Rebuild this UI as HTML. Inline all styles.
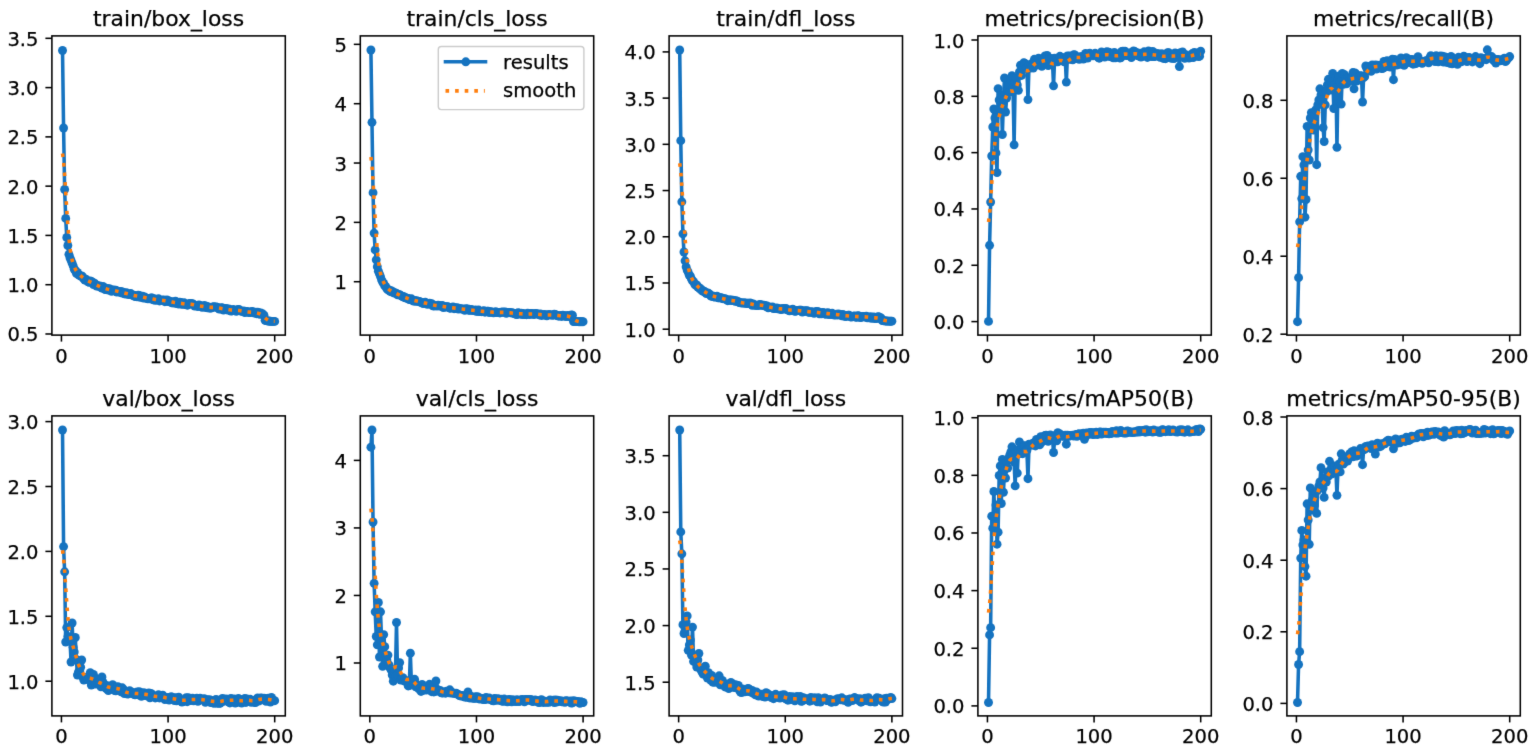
<!DOCTYPE html>
<html><head><meta charset="utf-8"><title>results</title>
<style>
html,body{margin:0;padding:0;background:#fff;}
body{width:1535px;height:751px;overflow:hidden;}
#w{width:1535px;height:751px;}
svg{display:block;font-family:"DejaVu Sans","Liberation Sans",sans-serif;font-size:19.56px;fill:#000;}
text{stroke:#000;stroke-width:0.25px;}
</style></head><body><div id="w">
<svg width="1535" height="751" viewBox="0 0 1535 751">
<defs><filter id="bl" x="0" y="0" width="1" height="1" filterUnits="objectBoundingBox" color-interpolation-filters="sRGB"><feConvolveMatrix order="3" kernelMatrix="0.00810 0.07380 0.00810 0.07380 0.67240 0.07380 0.00810 0.07380 0.00810" edgeMode="duplicate" preserveAlpha="true"/></filter></defs>
<rect width="1535" height="751" fill="#ffffff"/>
<g filter="url(#bl)">
<rect width="1535" height="751" fill="#ffffff"/>
<g><clipPath id="c0"><rect x="51.90" y="35.90" width="233.40" height="299.20"/></clipPath>
<g clip-path="url(#c0)">
<polyline points="62.51,50.50 63.58,128.00 64.64,189.50 65.71,218.40 66.77,237.50 67.84,245.50 68.91,254.30 69.97,257.68 71.04,260.32 72.11,263.09 73.17,265.79 74.24,269.33 75.30,270.29 76.37,273.26 77.44,272.35 78.50,274.85 79.57,275.08 80.64,276.18 81.70,275.90 82.77,276.78 83.83,278.96 84.90,280.07 85.97,279.17 87.03,280.72 88.10,281.77 89.17,282.39 90.23,281.00 91.30,281.43 92.36,282.26 93.43,284.48 94.50,283.11 95.56,284.37 96.63,286.13 97.70,285.58 98.76,286.41 99.83,285.94 100.89,287.26 101.96,288.02 103.03,286.45 104.09,288.59 105.16,289.53 106.22,289.30 107.29,288.51 108.36,290.05 109.42,288.71 110.49,289.84 111.56,291.23 112.62,290.04 113.69,290.29 114.75,290.18 115.82,290.18 116.89,292.01 117.95,291.14 119.02,291.51 120.09,292.30 121.15,291.49 122.22,292.98 123.28,292.19 124.35,293.49 125.42,293.98 126.48,292.78 127.55,293.76 128.62,294.65 129.68,294.20 130.75,293.55 131.81,294.93 132.88,295.45 133.95,295.31 135.01,296.55 136.08,295.90 137.15,296.87 138.21,295.24 139.28,295.44 140.34,297.25 141.41,296.46 142.48,296.10 143.54,298.13 144.61,296.93 145.68,298.09 146.74,298.22 147.81,298.79 148.87,298.36 149.94,298.85 151.01,298.07 152.07,298.06 153.14,299.75 154.21,298.81 155.27,300.28 156.34,299.74 157.40,299.82 158.47,298.78 159.54,300.96 160.60,299.93 161.67,300.42 162.74,300.18 163.80,299.94 164.87,301.72 165.93,301.10 167.00,299.90 168.07,301.54 169.13,301.01 170.20,301.66 171.27,302.69 172.33,301.58 173.40,303.07 174.46,302.55 175.53,301.26 176.60,303.61 177.66,303.20 178.73,304.10 179.80,302.28 180.86,302.35 181.93,304.42 182.99,304.01 184.06,302.66 185.13,304.47 186.19,304.62 187.26,305.18 188.33,304.83 189.39,303.57 190.46,303.47 191.52,303.64 192.59,303.80 193.66,304.47 194.72,306.10 195.79,305.48 196.86,305.66 197.92,306.50 198.99,304.93 200.05,305.45 201.12,306.34 202.19,307.40 203.25,306.57 204.32,305.42 205.39,307.44 206.45,306.22 207.52,307.75 208.58,306.89 209.65,308.17 210.72,308.04 211.78,307.72 212.85,306.85 213.92,306.80 214.98,307.09 216.05,307.03 217.11,307.32 218.18,307.73 219.25,309.02 220.31,308.78 221.38,307.59 222.45,307.86 223.51,310.13 224.58,309.30 225.64,308.54 226.71,308.78 227.78,310.08 228.84,308.88 229.91,309.93 230.98,310.98 232.04,310.81 233.11,309.47 234.17,310.20 235.24,310.62 236.31,311.25 237.37,309.75 238.44,309.55 239.50,309.79 240.57,310.92 241.64,311.33 242.70,311.37 243.77,310.90 244.84,312.64 245.90,311.79 246.97,311.45 248.03,312.00 249.10,312.60 250.17,312.56 251.23,311.74 252.30,311.41 253.37,312.29 254.43,313.06 255.50,312.21 256.56,313.68 257.63,312.19 258.70,312.82 259.76,314.27 260.83,312.90 261.90,314.11 262.96,314.07 264.03,315.42 265.09,320.30 266.16,320.59 267.23,320.83 268.29,321.01 269.36,321.16 270.43,321.26 271.49,321.33 272.56,321.37 273.62,321.39 274.69,321.40" fill="none" stroke="#1573c0" stroke-width="3.56" stroke-linejoin="round" stroke-linecap="square"/>
<circle cx="62.51" cy="50.50" r="4.45" fill="#1573c0"/>
<circle cx="63.58" cy="128.00" r="4.45" fill="#1573c0"/>
<circle cx="64.64" cy="189.50" r="4.45" fill="#1573c0"/>
<circle cx="65.71" cy="218.40" r="4.45" fill="#1573c0"/>
<circle cx="66.77" cy="237.50" r="4.45" fill="#1573c0"/>
<circle cx="67.84" cy="245.50" r="4.45" fill="#1573c0"/>
<circle cx="68.91" cy="254.30" r="4.45" fill="#1573c0"/>
<circle cx="69.97" cy="257.68" r="4.45" fill="#1573c0"/>
<circle cx="71.04" cy="260.32" r="4.45" fill="#1573c0"/>
<circle cx="72.11" cy="263.09" r="4.45" fill="#1573c0"/>
<circle cx="73.17" cy="265.79" r="4.45" fill="#1573c0"/>
<circle cx="74.24" cy="269.33" r="4.45" fill="#1573c0"/>
<circle cx="75.30" cy="270.29" r="4.45" fill="#1573c0"/>
<circle cx="76.37" cy="273.26" r="4.45" fill="#1573c0"/>
<circle cx="77.44" cy="272.35" r="4.45" fill="#1573c0"/>
<circle cx="78.50" cy="274.85" r="4.45" fill="#1573c0"/>
<circle cx="79.57" cy="275.08" r="4.45" fill="#1573c0"/>
<circle cx="80.64" cy="276.18" r="4.45" fill="#1573c0"/>
<circle cx="81.70" cy="275.90" r="4.45" fill="#1573c0"/>
<circle cx="82.77" cy="276.78" r="4.45" fill="#1573c0"/>
<circle cx="83.83" cy="278.96" r="4.45" fill="#1573c0"/>
<circle cx="84.90" cy="280.07" r="4.45" fill="#1573c0"/>
<circle cx="85.97" cy="279.17" r="4.45" fill="#1573c0"/>
<circle cx="87.03" cy="280.72" r="4.45" fill="#1573c0"/>
<circle cx="88.10" cy="281.77" r="4.45" fill="#1573c0"/>
<circle cx="89.17" cy="282.39" r="4.45" fill="#1573c0"/>
<circle cx="90.23" cy="281.00" r="4.45" fill="#1573c0"/>
<circle cx="91.30" cy="281.43" r="4.45" fill="#1573c0"/>
<circle cx="92.36" cy="282.26" r="4.45" fill="#1573c0"/>
<circle cx="93.43" cy="284.48" r="4.45" fill="#1573c0"/>
<circle cx="94.50" cy="283.11" r="4.45" fill="#1573c0"/>
<circle cx="95.56" cy="284.37" r="4.45" fill="#1573c0"/>
<circle cx="96.63" cy="286.13" r="4.45" fill="#1573c0"/>
<circle cx="97.70" cy="285.58" r="4.45" fill="#1573c0"/>
<circle cx="98.76" cy="286.41" r="4.45" fill="#1573c0"/>
<circle cx="99.83" cy="285.94" r="4.45" fill="#1573c0"/>
<circle cx="100.89" cy="287.26" r="4.45" fill="#1573c0"/>
<circle cx="101.96" cy="288.02" r="4.45" fill="#1573c0"/>
<circle cx="103.03" cy="286.45" r="4.45" fill="#1573c0"/>
<circle cx="104.09" cy="288.59" r="4.45" fill="#1573c0"/>
<circle cx="105.16" cy="289.53" r="4.45" fill="#1573c0"/>
<circle cx="106.22" cy="289.30" r="4.45" fill="#1573c0"/>
<circle cx="107.29" cy="288.51" r="4.45" fill="#1573c0"/>
<circle cx="108.36" cy="290.05" r="4.45" fill="#1573c0"/>
<circle cx="109.42" cy="288.71" r="4.45" fill="#1573c0"/>
<circle cx="110.49" cy="289.84" r="4.45" fill="#1573c0"/>
<circle cx="111.56" cy="291.23" r="4.45" fill="#1573c0"/>
<circle cx="112.62" cy="290.04" r="4.45" fill="#1573c0"/>
<circle cx="113.69" cy="290.29" r="4.45" fill="#1573c0"/>
<circle cx="114.75" cy="290.18" r="4.45" fill="#1573c0"/>
<circle cx="115.82" cy="290.18" r="4.45" fill="#1573c0"/>
<circle cx="116.89" cy="292.01" r="4.45" fill="#1573c0"/>
<circle cx="117.95" cy="291.14" r="4.45" fill="#1573c0"/>
<circle cx="119.02" cy="291.51" r="4.45" fill="#1573c0"/>
<circle cx="120.09" cy="292.30" r="4.45" fill="#1573c0"/>
<circle cx="121.15" cy="291.49" r="4.45" fill="#1573c0"/>
<circle cx="122.22" cy="292.98" r="4.45" fill="#1573c0"/>
<circle cx="123.28" cy="292.19" r="4.45" fill="#1573c0"/>
<circle cx="124.35" cy="293.49" r="4.45" fill="#1573c0"/>
<circle cx="125.42" cy="293.98" r="4.45" fill="#1573c0"/>
<circle cx="126.48" cy="292.78" r="4.45" fill="#1573c0"/>
<circle cx="127.55" cy="293.76" r="4.45" fill="#1573c0"/>
<circle cx="128.62" cy="294.65" r="4.45" fill="#1573c0"/>
<circle cx="129.68" cy="294.20" r="4.45" fill="#1573c0"/>
<circle cx="130.75" cy="293.55" r="4.45" fill="#1573c0"/>
<circle cx="131.81" cy="294.93" r="4.45" fill="#1573c0"/>
<circle cx="132.88" cy="295.45" r="4.45" fill="#1573c0"/>
<circle cx="133.95" cy="295.31" r="4.45" fill="#1573c0"/>
<circle cx="135.01" cy="296.55" r="4.45" fill="#1573c0"/>
<circle cx="136.08" cy="295.90" r="4.45" fill="#1573c0"/>
<circle cx="137.15" cy="296.87" r="4.45" fill="#1573c0"/>
<circle cx="138.21" cy="295.24" r="4.45" fill="#1573c0"/>
<circle cx="139.28" cy="295.44" r="4.45" fill="#1573c0"/>
<circle cx="140.34" cy="297.25" r="4.45" fill="#1573c0"/>
<circle cx="141.41" cy="296.46" r="4.45" fill="#1573c0"/>
<circle cx="142.48" cy="296.10" r="4.45" fill="#1573c0"/>
<circle cx="143.54" cy="298.13" r="4.45" fill="#1573c0"/>
<circle cx="144.61" cy="296.93" r="4.45" fill="#1573c0"/>
<circle cx="145.68" cy="298.09" r="4.45" fill="#1573c0"/>
<circle cx="146.74" cy="298.22" r="4.45" fill="#1573c0"/>
<circle cx="147.81" cy="298.79" r="4.45" fill="#1573c0"/>
<circle cx="148.87" cy="298.36" r="4.45" fill="#1573c0"/>
<circle cx="149.94" cy="298.85" r="4.45" fill="#1573c0"/>
<circle cx="151.01" cy="298.07" r="4.45" fill="#1573c0"/>
<circle cx="152.07" cy="298.06" r="4.45" fill="#1573c0"/>
<circle cx="153.14" cy="299.75" r="4.45" fill="#1573c0"/>
<circle cx="154.21" cy="298.81" r="4.45" fill="#1573c0"/>
<circle cx="155.27" cy="300.28" r="4.45" fill="#1573c0"/>
<circle cx="156.34" cy="299.74" r="4.45" fill="#1573c0"/>
<circle cx="157.40" cy="299.82" r="4.45" fill="#1573c0"/>
<circle cx="158.47" cy="298.78" r="4.45" fill="#1573c0"/>
<circle cx="159.54" cy="300.96" r="4.45" fill="#1573c0"/>
<circle cx="160.60" cy="299.93" r="4.45" fill="#1573c0"/>
<circle cx="161.67" cy="300.42" r="4.45" fill="#1573c0"/>
<circle cx="162.74" cy="300.18" r="4.45" fill="#1573c0"/>
<circle cx="163.80" cy="299.94" r="4.45" fill="#1573c0"/>
<circle cx="164.87" cy="301.72" r="4.45" fill="#1573c0"/>
<circle cx="165.93" cy="301.10" r="4.45" fill="#1573c0"/>
<circle cx="167.00" cy="299.90" r="4.45" fill="#1573c0"/>
<circle cx="168.07" cy="301.54" r="4.45" fill="#1573c0"/>
<circle cx="169.13" cy="301.01" r="4.45" fill="#1573c0"/>
<circle cx="170.20" cy="301.66" r="4.45" fill="#1573c0"/>
<circle cx="171.27" cy="302.69" r="4.45" fill="#1573c0"/>
<circle cx="172.33" cy="301.58" r="4.45" fill="#1573c0"/>
<circle cx="173.40" cy="303.07" r="4.45" fill="#1573c0"/>
<circle cx="174.46" cy="302.55" r="4.45" fill="#1573c0"/>
<circle cx="175.53" cy="301.26" r="4.45" fill="#1573c0"/>
<circle cx="176.60" cy="303.61" r="4.45" fill="#1573c0"/>
<circle cx="177.66" cy="303.20" r="4.45" fill="#1573c0"/>
<circle cx="178.73" cy="304.10" r="4.45" fill="#1573c0"/>
<circle cx="179.80" cy="302.28" r="4.45" fill="#1573c0"/>
<circle cx="180.86" cy="302.35" r="4.45" fill="#1573c0"/>
<circle cx="181.93" cy="304.42" r="4.45" fill="#1573c0"/>
<circle cx="182.99" cy="304.01" r="4.45" fill="#1573c0"/>
<circle cx="184.06" cy="302.66" r="4.45" fill="#1573c0"/>
<circle cx="185.13" cy="304.47" r="4.45" fill="#1573c0"/>
<circle cx="186.19" cy="304.62" r="4.45" fill="#1573c0"/>
<circle cx="187.26" cy="305.18" r="4.45" fill="#1573c0"/>
<circle cx="188.33" cy="304.83" r="4.45" fill="#1573c0"/>
<circle cx="189.39" cy="303.57" r="4.45" fill="#1573c0"/>
<circle cx="190.46" cy="303.47" r="4.45" fill="#1573c0"/>
<circle cx="191.52" cy="303.64" r="4.45" fill="#1573c0"/>
<circle cx="192.59" cy="303.80" r="4.45" fill="#1573c0"/>
<circle cx="193.66" cy="304.47" r="4.45" fill="#1573c0"/>
<circle cx="194.72" cy="306.10" r="4.45" fill="#1573c0"/>
<circle cx="195.79" cy="305.48" r="4.45" fill="#1573c0"/>
<circle cx="196.86" cy="305.66" r="4.45" fill="#1573c0"/>
<circle cx="197.92" cy="306.50" r="4.45" fill="#1573c0"/>
<circle cx="198.99" cy="304.93" r="4.45" fill="#1573c0"/>
<circle cx="200.05" cy="305.45" r="4.45" fill="#1573c0"/>
<circle cx="201.12" cy="306.34" r="4.45" fill="#1573c0"/>
<circle cx="202.19" cy="307.40" r="4.45" fill="#1573c0"/>
<circle cx="203.25" cy="306.57" r="4.45" fill="#1573c0"/>
<circle cx="204.32" cy="305.42" r="4.45" fill="#1573c0"/>
<circle cx="205.39" cy="307.44" r="4.45" fill="#1573c0"/>
<circle cx="206.45" cy="306.22" r="4.45" fill="#1573c0"/>
<circle cx="207.52" cy="307.75" r="4.45" fill="#1573c0"/>
<circle cx="208.58" cy="306.89" r="4.45" fill="#1573c0"/>
<circle cx="209.65" cy="308.17" r="4.45" fill="#1573c0"/>
<circle cx="210.72" cy="308.04" r="4.45" fill="#1573c0"/>
<circle cx="211.78" cy="307.72" r="4.45" fill="#1573c0"/>
<circle cx="212.85" cy="306.85" r="4.45" fill="#1573c0"/>
<circle cx="213.92" cy="306.80" r="4.45" fill="#1573c0"/>
<circle cx="214.98" cy="307.09" r="4.45" fill="#1573c0"/>
<circle cx="216.05" cy="307.03" r="4.45" fill="#1573c0"/>
<circle cx="217.11" cy="307.32" r="4.45" fill="#1573c0"/>
<circle cx="218.18" cy="307.73" r="4.45" fill="#1573c0"/>
<circle cx="219.25" cy="309.02" r="4.45" fill="#1573c0"/>
<circle cx="220.31" cy="308.78" r="4.45" fill="#1573c0"/>
<circle cx="221.38" cy="307.59" r="4.45" fill="#1573c0"/>
<circle cx="222.45" cy="307.86" r="4.45" fill="#1573c0"/>
<circle cx="223.51" cy="310.13" r="4.45" fill="#1573c0"/>
<circle cx="224.58" cy="309.30" r="4.45" fill="#1573c0"/>
<circle cx="225.64" cy="308.54" r="4.45" fill="#1573c0"/>
<circle cx="226.71" cy="308.78" r="4.45" fill="#1573c0"/>
<circle cx="227.78" cy="310.08" r="4.45" fill="#1573c0"/>
<circle cx="228.84" cy="308.88" r="4.45" fill="#1573c0"/>
<circle cx="229.91" cy="309.93" r="4.45" fill="#1573c0"/>
<circle cx="230.98" cy="310.98" r="4.45" fill="#1573c0"/>
<circle cx="232.04" cy="310.81" r="4.45" fill="#1573c0"/>
<circle cx="233.11" cy="309.47" r="4.45" fill="#1573c0"/>
<circle cx="234.17" cy="310.20" r="4.45" fill="#1573c0"/>
<circle cx="235.24" cy="310.62" r="4.45" fill="#1573c0"/>
<circle cx="236.31" cy="311.25" r="4.45" fill="#1573c0"/>
<circle cx="237.37" cy="309.75" r="4.45" fill="#1573c0"/>
<circle cx="238.44" cy="309.55" r="4.45" fill="#1573c0"/>
<circle cx="239.50" cy="309.79" r="4.45" fill="#1573c0"/>
<circle cx="240.57" cy="310.92" r="4.45" fill="#1573c0"/>
<circle cx="241.64" cy="311.33" r="4.45" fill="#1573c0"/>
<circle cx="242.70" cy="311.37" r="4.45" fill="#1573c0"/>
<circle cx="243.77" cy="310.90" r="4.45" fill="#1573c0"/>
<circle cx="244.84" cy="312.64" r="4.45" fill="#1573c0"/>
<circle cx="245.90" cy="311.79" r="4.45" fill="#1573c0"/>
<circle cx="246.97" cy="311.45" r="4.45" fill="#1573c0"/>
<circle cx="248.03" cy="312.00" r="4.45" fill="#1573c0"/>
<circle cx="249.10" cy="312.60" r="4.45" fill="#1573c0"/>
<circle cx="250.17" cy="312.56" r="4.45" fill="#1573c0"/>
<circle cx="251.23" cy="311.74" r="4.45" fill="#1573c0"/>
<circle cx="252.30" cy="311.41" r="4.45" fill="#1573c0"/>
<circle cx="253.37" cy="312.29" r="4.45" fill="#1573c0"/>
<circle cx="254.43" cy="313.06" r="4.45" fill="#1573c0"/>
<circle cx="255.50" cy="312.21" r="4.45" fill="#1573c0"/>
<circle cx="256.56" cy="313.68" r="4.45" fill="#1573c0"/>
<circle cx="257.63" cy="312.19" r="4.45" fill="#1573c0"/>
<circle cx="258.70" cy="312.82" r="4.45" fill="#1573c0"/>
<circle cx="259.76" cy="314.27" r="4.45" fill="#1573c0"/>
<circle cx="260.83" cy="312.90" r="4.45" fill="#1573c0"/>
<circle cx="261.90" cy="314.11" r="4.45" fill="#1573c0"/>
<circle cx="262.96" cy="314.07" r="4.45" fill="#1573c0"/>
<circle cx="264.03" cy="315.42" r="4.45" fill="#1573c0"/>
<circle cx="265.09" cy="320.30" r="4.45" fill="#1573c0"/>
<circle cx="266.16" cy="320.59" r="4.45" fill="#1573c0"/>
<circle cx="267.23" cy="320.83" r="4.45" fill="#1573c0"/>
<circle cx="268.29" cy="321.01" r="4.45" fill="#1573c0"/>
<circle cx="269.36" cy="321.16" r="4.45" fill="#1573c0"/>
<circle cx="270.43" cy="321.26" r="4.45" fill="#1573c0"/>
<circle cx="271.49" cy="321.33" r="4.45" fill="#1573c0"/>
<circle cx="272.56" cy="321.37" r="4.45" fill="#1573c0"/>
<circle cx="273.62" cy="321.39" r="4.45" fill="#1573c0"/>
<circle cx="274.69" cy="321.40" r="4.45" fill="#1573c0"/>
<polyline points="62.51,153.41 63.58,161.24 64.64,175.14 65.71,192.29 66.77,209.78 67.84,225.45 68.91,238.20 69.97,247.89 71.04,254.96 72.11,260.08 73.17,263.85 74.24,266.73 75.30,269.00 76.37,270.83 77.44,272.34 78.50,273.60 79.57,274.69 80.64,275.66 81.70,276.56 82.77,277.41 83.83,278.22 84.90,278.98 85.97,279.67 87.03,280.30 88.10,280.87 89.17,281.38 90.23,281.86 91.30,282.35 92.36,282.85 93.43,283.39 94.50,283.95 95.56,284.50 96.63,285.05 97.70,285.56 98.76,286.05 99.83,286.51 100.89,286.95 101.96,287.37 103.03,287.77 104.09,288.16 105.16,288.51 106.22,288.83 107.29,289.12 108.36,289.37 109.42,289.61 110.49,289.83 111.56,290.04 112.62,290.24 113.69,290.44 114.75,290.65 115.82,290.88 116.89,291.12 117.95,291.38 119.02,291.65 120.09,291.92 121.15,292.20 122.22,292.48 123.28,292.75 124.35,293.03 125.42,293.29 126.48,293.54 127.55,293.79 128.62,294.04 129.68,294.30 130.75,294.57 131.81,294.85 132.88,295.14 133.95,295.40 135.01,295.64 136.08,295.84 137.15,296.00 138.21,296.16 139.28,296.32 140.34,296.51 141.41,296.73 142.48,296.98 143.54,297.24 144.61,297.51 145.68,297.76 146.74,298.00 147.81,298.20 148.87,298.38 149.94,298.54 151.01,298.70 152.07,298.87 153.14,299.06 154.21,299.24 155.27,299.42 156.34,299.58 157.40,299.73 158.47,299.87 159.54,300.01 160.60,300.14 161.67,300.28 162.74,300.42 163.80,300.57 164.87,300.72 165.93,300.88 167.00,301.05 168.07,301.25 169.13,301.45 170.20,301.67 171.27,301.89 172.33,302.10 173.40,302.29 174.46,302.47 175.53,302.64 176.60,302.80 177.66,302.95 178.73,303.09 179.80,303.22 180.86,303.37 181.93,303.52 182.99,303.69 184.06,303.85 185.13,304.00 186.19,304.10 187.26,304.17 188.33,304.20 189.39,304.23 190.46,304.28 191.52,304.38 192.59,304.55 193.66,304.78 194.72,305.02 195.79,305.27 196.86,305.49 197.92,305.68 198.99,305.85 200.05,306.01 201.12,306.17 202.19,306.32 203.25,306.48 204.32,306.63 205.39,306.79 206.45,306.95 207.52,307.10 208.58,307.23 209.65,307.32 210.72,307.36 211.78,307.37 212.85,307.36 213.92,307.37 214.98,307.43 216.05,307.53 217.11,307.68 218.18,307.87 219.25,308.07 220.31,308.27 221.38,308.46 222.45,308.64 223.51,308.81 224.58,308.97 225.64,309.14 226.71,309.31 227.78,309.49 228.84,309.67 229.91,309.85 230.98,310.00 232.04,310.12 233.11,310.21 234.17,310.26 235.24,310.30 236.31,310.33 237.37,310.38 238.44,310.46 239.50,310.59 240.57,310.77 241.64,310.97 242.70,311.19 243.77,311.40 244.84,311.58 245.90,311.74 246.97,311.86 248.03,311.96 249.10,312.04 250.17,312.12 251.23,312.19 252.30,312.28 253.37,312.40 254.43,312.53 255.50,312.70 256.56,312.89 257.63,313.13 258.70,313.44 259.76,313.86 260.83,314.42 261.90,315.14 262.96,316.00 264.03,316.96 265.09,317.93 266.16,318.85 267.23,319.62 268.29,320.23 269.36,320.66 270.43,320.95 271.49,321.13 272.56,321.24 273.62,321.30 274.69,321.33" fill="none" stroke="#ff7f0e" stroke-width="3.56" stroke-dasharray="3.62 5.98" stroke-linejoin="round"/>
</g>
<rect x="51.90" y="35.90" width="233.40" height="299.20" fill="none" stroke="#000" stroke-width="1.55" stroke-linejoin="miter"/>
<line x1="51.90" y1="333.98" x2="45.40" y2="333.98" stroke="#000" stroke-width="1.55"/>
<text x="38.50" y="341.48" text-anchor="end">0.5</text>
<line x1="51.90" y1="284.70" x2="45.40" y2="284.70" stroke="#000" stroke-width="1.55"/>
<text x="38.50" y="292.20" text-anchor="end">1.0</text>
<line x1="51.90" y1="235.42" x2="45.40" y2="235.42" stroke="#000" stroke-width="1.55"/>
<text x="38.50" y="242.92" text-anchor="end">1.5</text>
<line x1="51.90" y1="186.15" x2="45.40" y2="186.15" stroke="#000" stroke-width="1.55"/>
<text x="38.50" y="193.65" text-anchor="end">2.0</text>
<line x1="51.90" y1="136.88" x2="45.40" y2="136.88" stroke="#000" stroke-width="1.55"/>
<text x="38.50" y="144.38" text-anchor="end">2.5</text>
<line x1="51.90" y1="87.60" x2="45.40" y2="87.60" stroke="#000" stroke-width="1.55"/>
<text x="38.50" y="95.10" text-anchor="end">3.0</text>
<line x1="51.90" y1="38.32" x2="45.40" y2="38.32" stroke="#000" stroke-width="1.55"/>
<text x="38.50" y="45.82" text-anchor="end">3.5</text>
<line x1="61.44" y1="335.10" x2="61.44" y2="341.60" stroke="#000" stroke-width="1.55"/>
<text x="61.44" y="362.60" text-anchor="middle">0</text>
<line x1="168.07" y1="335.10" x2="168.07" y2="341.60" stroke="#000" stroke-width="1.55"/>
<text x="168.07" y="362.60" text-anchor="middle">100</text>
<line x1="274.69" y1="335.10" x2="274.69" y2="341.60" stroke="#000" stroke-width="1.55"/>
<text x="274.69" y="362.60" text-anchor="middle">200</text>
<text x="168.60" y="25.63" text-anchor="middle" font-size="21.9">train/box_loss</text></g>
<g><clipPath id="c1"><rect x="360.30" y="35.90" width="233.40" height="299.20"/></clipPath>
<g clip-path="url(#c1)">
<polyline points="370.91,50.00 371.98,122.30 373.04,192.70 374.11,233.10 375.17,249.90 376.24,259.80 377.31,266.70 378.37,271.19 379.44,273.85 380.51,276.53 381.57,279.81 382.64,282.02 383.70,283.37 384.77,285.90 385.84,286.57 386.90,288.79 387.97,289.85 389.04,289.98 390.10,291.45 391.17,290.62 392.23,292.12 393.30,291.83 394.37,293.10 395.43,292.95 396.50,293.50 397.57,294.90 398.63,294.61 399.70,294.81 400.76,295.47 401.83,296.14 402.90,296.77 403.96,296.62 405.03,297.86 406.10,297.89 407.16,298.27 408.23,298.35 409.29,299.48 410.36,299.36 411.43,298.82 412.49,300.19 413.56,301.00 414.62,300.35 415.69,301.41 416.76,300.60 417.82,301.33 418.89,301.34 419.96,301.64 421.02,302.60 422.09,302.39 423.15,303.51 424.22,302.96 425.29,302.30 426.35,303.13 427.42,304.35 428.49,303.71 429.55,303.19 430.62,303.86 431.68,303.72 432.75,305.79 433.82,305.95 434.88,305.80 435.95,305.59 437.02,306.10 438.08,305.09 439.15,305.51 440.21,306.15 441.28,305.98 442.35,305.53 443.41,307.57 444.48,306.65 445.55,306.93 446.61,306.73 447.68,306.76 448.74,307.17 449.81,308.21 450.88,308.16 451.94,307.59 453.01,307.00 454.08,308.71 455.14,307.80 456.21,308.56 457.27,307.58 458.34,308.98 459.41,308.56 460.47,308.91 461.54,308.87 462.61,308.87 463.67,309.39 464.74,310.35 465.80,308.75 466.87,309.27 467.94,308.84 469.00,310.34 470.07,310.29 471.14,309.51 472.20,310.02 473.27,310.58 474.33,310.72 475.40,309.84 476.47,311.37 477.53,311.26 478.60,310.07 479.67,311.64 480.73,311.50 481.80,311.69 482.86,311.27 483.93,310.72 485.00,312.21 486.06,311.65 487.13,311.25 488.20,311.17 489.26,312.56 490.33,311.66 491.39,311.99 492.46,312.21 493.53,312.73 494.59,312.40 495.66,311.59 496.73,312.50 497.79,312.38 498.86,312.57 499.92,312.95 500.99,312.12 502.06,312.08 503.12,312.00 504.19,312.40 505.26,311.95 506.32,313.25 507.39,312.66 508.45,312.51 509.52,312.39 510.59,312.83 511.65,312.76 512.72,312.97 513.79,313.40 514.85,313.62 515.92,314.27 516.98,314.62 518.05,312.80 519.12,313.22 520.18,314.10 521.25,313.19 522.32,314.66 523.38,313.40 524.45,314.50 525.51,314.37 526.58,314.71 527.65,313.22 528.71,313.67 529.78,314.66 530.85,313.47 531.91,313.40 532.98,314.09 534.04,314.60 535.11,313.56 536.18,313.63 537.24,313.63 538.31,314.37 539.38,314.96 540.44,314.06 541.51,315.45 542.57,314.60 543.64,315.02 544.71,314.40 545.77,315.09 546.84,315.80 547.90,314.83 548.97,314.39 550.04,314.87 551.10,314.95 552.17,315.12 553.24,315.20 554.30,314.28 555.37,314.57 556.43,315.19 557.50,315.75 558.57,315.94 559.63,315.99 560.70,315.50 561.77,316.46 562.83,315.26 563.90,315.61 564.96,316.18 566.03,316.43 567.10,315.57 568.16,316.48 569.23,315.73 570.30,316.36 571.36,315.06 572.43,315.25 573.49,321.50 574.56,321.55 575.63,321.60 576.69,321.63 577.76,321.66 578.83,321.68 579.89,321.69 580.96,321.70 582.02,321.70 583.09,321.70" fill="none" stroke="#1573c0" stroke-width="3.56" stroke-linejoin="round" stroke-linecap="square"/>
<circle cx="370.91" cy="50.00" r="4.45" fill="#1573c0"/>
<circle cx="371.98" cy="122.30" r="4.45" fill="#1573c0"/>
<circle cx="373.04" cy="192.70" r="4.45" fill="#1573c0"/>
<circle cx="374.11" cy="233.10" r="4.45" fill="#1573c0"/>
<circle cx="375.17" cy="249.90" r="4.45" fill="#1573c0"/>
<circle cx="376.24" cy="259.80" r="4.45" fill="#1573c0"/>
<circle cx="377.31" cy="266.70" r="4.45" fill="#1573c0"/>
<circle cx="378.37" cy="271.19" r="4.45" fill="#1573c0"/>
<circle cx="379.44" cy="273.85" r="4.45" fill="#1573c0"/>
<circle cx="380.51" cy="276.53" r="4.45" fill="#1573c0"/>
<circle cx="381.57" cy="279.81" r="4.45" fill="#1573c0"/>
<circle cx="382.64" cy="282.02" r="4.45" fill="#1573c0"/>
<circle cx="383.70" cy="283.37" r="4.45" fill="#1573c0"/>
<circle cx="384.77" cy="285.90" r="4.45" fill="#1573c0"/>
<circle cx="385.84" cy="286.57" r="4.45" fill="#1573c0"/>
<circle cx="386.90" cy="288.79" r="4.45" fill="#1573c0"/>
<circle cx="387.97" cy="289.85" r="4.45" fill="#1573c0"/>
<circle cx="389.04" cy="289.98" r="4.45" fill="#1573c0"/>
<circle cx="390.10" cy="291.45" r="4.45" fill="#1573c0"/>
<circle cx="391.17" cy="290.62" r="4.45" fill="#1573c0"/>
<circle cx="392.23" cy="292.12" r="4.45" fill="#1573c0"/>
<circle cx="393.30" cy="291.83" r="4.45" fill="#1573c0"/>
<circle cx="394.37" cy="293.10" r="4.45" fill="#1573c0"/>
<circle cx="395.43" cy="292.95" r="4.45" fill="#1573c0"/>
<circle cx="396.50" cy="293.50" r="4.45" fill="#1573c0"/>
<circle cx="397.57" cy="294.90" r="4.45" fill="#1573c0"/>
<circle cx="398.63" cy="294.61" r="4.45" fill="#1573c0"/>
<circle cx="399.70" cy="294.81" r="4.45" fill="#1573c0"/>
<circle cx="400.76" cy="295.47" r="4.45" fill="#1573c0"/>
<circle cx="401.83" cy="296.14" r="4.45" fill="#1573c0"/>
<circle cx="402.90" cy="296.77" r="4.45" fill="#1573c0"/>
<circle cx="403.96" cy="296.62" r="4.45" fill="#1573c0"/>
<circle cx="405.03" cy="297.86" r="4.45" fill="#1573c0"/>
<circle cx="406.10" cy="297.89" r="4.45" fill="#1573c0"/>
<circle cx="407.16" cy="298.27" r="4.45" fill="#1573c0"/>
<circle cx="408.23" cy="298.35" r="4.45" fill="#1573c0"/>
<circle cx="409.29" cy="299.48" r="4.45" fill="#1573c0"/>
<circle cx="410.36" cy="299.36" r="4.45" fill="#1573c0"/>
<circle cx="411.43" cy="298.82" r="4.45" fill="#1573c0"/>
<circle cx="412.49" cy="300.19" r="4.45" fill="#1573c0"/>
<circle cx="413.56" cy="301.00" r="4.45" fill="#1573c0"/>
<circle cx="414.62" cy="300.35" r="4.45" fill="#1573c0"/>
<circle cx="415.69" cy="301.41" r="4.45" fill="#1573c0"/>
<circle cx="416.76" cy="300.60" r="4.45" fill="#1573c0"/>
<circle cx="417.82" cy="301.33" r="4.45" fill="#1573c0"/>
<circle cx="418.89" cy="301.34" r="4.45" fill="#1573c0"/>
<circle cx="419.96" cy="301.64" r="4.45" fill="#1573c0"/>
<circle cx="421.02" cy="302.60" r="4.45" fill="#1573c0"/>
<circle cx="422.09" cy="302.39" r="4.45" fill="#1573c0"/>
<circle cx="423.15" cy="303.51" r="4.45" fill="#1573c0"/>
<circle cx="424.22" cy="302.96" r="4.45" fill="#1573c0"/>
<circle cx="425.29" cy="302.30" r="4.45" fill="#1573c0"/>
<circle cx="426.35" cy="303.13" r="4.45" fill="#1573c0"/>
<circle cx="427.42" cy="304.35" r="4.45" fill="#1573c0"/>
<circle cx="428.49" cy="303.71" r="4.45" fill="#1573c0"/>
<circle cx="429.55" cy="303.19" r="4.45" fill="#1573c0"/>
<circle cx="430.62" cy="303.86" r="4.45" fill="#1573c0"/>
<circle cx="431.68" cy="303.72" r="4.45" fill="#1573c0"/>
<circle cx="432.75" cy="305.79" r="4.45" fill="#1573c0"/>
<circle cx="433.82" cy="305.95" r="4.45" fill="#1573c0"/>
<circle cx="434.88" cy="305.80" r="4.45" fill="#1573c0"/>
<circle cx="435.95" cy="305.59" r="4.45" fill="#1573c0"/>
<circle cx="437.02" cy="306.10" r="4.45" fill="#1573c0"/>
<circle cx="438.08" cy="305.09" r="4.45" fill="#1573c0"/>
<circle cx="439.15" cy="305.51" r="4.45" fill="#1573c0"/>
<circle cx="440.21" cy="306.15" r="4.45" fill="#1573c0"/>
<circle cx="441.28" cy="305.98" r="4.45" fill="#1573c0"/>
<circle cx="442.35" cy="305.53" r="4.45" fill="#1573c0"/>
<circle cx="443.41" cy="307.57" r="4.45" fill="#1573c0"/>
<circle cx="444.48" cy="306.65" r="4.45" fill="#1573c0"/>
<circle cx="445.55" cy="306.93" r="4.45" fill="#1573c0"/>
<circle cx="446.61" cy="306.73" r="4.45" fill="#1573c0"/>
<circle cx="447.68" cy="306.76" r="4.45" fill="#1573c0"/>
<circle cx="448.74" cy="307.17" r="4.45" fill="#1573c0"/>
<circle cx="449.81" cy="308.21" r="4.45" fill="#1573c0"/>
<circle cx="450.88" cy="308.16" r="4.45" fill="#1573c0"/>
<circle cx="451.94" cy="307.59" r="4.45" fill="#1573c0"/>
<circle cx="453.01" cy="307.00" r="4.45" fill="#1573c0"/>
<circle cx="454.08" cy="308.71" r="4.45" fill="#1573c0"/>
<circle cx="455.14" cy="307.80" r="4.45" fill="#1573c0"/>
<circle cx="456.21" cy="308.56" r="4.45" fill="#1573c0"/>
<circle cx="457.27" cy="307.58" r="4.45" fill="#1573c0"/>
<circle cx="458.34" cy="308.98" r="4.45" fill="#1573c0"/>
<circle cx="459.41" cy="308.56" r="4.45" fill="#1573c0"/>
<circle cx="460.47" cy="308.91" r="4.45" fill="#1573c0"/>
<circle cx="461.54" cy="308.87" r="4.45" fill="#1573c0"/>
<circle cx="462.61" cy="308.87" r="4.45" fill="#1573c0"/>
<circle cx="463.67" cy="309.39" r="4.45" fill="#1573c0"/>
<circle cx="464.74" cy="310.35" r="4.45" fill="#1573c0"/>
<circle cx="465.80" cy="308.75" r="4.45" fill="#1573c0"/>
<circle cx="466.87" cy="309.27" r="4.45" fill="#1573c0"/>
<circle cx="467.94" cy="308.84" r="4.45" fill="#1573c0"/>
<circle cx="469.00" cy="310.34" r="4.45" fill="#1573c0"/>
<circle cx="470.07" cy="310.29" r="4.45" fill="#1573c0"/>
<circle cx="471.14" cy="309.51" r="4.45" fill="#1573c0"/>
<circle cx="472.20" cy="310.02" r="4.45" fill="#1573c0"/>
<circle cx="473.27" cy="310.58" r="4.45" fill="#1573c0"/>
<circle cx="474.33" cy="310.72" r="4.45" fill="#1573c0"/>
<circle cx="475.40" cy="309.84" r="4.45" fill="#1573c0"/>
<circle cx="476.47" cy="311.37" r="4.45" fill="#1573c0"/>
<circle cx="477.53" cy="311.26" r="4.45" fill="#1573c0"/>
<circle cx="478.60" cy="310.07" r="4.45" fill="#1573c0"/>
<circle cx="479.67" cy="311.64" r="4.45" fill="#1573c0"/>
<circle cx="480.73" cy="311.50" r="4.45" fill="#1573c0"/>
<circle cx="481.80" cy="311.69" r="4.45" fill="#1573c0"/>
<circle cx="482.86" cy="311.27" r="4.45" fill="#1573c0"/>
<circle cx="483.93" cy="310.72" r="4.45" fill="#1573c0"/>
<circle cx="485.00" cy="312.21" r="4.45" fill="#1573c0"/>
<circle cx="486.06" cy="311.65" r="4.45" fill="#1573c0"/>
<circle cx="487.13" cy="311.25" r="4.45" fill="#1573c0"/>
<circle cx="488.20" cy="311.17" r="4.45" fill="#1573c0"/>
<circle cx="489.26" cy="312.56" r="4.45" fill="#1573c0"/>
<circle cx="490.33" cy="311.66" r="4.45" fill="#1573c0"/>
<circle cx="491.39" cy="311.99" r="4.45" fill="#1573c0"/>
<circle cx="492.46" cy="312.21" r="4.45" fill="#1573c0"/>
<circle cx="493.53" cy="312.73" r="4.45" fill="#1573c0"/>
<circle cx="494.59" cy="312.40" r="4.45" fill="#1573c0"/>
<circle cx="495.66" cy="311.59" r="4.45" fill="#1573c0"/>
<circle cx="496.73" cy="312.50" r="4.45" fill="#1573c0"/>
<circle cx="497.79" cy="312.38" r="4.45" fill="#1573c0"/>
<circle cx="498.86" cy="312.57" r="4.45" fill="#1573c0"/>
<circle cx="499.92" cy="312.95" r="4.45" fill="#1573c0"/>
<circle cx="500.99" cy="312.12" r="4.45" fill="#1573c0"/>
<circle cx="502.06" cy="312.08" r="4.45" fill="#1573c0"/>
<circle cx="503.12" cy="312.00" r="4.45" fill="#1573c0"/>
<circle cx="504.19" cy="312.40" r="4.45" fill="#1573c0"/>
<circle cx="505.26" cy="311.95" r="4.45" fill="#1573c0"/>
<circle cx="506.32" cy="313.25" r="4.45" fill="#1573c0"/>
<circle cx="507.39" cy="312.66" r="4.45" fill="#1573c0"/>
<circle cx="508.45" cy="312.51" r="4.45" fill="#1573c0"/>
<circle cx="509.52" cy="312.39" r="4.45" fill="#1573c0"/>
<circle cx="510.59" cy="312.83" r="4.45" fill="#1573c0"/>
<circle cx="511.65" cy="312.76" r="4.45" fill="#1573c0"/>
<circle cx="512.72" cy="312.97" r="4.45" fill="#1573c0"/>
<circle cx="513.79" cy="313.40" r="4.45" fill="#1573c0"/>
<circle cx="514.85" cy="313.62" r="4.45" fill="#1573c0"/>
<circle cx="515.92" cy="314.27" r="4.45" fill="#1573c0"/>
<circle cx="516.98" cy="314.62" r="4.45" fill="#1573c0"/>
<circle cx="518.05" cy="312.80" r="4.45" fill="#1573c0"/>
<circle cx="519.12" cy="313.22" r="4.45" fill="#1573c0"/>
<circle cx="520.18" cy="314.10" r="4.45" fill="#1573c0"/>
<circle cx="521.25" cy="313.19" r="4.45" fill="#1573c0"/>
<circle cx="522.32" cy="314.66" r="4.45" fill="#1573c0"/>
<circle cx="523.38" cy="313.40" r="4.45" fill="#1573c0"/>
<circle cx="524.45" cy="314.50" r="4.45" fill="#1573c0"/>
<circle cx="525.51" cy="314.37" r="4.45" fill="#1573c0"/>
<circle cx="526.58" cy="314.71" r="4.45" fill="#1573c0"/>
<circle cx="527.65" cy="313.22" r="4.45" fill="#1573c0"/>
<circle cx="528.71" cy="313.67" r="4.45" fill="#1573c0"/>
<circle cx="529.78" cy="314.66" r="4.45" fill="#1573c0"/>
<circle cx="530.85" cy="313.47" r="4.45" fill="#1573c0"/>
<circle cx="531.91" cy="313.40" r="4.45" fill="#1573c0"/>
<circle cx="532.98" cy="314.09" r="4.45" fill="#1573c0"/>
<circle cx="534.04" cy="314.60" r="4.45" fill="#1573c0"/>
<circle cx="535.11" cy="313.56" r="4.45" fill="#1573c0"/>
<circle cx="536.18" cy="313.63" r="4.45" fill="#1573c0"/>
<circle cx="537.24" cy="313.63" r="4.45" fill="#1573c0"/>
<circle cx="538.31" cy="314.37" r="4.45" fill="#1573c0"/>
<circle cx="539.38" cy="314.96" r="4.45" fill="#1573c0"/>
<circle cx="540.44" cy="314.06" r="4.45" fill="#1573c0"/>
<circle cx="541.51" cy="315.45" r="4.45" fill="#1573c0"/>
<circle cx="542.57" cy="314.60" r="4.45" fill="#1573c0"/>
<circle cx="543.64" cy="315.02" r="4.45" fill="#1573c0"/>
<circle cx="544.71" cy="314.40" r="4.45" fill="#1573c0"/>
<circle cx="545.77" cy="315.09" r="4.45" fill="#1573c0"/>
<circle cx="546.84" cy="315.80" r="4.45" fill="#1573c0"/>
<circle cx="547.90" cy="314.83" r="4.45" fill="#1573c0"/>
<circle cx="548.97" cy="314.39" r="4.45" fill="#1573c0"/>
<circle cx="550.04" cy="314.87" r="4.45" fill="#1573c0"/>
<circle cx="551.10" cy="314.95" r="4.45" fill="#1573c0"/>
<circle cx="552.17" cy="315.12" r="4.45" fill="#1573c0"/>
<circle cx="553.24" cy="315.20" r="4.45" fill="#1573c0"/>
<circle cx="554.30" cy="314.28" r="4.45" fill="#1573c0"/>
<circle cx="555.37" cy="314.57" r="4.45" fill="#1573c0"/>
<circle cx="556.43" cy="315.19" r="4.45" fill="#1573c0"/>
<circle cx="557.50" cy="315.75" r="4.45" fill="#1573c0"/>
<circle cx="558.57" cy="315.94" r="4.45" fill="#1573c0"/>
<circle cx="559.63" cy="315.99" r="4.45" fill="#1573c0"/>
<circle cx="560.70" cy="315.50" r="4.45" fill="#1573c0"/>
<circle cx="561.77" cy="316.46" r="4.45" fill="#1573c0"/>
<circle cx="562.83" cy="315.26" r="4.45" fill="#1573c0"/>
<circle cx="563.90" cy="315.61" r="4.45" fill="#1573c0"/>
<circle cx="564.96" cy="316.18" r="4.45" fill="#1573c0"/>
<circle cx="566.03" cy="316.43" r="4.45" fill="#1573c0"/>
<circle cx="567.10" cy="315.57" r="4.45" fill="#1573c0"/>
<circle cx="568.16" cy="316.48" r="4.45" fill="#1573c0"/>
<circle cx="569.23" cy="315.73" r="4.45" fill="#1573c0"/>
<circle cx="570.30" cy="316.36" r="4.45" fill="#1573c0"/>
<circle cx="571.36" cy="315.06" r="4.45" fill="#1573c0"/>
<circle cx="572.43" cy="315.25" r="4.45" fill="#1573c0"/>
<circle cx="573.49" cy="321.50" r="4.45" fill="#1573c0"/>
<circle cx="574.56" cy="321.55" r="4.45" fill="#1573c0"/>
<circle cx="575.63" cy="321.60" r="4.45" fill="#1573c0"/>
<circle cx="576.69" cy="321.63" r="4.45" fill="#1573c0"/>
<circle cx="577.76" cy="321.66" r="4.45" fill="#1573c0"/>
<circle cx="578.83" cy="321.68" r="4.45" fill="#1573c0"/>
<circle cx="579.89" cy="321.69" r="4.45" fill="#1573c0"/>
<circle cx="580.96" cy="321.70" r="4.45" fill="#1573c0"/>
<circle cx="582.02" cy="321.70" r="4.45" fill="#1573c0"/>
<circle cx="583.09" cy="321.70" r="4.45" fill="#1573c0"/>
<polyline points="370.91,156.98 371.98,165.60 373.04,180.89 374.11,199.76 375.17,218.96 376.24,236.11 377.31,249.96 378.37,260.39 379.44,267.91 380.51,273.27 381.57,277.17 382.64,280.13 383.70,282.49 384.77,284.43 385.84,286.05 386.90,287.43 387.97,288.58 389.04,289.54 390.10,290.35 391.17,291.03 392.23,291.63 393.30,292.18 394.37,292.70 395.43,293.21 396.50,293.70 397.57,294.18 398.63,294.65 399.70,295.12 400.76,295.59 401.83,296.05 402.90,296.51 403.96,296.95 405.03,297.39 406.10,297.80 407.16,298.20 408.23,298.57 409.29,298.93 410.36,299.28 411.43,299.62 412.49,299.95 413.56,300.26 414.62,300.55 415.69,300.83 416.76,301.09 417.82,301.35 418.89,301.62 419.96,301.90 421.02,302.17 422.09,302.43 423.15,302.67 424.22,302.89 425.29,303.09 426.35,303.29 427.42,303.50 428.49,303.73 429.55,303.98 430.62,304.26 431.68,304.56 432.75,304.86 433.82,305.12 434.88,305.34 435.95,305.51 437.02,305.64 438.08,305.75 439.15,305.86 440.21,305.99 441.28,306.14 442.35,306.31 443.41,306.49 444.48,306.66 445.55,306.83 446.61,307.00 447.68,307.17 448.74,307.33 449.81,307.48 450.88,307.63 451.94,307.75 453.01,307.87 454.08,307.99 455.14,308.11 456.21,308.23 457.27,308.37 458.34,308.51 459.41,308.65 460.47,308.80 461.54,308.94 462.61,309.07 463.67,309.19 464.74,309.30 465.80,309.40 466.87,309.50 467.94,309.61 469.00,309.74 470.07,309.88 471.14,310.02 472.20,310.17 473.27,310.32 474.33,310.46 475.40,310.61 476.47,310.75 477.53,310.89 478.60,311.01 479.67,311.13 480.73,311.23 481.80,311.31 482.86,311.39 483.93,311.45 485.00,311.51 486.06,311.58 487.13,311.65 488.20,311.74 489.26,311.84 490.33,311.94 491.39,312.03 492.46,312.12 493.53,312.19 494.59,312.24 495.66,312.29 496.73,312.32 497.79,312.35 498.86,312.36 499.92,312.36 500.99,312.36 502.06,312.36 503.12,312.37 504.19,312.40 505.26,312.45 506.32,312.52 507.39,312.59 508.45,312.67 509.52,312.76 510.59,312.88 511.65,313.02 512.72,313.17 513.79,313.32 514.85,313.46 515.92,313.56 516.98,313.63 518.05,313.68 519.12,313.73 520.18,313.78 521.25,313.84 522.32,313.90 523.38,313.97 524.45,314.01 525.51,314.03 526.58,314.02 527.65,314.00 528.71,313.97 529.78,313.94 530.85,313.92 531.91,313.91 532.98,313.92 534.04,313.95 535.11,314.00 536.18,314.07 537.24,314.17 538.31,314.29 539.38,314.41 540.44,314.54 541.51,314.66 542.57,314.75 543.64,314.82 544.71,314.88 545.77,314.91 546.84,314.93 547.90,314.93 548.97,314.93 550.04,314.92 551.10,314.92 552.17,314.94 553.24,314.98 554.30,315.05 555.37,315.15 556.43,315.28 557.50,315.41 558.57,315.54 559.63,315.65 560.70,315.74 561.77,315.80 562.83,315.85 563.90,315.90 564.96,315.95 566.03,316.02 567.10,316.12 568.16,316.28 569.23,316.55 570.30,316.97 571.36,317.54 572.43,318.23 573.49,319.00 574.56,319.74 575.63,320.38 576.69,320.88 577.76,321.23 578.83,321.45 579.89,321.58 580.96,321.64 582.02,321.67 583.09,321.68" fill="none" stroke="#ff7f0e" stroke-width="3.56" stroke-dasharray="3.62 5.98" stroke-linejoin="round"/>
</g>
<rect x="360.30" y="35.90" width="233.40" height="299.20" fill="none" stroke="#000" stroke-width="1.55" stroke-linejoin="miter"/>
<line x1="360.30" y1="281.71" x2="353.80" y2="281.71" stroke="#000" stroke-width="1.55"/>
<text x="346.90" y="289.21" text-anchor="end">1</text>
<line x1="360.30" y1="222.37" x2="353.80" y2="222.37" stroke="#000" stroke-width="1.55"/>
<text x="346.90" y="229.87" text-anchor="end">2</text>
<line x1="360.30" y1="163.03" x2="353.80" y2="163.03" stroke="#000" stroke-width="1.55"/>
<text x="346.90" y="170.53" text-anchor="end">3</text>
<line x1="360.30" y1="103.69" x2="353.80" y2="103.69" stroke="#000" stroke-width="1.55"/>
<text x="346.90" y="111.19" text-anchor="end">4</text>
<line x1="360.30" y1="44.35" x2="353.80" y2="44.35" stroke="#000" stroke-width="1.55"/>
<text x="346.90" y="51.85" text-anchor="end">5</text>
<line x1="369.84" y1="335.10" x2="369.84" y2="341.60" stroke="#000" stroke-width="1.55"/>
<text x="369.84" y="362.60" text-anchor="middle">0</text>
<line x1="476.47" y1="335.10" x2="476.47" y2="341.60" stroke="#000" stroke-width="1.55"/>
<text x="476.47" y="362.60" text-anchor="middle">100</text>
<line x1="583.09" y1="335.10" x2="583.09" y2="341.60" stroke="#000" stroke-width="1.55"/>
<text x="583.09" y="362.60" text-anchor="middle">200</text>
<text x="477.00" y="25.63" text-anchor="middle" font-size="21.9">train/cls_loss</text></g>
<g><clipPath id="c2"><rect x="669.10" y="35.90" width="233.40" height="299.20"/></clipPath>
<g clip-path="url(#c2)">
<polyline points="679.71,50.00 680.78,140.70 681.84,201.80 682.91,233.80 683.97,252.00 685.04,260.80 686.11,266.80 687.17,270.06 688.24,272.32 689.31,275.33 690.37,276.27 691.44,278.91 692.50,280.96 693.57,281.68 694.64,283.98 695.70,285.10 696.77,285.02 697.84,287.22 698.90,287.51 699.97,288.74 701.03,289.27 702.10,290.93 703.17,291.07 704.23,291.08 705.30,292.50 706.37,293.54 707.43,293.00 708.50,293.30 709.56,294.13 710.63,295.77 711.70,296.28 712.76,296.02 713.83,296.92 714.90,297.17 715.96,296.49 717.03,296.21 718.09,297.77 719.16,297.88 720.23,297.75 721.29,297.75 722.36,298.43 723.42,298.84 724.49,298.66 725.56,298.97 726.62,299.58 727.69,300.70 728.76,300.32 729.82,299.87 730.89,300.07 731.95,300.67 733.02,300.32 734.09,300.51 735.15,301.39 736.22,300.64 737.29,301.70 738.35,301.62 739.42,302.57 740.48,302.84 741.55,302.91 742.62,303.09 743.68,302.59 744.75,303.42 745.82,302.88 746.88,303.58 747.95,303.22 749.01,303.66 750.08,303.00 751.15,303.57 752.21,305.35 753.28,303.90 754.35,305.09 755.41,305.17 756.48,305.50 757.54,305.12 758.61,305.56 759.68,304.56 760.74,304.74 761.81,305.18 762.88,305.24 763.94,305.28 765.01,305.51 766.07,306.60 767.14,305.95 768.21,307.79 769.27,307.35 770.34,307.19 771.41,307.71 772.47,306.88 773.54,308.49 774.60,308.45 775.67,308.35 776.74,307.96 777.80,308.90 778.87,308.83 779.94,308.79 781.00,309.49 782.07,309.02 783.13,308.57 784.20,309.13 785.27,308.48 786.33,308.61 787.40,309.92 788.47,310.19 789.53,310.73 790.60,310.60 791.66,310.05 792.73,309.18 793.80,310.19 794.86,311.28 795.93,311.10 797.00,310.56 798.06,310.61 799.13,310.21 800.19,310.24 801.26,310.12 802.33,312.04 803.39,311.59 804.46,310.61 805.53,311.31 806.59,310.61 807.66,311.07 808.72,312.32 809.79,312.25 810.86,311.97 811.92,311.62 812.99,312.55 814.06,313.31 815.12,312.27 816.19,311.56 817.25,311.63 818.32,311.78 819.39,313.81 820.45,312.98 821.52,313.74 822.59,312.37 823.65,312.66 824.72,313.71 825.78,314.26 826.85,313.15 827.92,312.64 828.98,314.51 830.05,313.35 831.12,314.46 832.18,313.29 833.25,314.58 834.31,315.02 835.38,314.88 836.45,314.19 837.51,315.12 838.58,313.94 839.65,314.44 840.71,314.79 841.78,315.92 842.84,314.44 843.91,316.15 844.98,316.08 846.04,316.57 847.11,315.35 848.18,315.10 849.24,315.28 850.31,316.68 851.37,317.07 852.44,316.58 853.51,316.20 854.57,315.85 855.64,317.13 856.70,317.29 857.77,315.65 858.84,315.98 859.90,317.39 860.97,317.49 862.04,316.36 863.10,316.33 864.17,316.72 865.23,317.00 866.30,316.08 867.37,317.76 868.43,317.15 869.50,317.73 870.57,316.60 871.63,318.28 872.70,317.88 873.76,317.07 874.83,318.49 875.90,318.04 876.96,318.44 878.03,316.80 879.10,316.96 880.16,318.70 881.23,318.07 882.29,320.50 883.36,320.68 884.43,320.83 885.49,320.95 886.56,321.04 887.63,321.10 888.69,321.15 889.76,321.18 890.82,321.20 891.89,321.20" fill="none" stroke="#1573c0" stroke-width="3.56" stroke-linejoin="round" stroke-linecap="square"/>
<circle cx="679.71" cy="50.00" r="4.45" fill="#1573c0"/>
<circle cx="680.78" cy="140.70" r="4.45" fill="#1573c0"/>
<circle cx="681.84" cy="201.80" r="4.45" fill="#1573c0"/>
<circle cx="682.91" cy="233.80" r="4.45" fill="#1573c0"/>
<circle cx="683.97" cy="252.00" r="4.45" fill="#1573c0"/>
<circle cx="685.04" cy="260.80" r="4.45" fill="#1573c0"/>
<circle cx="686.11" cy="266.80" r="4.45" fill="#1573c0"/>
<circle cx="687.17" cy="270.06" r="4.45" fill="#1573c0"/>
<circle cx="688.24" cy="272.32" r="4.45" fill="#1573c0"/>
<circle cx="689.31" cy="275.33" r="4.45" fill="#1573c0"/>
<circle cx="690.37" cy="276.27" r="4.45" fill="#1573c0"/>
<circle cx="691.44" cy="278.91" r="4.45" fill="#1573c0"/>
<circle cx="692.50" cy="280.96" r="4.45" fill="#1573c0"/>
<circle cx="693.57" cy="281.68" r="4.45" fill="#1573c0"/>
<circle cx="694.64" cy="283.98" r="4.45" fill="#1573c0"/>
<circle cx="695.70" cy="285.10" r="4.45" fill="#1573c0"/>
<circle cx="696.77" cy="285.02" r="4.45" fill="#1573c0"/>
<circle cx="697.84" cy="287.22" r="4.45" fill="#1573c0"/>
<circle cx="698.90" cy="287.51" r="4.45" fill="#1573c0"/>
<circle cx="699.97" cy="288.74" r="4.45" fill="#1573c0"/>
<circle cx="701.03" cy="289.27" r="4.45" fill="#1573c0"/>
<circle cx="702.10" cy="290.93" r="4.45" fill="#1573c0"/>
<circle cx="703.17" cy="291.07" r="4.45" fill="#1573c0"/>
<circle cx="704.23" cy="291.08" r="4.45" fill="#1573c0"/>
<circle cx="705.30" cy="292.50" r="4.45" fill="#1573c0"/>
<circle cx="706.37" cy="293.54" r="4.45" fill="#1573c0"/>
<circle cx="707.43" cy="293.00" r="4.45" fill="#1573c0"/>
<circle cx="708.50" cy="293.30" r="4.45" fill="#1573c0"/>
<circle cx="709.56" cy="294.13" r="4.45" fill="#1573c0"/>
<circle cx="710.63" cy="295.77" r="4.45" fill="#1573c0"/>
<circle cx="711.70" cy="296.28" r="4.45" fill="#1573c0"/>
<circle cx="712.76" cy="296.02" r="4.45" fill="#1573c0"/>
<circle cx="713.83" cy="296.92" r="4.45" fill="#1573c0"/>
<circle cx="714.90" cy="297.17" r="4.45" fill="#1573c0"/>
<circle cx="715.96" cy="296.49" r="4.45" fill="#1573c0"/>
<circle cx="717.03" cy="296.21" r="4.45" fill="#1573c0"/>
<circle cx="718.09" cy="297.77" r="4.45" fill="#1573c0"/>
<circle cx="719.16" cy="297.88" r="4.45" fill="#1573c0"/>
<circle cx="720.23" cy="297.75" r="4.45" fill="#1573c0"/>
<circle cx="721.29" cy="297.75" r="4.45" fill="#1573c0"/>
<circle cx="722.36" cy="298.43" r="4.45" fill="#1573c0"/>
<circle cx="723.42" cy="298.84" r="4.45" fill="#1573c0"/>
<circle cx="724.49" cy="298.66" r="4.45" fill="#1573c0"/>
<circle cx="725.56" cy="298.97" r="4.45" fill="#1573c0"/>
<circle cx="726.62" cy="299.58" r="4.45" fill="#1573c0"/>
<circle cx="727.69" cy="300.70" r="4.45" fill="#1573c0"/>
<circle cx="728.76" cy="300.32" r="4.45" fill="#1573c0"/>
<circle cx="729.82" cy="299.87" r="4.45" fill="#1573c0"/>
<circle cx="730.89" cy="300.07" r="4.45" fill="#1573c0"/>
<circle cx="731.95" cy="300.67" r="4.45" fill="#1573c0"/>
<circle cx="733.02" cy="300.32" r="4.45" fill="#1573c0"/>
<circle cx="734.09" cy="300.51" r="4.45" fill="#1573c0"/>
<circle cx="735.15" cy="301.39" r="4.45" fill="#1573c0"/>
<circle cx="736.22" cy="300.64" r="4.45" fill="#1573c0"/>
<circle cx="737.29" cy="301.70" r="4.45" fill="#1573c0"/>
<circle cx="738.35" cy="301.62" r="4.45" fill="#1573c0"/>
<circle cx="739.42" cy="302.57" r="4.45" fill="#1573c0"/>
<circle cx="740.48" cy="302.84" r="4.45" fill="#1573c0"/>
<circle cx="741.55" cy="302.91" r="4.45" fill="#1573c0"/>
<circle cx="742.62" cy="303.09" r="4.45" fill="#1573c0"/>
<circle cx="743.68" cy="302.59" r="4.45" fill="#1573c0"/>
<circle cx="744.75" cy="303.42" r="4.45" fill="#1573c0"/>
<circle cx="745.82" cy="302.88" r="4.45" fill="#1573c0"/>
<circle cx="746.88" cy="303.58" r="4.45" fill="#1573c0"/>
<circle cx="747.95" cy="303.22" r="4.45" fill="#1573c0"/>
<circle cx="749.01" cy="303.66" r="4.45" fill="#1573c0"/>
<circle cx="750.08" cy="303.00" r="4.45" fill="#1573c0"/>
<circle cx="751.15" cy="303.57" r="4.45" fill="#1573c0"/>
<circle cx="752.21" cy="305.35" r="4.45" fill="#1573c0"/>
<circle cx="753.28" cy="303.90" r="4.45" fill="#1573c0"/>
<circle cx="754.35" cy="305.09" r="4.45" fill="#1573c0"/>
<circle cx="755.41" cy="305.17" r="4.45" fill="#1573c0"/>
<circle cx="756.48" cy="305.50" r="4.45" fill="#1573c0"/>
<circle cx="757.54" cy="305.12" r="4.45" fill="#1573c0"/>
<circle cx="758.61" cy="305.56" r="4.45" fill="#1573c0"/>
<circle cx="759.68" cy="304.56" r="4.45" fill="#1573c0"/>
<circle cx="760.74" cy="304.74" r="4.45" fill="#1573c0"/>
<circle cx="761.81" cy="305.18" r="4.45" fill="#1573c0"/>
<circle cx="762.88" cy="305.24" r="4.45" fill="#1573c0"/>
<circle cx="763.94" cy="305.28" r="4.45" fill="#1573c0"/>
<circle cx="765.01" cy="305.51" r="4.45" fill="#1573c0"/>
<circle cx="766.07" cy="306.60" r="4.45" fill="#1573c0"/>
<circle cx="767.14" cy="305.95" r="4.45" fill="#1573c0"/>
<circle cx="768.21" cy="307.79" r="4.45" fill="#1573c0"/>
<circle cx="769.27" cy="307.35" r="4.45" fill="#1573c0"/>
<circle cx="770.34" cy="307.19" r="4.45" fill="#1573c0"/>
<circle cx="771.41" cy="307.71" r="4.45" fill="#1573c0"/>
<circle cx="772.47" cy="306.88" r="4.45" fill="#1573c0"/>
<circle cx="773.54" cy="308.49" r="4.45" fill="#1573c0"/>
<circle cx="774.60" cy="308.45" r="4.45" fill="#1573c0"/>
<circle cx="775.67" cy="308.35" r="4.45" fill="#1573c0"/>
<circle cx="776.74" cy="307.96" r="4.45" fill="#1573c0"/>
<circle cx="777.80" cy="308.90" r="4.45" fill="#1573c0"/>
<circle cx="778.87" cy="308.83" r="4.45" fill="#1573c0"/>
<circle cx="779.94" cy="308.79" r="4.45" fill="#1573c0"/>
<circle cx="781.00" cy="309.49" r="4.45" fill="#1573c0"/>
<circle cx="782.07" cy="309.02" r="4.45" fill="#1573c0"/>
<circle cx="783.13" cy="308.57" r="4.45" fill="#1573c0"/>
<circle cx="784.20" cy="309.13" r="4.45" fill="#1573c0"/>
<circle cx="785.27" cy="308.48" r="4.45" fill="#1573c0"/>
<circle cx="786.33" cy="308.61" r="4.45" fill="#1573c0"/>
<circle cx="787.40" cy="309.92" r="4.45" fill="#1573c0"/>
<circle cx="788.47" cy="310.19" r="4.45" fill="#1573c0"/>
<circle cx="789.53" cy="310.73" r="4.45" fill="#1573c0"/>
<circle cx="790.60" cy="310.60" r="4.45" fill="#1573c0"/>
<circle cx="791.66" cy="310.05" r="4.45" fill="#1573c0"/>
<circle cx="792.73" cy="309.18" r="4.45" fill="#1573c0"/>
<circle cx="793.80" cy="310.19" r="4.45" fill="#1573c0"/>
<circle cx="794.86" cy="311.28" r="4.45" fill="#1573c0"/>
<circle cx="795.93" cy="311.10" r="4.45" fill="#1573c0"/>
<circle cx="797.00" cy="310.56" r="4.45" fill="#1573c0"/>
<circle cx="798.06" cy="310.61" r="4.45" fill="#1573c0"/>
<circle cx="799.13" cy="310.21" r="4.45" fill="#1573c0"/>
<circle cx="800.19" cy="310.24" r="4.45" fill="#1573c0"/>
<circle cx="801.26" cy="310.12" r="4.45" fill="#1573c0"/>
<circle cx="802.33" cy="312.04" r="4.45" fill="#1573c0"/>
<circle cx="803.39" cy="311.59" r="4.45" fill="#1573c0"/>
<circle cx="804.46" cy="310.61" r="4.45" fill="#1573c0"/>
<circle cx="805.53" cy="311.31" r="4.45" fill="#1573c0"/>
<circle cx="806.59" cy="310.61" r="4.45" fill="#1573c0"/>
<circle cx="807.66" cy="311.07" r="4.45" fill="#1573c0"/>
<circle cx="808.72" cy="312.32" r="4.45" fill="#1573c0"/>
<circle cx="809.79" cy="312.25" r="4.45" fill="#1573c0"/>
<circle cx="810.86" cy="311.97" r="4.45" fill="#1573c0"/>
<circle cx="811.92" cy="311.62" r="4.45" fill="#1573c0"/>
<circle cx="812.99" cy="312.55" r="4.45" fill="#1573c0"/>
<circle cx="814.06" cy="313.31" r="4.45" fill="#1573c0"/>
<circle cx="815.12" cy="312.27" r="4.45" fill="#1573c0"/>
<circle cx="816.19" cy="311.56" r="4.45" fill="#1573c0"/>
<circle cx="817.25" cy="311.63" r="4.45" fill="#1573c0"/>
<circle cx="818.32" cy="311.78" r="4.45" fill="#1573c0"/>
<circle cx="819.39" cy="313.81" r="4.45" fill="#1573c0"/>
<circle cx="820.45" cy="312.98" r="4.45" fill="#1573c0"/>
<circle cx="821.52" cy="313.74" r="4.45" fill="#1573c0"/>
<circle cx="822.59" cy="312.37" r="4.45" fill="#1573c0"/>
<circle cx="823.65" cy="312.66" r="4.45" fill="#1573c0"/>
<circle cx="824.72" cy="313.71" r="4.45" fill="#1573c0"/>
<circle cx="825.78" cy="314.26" r="4.45" fill="#1573c0"/>
<circle cx="826.85" cy="313.15" r="4.45" fill="#1573c0"/>
<circle cx="827.92" cy="312.64" r="4.45" fill="#1573c0"/>
<circle cx="828.98" cy="314.51" r="4.45" fill="#1573c0"/>
<circle cx="830.05" cy="313.35" r="4.45" fill="#1573c0"/>
<circle cx="831.12" cy="314.46" r="4.45" fill="#1573c0"/>
<circle cx="832.18" cy="313.29" r="4.45" fill="#1573c0"/>
<circle cx="833.25" cy="314.58" r="4.45" fill="#1573c0"/>
<circle cx="834.31" cy="315.02" r="4.45" fill="#1573c0"/>
<circle cx="835.38" cy="314.88" r="4.45" fill="#1573c0"/>
<circle cx="836.45" cy="314.19" r="4.45" fill="#1573c0"/>
<circle cx="837.51" cy="315.12" r="4.45" fill="#1573c0"/>
<circle cx="838.58" cy="313.94" r="4.45" fill="#1573c0"/>
<circle cx="839.65" cy="314.44" r="4.45" fill="#1573c0"/>
<circle cx="840.71" cy="314.79" r="4.45" fill="#1573c0"/>
<circle cx="841.78" cy="315.92" r="4.45" fill="#1573c0"/>
<circle cx="842.84" cy="314.44" r="4.45" fill="#1573c0"/>
<circle cx="843.91" cy="316.15" r="4.45" fill="#1573c0"/>
<circle cx="844.98" cy="316.08" r="4.45" fill="#1573c0"/>
<circle cx="846.04" cy="316.57" r="4.45" fill="#1573c0"/>
<circle cx="847.11" cy="315.35" r="4.45" fill="#1573c0"/>
<circle cx="848.18" cy="315.10" r="4.45" fill="#1573c0"/>
<circle cx="849.24" cy="315.28" r="4.45" fill="#1573c0"/>
<circle cx="850.31" cy="316.68" r="4.45" fill="#1573c0"/>
<circle cx="851.37" cy="317.07" r="4.45" fill="#1573c0"/>
<circle cx="852.44" cy="316.58" r="4.45" fill="#1573c0"/>
<circle cx="853.51" cy="316.20" r="4.45" fill="#1573c0"/>
<circle cx="854.57" cy="315.85" r="4.45" fill="#1573c0"/>
<circle cx="855.64" cy="317.13" r="4.45" fill="#1573c0"/>
<circle cx="856.70" cy="317.29" r="4.45" fill="#1573c0"/>
<circle cx="857.77" cy="315.65" r="4.45" fill="#1573c0"/>
<circle cx="858.84" cy="315.98" r="4.45" fill="#1573c0"/>
<circle cx="859.90" cy="317.39" r="4.45" fill="#1573c0"/>
<circle cx="860.97" cy="317.49" r="4.45" fill="#1573c0"/>
<circle cx="862.04" cy="316.36" r="4.45" fill="#1573c0"/>
<circle cx="863.10" cy="316.33" r="4.45" fill="#1573c0"/>
<circle cx="864.17" cy="316.72" r="4.45" fill="#1573c0"/>
<circle cx="865.23" cy="317.00" r="4.45" fill="#1573c0"/>
<circle cx="866.30" cy="316.08" r="4.45" fill="#1573c0"/>
<circle cx="867.37" cy="317.76" r="4.45" fill="#1573c0"/>
<circle cx="868.43" cy="317.15" r="4.45" fill="#1573c0"/>
<circle cx="869.50" cy="317.73" r="4.45" fill="#1573c0"/>
<circle cx="870.57" cy="316.60" r="4.45" fill="#1573c0"/>
<circle cx="871.63" cy="318.28" r="4.45" fill="#1573c0"/>
<circle cx="872.70" cy="317.88" r="4.45" fill="#1573c0"/>
<circle cx="873.76" cy="317.07" r="4.45" fill="#1573c0"/>
<circle cx="874.83" cy="318.49" r="4.45" fill="#1573c0"/>
<circle cx="875.90" cy="318.04" r="4.45" fill="#1573c0"/>
<circle cx="876.96" cy="318.44" r="4.45" fill="#1573c0"/>
<circle cx="878.03" cy="316.80" r="4.45" fill="#1573c0"/>
<circle cx="879.10" cy="316.96" r="4.45" fill="#1573c0"/>
<circle cx="880.16" cy="318.70" r="4.45" fill="#1573c0"/>
<circle cx="881.23" cy="318.07" r="4.45" fill="#1573c0"/>
<circle cx="882.29" cy="320.50" r="4.45" fill="#1573c0"/>
<circle cx="883.36" cy="320.68" r="4.45" fill="#1573c0"/>
<circle cx="884.43" cy="320.83" r="4.45" fill="#1573c0"/>
<circle cx="885.49" cy="320.95" r="4.45" fill="#1573c0"/>
<circle cx="886.56" cy="321.04" r="4.45" fill="#1573c0"/>
<circle cx="887.63" cy="321.10" r="4.45" fill="#1573c0"/>
<circle cx="888.69" cy="321.15" r="4.45" fill="#1573c0"/>
<circle cx="889.76" cy="321.18" r="4.45" fill="#1573c0"/>
<circle cx="890.82" cy="321.20" r="4.45" fill="#1573c0"/>
<circle cx="891.89" cy="321.20" r="4.45" fill="#1573c0"/>
<polyline points="679.71,163.26 680.78,171.49 681.84,186.06 682.91,203.94 683.97,222.01 685.04,238.00 686.11,250.78 687.17,260.25 688.24,266.97 689.31,271.68 690.37,275.05 691.44,277.60 692.50,279.65 693.57,281.36 694.64,282.86 695.70,284.18 696.77,285.38 697.84,286.47 698.90,287.47 699.97,288.40 701.03,289.26 702.10,290.06 703.17,290.80 704.23,291.49 705.30,292.13 706.37,292.74 707.43,293.34 708.50,293.91 709.56,294.48 710.63,295.01 711.70,295.50 712.76,295.92 713.83,296.28 714.90,296.59 715.96,296.85 717.03,297.10 718.09,297.34 719.16,297.58 720.23,297.84 721.29,298.10 722.36,298.38 723.42,298.66 724.49,298.95 725.56,299.23 726.62,299.50 727.69,299.74 728.76,299.95 729.82,300.13 730.89,300.30 731.95,300.46 733.02,300.64 734.09,300.84 735.15,301.07 736.22,301.32 737.29,301.60 738.35,301.88 739.42,302.16 740.48,302.41 741.55,302.62 742.62,302.80 743.68,302.95 744.75,303.07 745.82,303.19 746.88,303.32 747.95,303.46 749.01,303.62 750.08,303.81 751.15,304.03 752.21,304.26 753.28,304.48 754.35,304.68 755.41,304.85 756.48,304.96 757.54,305.04 758.61,305.09 759.68,305.14 760.74,305.21 761.81,305.31 762.88,305.47 763.94,305.68 765.01,305.94 766.07,306.22 767.14,306.52 768.21,306.80 769.27,307.06 770.34,307.30 771.41,307.52 772.47,307.73 773.54,307.92 774.60,308.11 775.67,308.28 776.74,308.44 777.80,308.58 778.87,308.70 779.94,308.80 781.00,308.87 782.07,308.94 783.13,309.01 784.20,309.11 785.27,309.24 786.33,309.40 787.40,309.59 788.47,309.78 789.53,309.95 790.60,310.08 791.66,310.20 792.73,310.29 793.80,310.38 794.86,310.46 795.93,310.52 797.00,310.57 798.06,310.62 799.13,310.67 800.19,310.74 801.26,310.83 802.33,310.92 803.39,311.03 804.46,311.13 805.53,311.25 806.59,311.38 807.66,311.52 808.72,311.68 809.79,311.83 810.86,311.97 811.92,312.09 812.99,312.17 814.06,312.23 815.12,312.29 816.19,312.35 817.25,312.44 818.32,312.55 819.39,312.69 820.45,312.84 821.52,312.97 822.59,313.10 823.65,313.21 824.72,313.31 825.78,313.41 826.85,313.51 827.92,313.61 828.98,313.73 830.05,313.86 831.12,313.99 832.18,314.14 833.25,314.27 834.31,314.39 835.38,314.49 836.45,314.57 837.51,314.65 838.58,314.75 839.65,314.87 840.71,315.01 841.78,315.18 842.84,315.34 843.91,315.50 844.98,315.63 846.04,315.73 847.11,315.83 848.18,315.92 849.24,316.03 850.31,316.14 851.37,316.25 852.44,316.34 853.51,316.42 854.57,316.48 855.64,316.52 856.70,316.56 857.77,316.60 858.84,316.63 859.90,316.67 860.97,316.70 862.04,316.73 863.10,316.77 864.17,316.82 865.23,316.89 866.30,316.98 867.37,317.10 868.43,317.22 869.50,317.34 870.57,317.46 871.63,317.57 872.70,317.66 873.76,317.74 874.83,317.81 875.90,317.88 876.96,317.98 878.03,318.14 879.10,318.39 880.16,318.71 881.23,319.11 882.29,319.53 883.36,319.94 884.43,320.30 885.49,320.59 886.56,320.80 887.63,320.95 888.69,321.04 889.76,321.10 890.82,321.14 891.89,321.15" fill="none" stroke="#ff7f0e" stroke-width="3.56" stroke-dasharray="3.62 5.98" stroke-linejoin="round"/>
</g>
<rect x="669.10" y="35.90" width="233.40" height="299.20" fill="none" stroke="#000" stroke-width="1.55" stroke-linejoin="miter"/>
<line x1="669.10" y1="329.19" x2="662.60" y2="329.19" stroke="#000" stroke-width="1.55"/>
<text x="655.70" y="336.69" text-anchor="end">1.0</text>
<line x1="669.10" y1="282.98" x2="662.60" y2="282.98" stroke="#000" stroke-width="1.55"/>
<text x="655.70" y="290.48" text-anchor="end">1.5</text>
<line x1="669.10" y1="236.76" x2="662.60" y2="236.76" stroke="#000" stroke-width="1.55"/>
<text x="655.70" y="244.26" text-anchor="end">2.0</text>
<line x1="669.10" y1="190.55" x2="662.60" y2="190.55" stroke="#000" stroke-width="1.55"/>
<text x="655.70" y="198.05" text-anchor="end">2.5</text>
<line x1="669.10" y1="144.33" x2="662.60" y2="144.33" stroke="#000" stroke-width="1.55"/>
<text x="655.70" y="151.83" text-anchor="end">3.0</text>
<line x1="669.10" y1="98.12" x2="662.60" y2="98.12" stroke="#000" stroke-width="1.55"/>
<text x="655.70" y="105.62" text-anchor="end">3.5</text>
<line x1="669.10" y1="51.90" x2="662.60" y2="51.90" stroke="#000" stroke-width="1.55"/>
<text x="655.70" y="59.40" text-anchor="end">4.0</text>
<line x1="678.64" y1="335.10" x2="678.64" y2="341.60" stroke="#000" stroke-width="1.55"/>
<text x="678.64" y="362.60" text-anchor="middle">0</text>
<line x1="785.27" y1="335.10" x2="785.27" y2="341.60" stroke="#000" stroke-width="1.55"/>
<text x="785.27" y="362.60" text-anchor="middle">100</text>
<line x1="891.89" y1="335.10" x2="891.89" y2="341.60" stroke="#000" stroke-width="1.55"/>
<text x="891.89" y="362.60" text-anchor="middle">200</text>
<text x="785.80" y="25.63" text-anchor="middle" font-size="21.9">train/dfl_loss</text></g>
<g><clipPath id="c3"><rect x="977.90" y="35.90" width="233.40" height="299.20"/></clipPath>
<g clip-path="url(#c3)">
<polyline points="988.51,321.40 989.58,245.30 990.64,202.00 991.71,156.00 992.77,127.00 993.84,109.00 994.91,118.00 995.97,153.00 997.04,172.60 998.11,88.60 999.17,100.00 1000.24,110.00 1001.30,95.00 1002.37,134.50 1003.44,100.00 1004.50,78.00 1005.57,112.00 1006.64,98.00 1007.70,90.00 1008.77,85.00 1009.83,92.00 1010.90,80.00 1011.97,75.60 1013.03,88.00 1014.10,144.80 1015.17,82.00 1016.23,78.00 1017.30,85.00 1018.36,90.30 1019.43,72.00 1020.50,65.20 1021.56,75.46 1022.63,69.08 1023.70,62.82 1024.76,63.11 1025.83,68.16 1026.89,67.52 1027.96,99.60 1029.03,65.06 1030.09,68.10 1031.16,64.06 1032.22,66.69 1033.29,68.12 1034.36,59.29 1035.42,61.46 1036.49,62.68 1037.56,64.74 1038.62,58.22 1039.69,62.05 1040.75,62.75 1041.82,66.31 1042.89,58.65 1043.95,62.30 1045.02,55.88 1046.09,60.01 1047.15,55.45 1048.22,65.62 1049.28,58.70 1050.35,64.19 1051.42,58.33 1052.48,62.28 1053.55,85.80 1054.62,58.18 1055.68,59.83 1056.75,61.72 1057.81,61.80 1058.88,59.92 1059.95,56.32 1061.01,59.88 1062.08,57.39 1063.15,60.77 1064.21,61.87 1065.28,59.16 1066.34,82.10 1067.41,55.87 1068.48,59.07 1069.54,56.03 1070.61,59.25 1071.68,57.28 1072.74,59.89 1073.81,54.64 1074.87,54.84 1075.94,58.65 1077.01,57.27 1078.07,57.50 1079.14,59.25 1080.21,56.59 1081.27,58.68 1082.34,56.41 1083.40,59.16 1084.47,57.18 1085.54,53.39 1086.60,54.75 1087.67,58.11 1088.74,54.37 1089.80,53.12 1090.87,55.00 1091.93,54.36 1093.00,55.88 1094.07,54.56 1095.13,53.30 1096.20,54.33 1097.27,54.35 1098.33,57.70 1099.40,58.22 1100.46,55.71 1101.53,51.91 1102.60,56.44 1103.66,56.04 1104.73,57.05 1105.80,53.69 1106.86,51.65 1107.93,55.51 1108.99,52.08 1110.06,56.52 1111.13,56.75 1112.19,54.04 1113.26,57.78 1114.33,52.38 1115.39,57.75 1116.46,54.39 1117.52,56.47 1118.59,56.38 1119.66,57.97 1120.72,57.90 1121.79,51.35 1122.86,51.17 1123.92,54.84 1124.99,51.26 1126.05,55.60 1127.12,54.72 1128.19,55.62 1129.25,54.02 1130.32,52.80 1131.39,57.51 1132.45,55.93 1133.52,50.84 1134.58,51.46 1135.65,55.15 1136.72,52.72 1137.78,53.52 1138.85,56.11 1139.92,53.09 1140.98,57.06 1142.05,55.60 1143.11,54.40 1144.18,51.79 1145.25,53.38 1146.31,55.84 1147.38,57.44 1148.45,51.03 1149.51,51.49 1150.58,55.77 1151.64,56.49 1152.71,51.36 1153.78,56.63 1154.84,56.43 1155.91,55.85 1156.98,53.52 1158.04,54.36 1159.11,53.93 1160.17,57.36 1161.24,53.88 1162.31,53.93 1163.37,58.31 1164.44,58.28 1165.50,58.69 1166.57,57.61 1167.64,52.60 1168.70,52.64 1169.77,55.90 1170.84,57.99 1171.90,58.18 1172.97,56.44 1174.03,58.66 1175.10,53.01 1176.17,53.48 1177.23,54.24 1178.30,53.69 1179.37,66.60 1180.43,52.67 1181.50,54.44 1182.56,51.99 1183.63,55.51 1184.70,58.33 1185.76,54.79 1186.83,56.00 1187.90,55.87 1188.96,58.08 1190.03,56.64 1191.09,57.21 1192.16,53.70 1193.23,57.58 1194.29,52.39 1195.36,53.79 1196.43,55.92 1197.49,52.91 1198.56,56.59 1199.62,56.22 1200.69,51.16" fill="none" stroke="#1573c0" stroke-width="3.56" stroke-linejoin="round" stroke-linecap="square"/>
<circle cx="988.51" cy="321.40" r="4.45" fill="#1573c0"/>
<circle cx="989.58" cy="245.30" r="4.45" fill="#1573c0"/>
<circle cx="990.64" cy="202.00" r="4.45" fill="#1573c0"/>
<circle cx="991.71" cy="156.00" r="4.45" fill="#1573c0"/>
<circle cx="992.77" cy="127.00" r="4.45" fill="#1573c0"/>
<circle cx="993.84" cy="109.00" r="4.45" fill="#1573c0"/>
<circle cx="994.91" cy="118.00" r="4.45" fill="#1573c0"/>
<circle cx="995.97" cy="153.00" r="4.45" fill="#1573c0"/>
<circle cx="997.04" cy="172.60" r="4.45" fill="#1573c0"/>
<circle cx="998.11" cy="88.60" r="4.45" fill="#1573c0"/>
<circle cx="999.17" cy="100.00" r="4.45" fill="#1573c0"/>
<circle cx="1000.24" cy="110.00" r="4.45" fill="#1573c0"/>
<circle cx="1001.30" cy="95.00" r="4.45" fill="#1573c0"/>
<circle cx="1002.37" cy="134.50" r="4.45" fill="#1573c0"/>
<circle cx="1003.44" cy="100.00" r="4.45" fill="#1573c0"/>
<circle cx="1004.50" cy="78.00" r="4.45" fill="#1573c0"/>
<circle cx="1005.57" cy="112.00" r="4.45" fill="#1573c0"/>
<circle cx="1006.64" cy="98.00" r="4.45" fill="#1573c0"/>
<circle cx="1007.70" cy="90.00" r="4.45" fill="#1573c0"/>
<circle cx="1008.77" cy="85.00" r="4.45" fill="#1573c0"/>
<circle cx="1009.83" cy="92.00" r="4.45" fill="#1573c0"/>
<circle cx="1010.90" cy="80.00" r="4.45" fill="#1573c0"/>
<circle cx="1011.97" cy="75.60" r="4.45" fill="#1573c0"/>
<circle cx="1013.03" cy="88.00" r="4.45" fill="#1573c0"/>
<circle cx="1014.10" cy="144.80" r="4.45" fill="#1573c0"/>
<circle cx="1015.17" cy="82.00" r="4.45" fill="#1573c0"/>
<circle cx="1016.23" cy="78.00" r="4.45" fill="#1573c0"/>
<circle cx="1017.30" cy="85.00" r="4.45" fill="#1573c0"/>
<circle cx="1018.36" cy="90.30" r="4.45" fill="#1573c0"/>
<circle cx="1019.43" cy="72.00" r="4.45" fill="#1573c0"/>
<circle cx="1020.50" cy="65.20" r="4.45" fill="#1573c0"/>
<circle cx="1021.56" cy="75.46" r="4.45" fill="#1573c0"/>
<circle cx="1022.63" cy="69.08" r="4.45" fill="#1573c0"/>
<circle cx="1023.70" cy="62.82" r="4.45" fill="#1573c0"/>
<circle cx="1024.76" cy="63.11" r="4.45" fill="#1573c0"/>
<circle cx="1025.83" cy="68.16" r="4.45" fill="#1573c0"/>
<circle cx="1026.89" cy="67.52" r="4.45" fill="#1573c0"/>
<circle cx="1027.96" cy="99.60" r="4.45" fill="#1573c0"/>
<circle cx="1029.03" cy="65.06" r="4.45" fill="#1573c0"/>
<circle cx="1030.09" cy="68.10" r="4.45" fill="#1573c0"/>
<circle cx="1031.16" cy="64.06" r="4.45" fill="#1573c0"/>
<circle cx="1032.22" cy="66.69" r="4.45" fill="#1573c0"/>
<circle cx="1033.29" cy="68.12" r="4.45" fill="#1573c0"/>
<circle cx="1034.36" cy="59.29" r="4.45" fill="#1573c0"/>
<circle cx="1035.42" cy="61.46" r="4.45" fill="#1573c0"/>
<circle cx="1036.49" cy="62.68" r="4.45" fill="#1573c0"/>
<circle cx="1037.56" cy="64.74" r="4.45" fill="#1573c0"/>
<circle cx="1038.62" cy="58.22" r="4.45" fill="#1573c0"/>
<circle cx="1039.69" cy="62.05" r="4.45" fill="#1573c0"/>
<circle cx="1040.75" cy="62.75" r="4.45" fill="#1573c0"/>
<circle cx="1041.82" cy="66.31" r="4.45" fill="#1573c0"/>
<circle cx="1042.89" cy="58.65" r="4.45" fill="#1573c0"/>
<circle cx="1043.95" cy="62.30" r="4.45" fill="#1573c0"/>
<circle cx="1045.02" cy="55.88" r="4.45" fill="#1573c0"/>
<circle cx="1046.09" cy="60.01" r="4.45" fill="#1573c0"/>
<circle cx="1047.15" cy="55.45" r="4.45" fill="#1573c0"/>
<circle cx="1048.22" cy="65.62" r="4.45" fill="#1573c0"/>
<circle cx="1049.28" cy="58.70" r="4.45" fill="#1573c0"/>
<circle cx="1050.35" cy="64.19" r="4.45" fill="#1573c0"/>
<circle cx="1051.42" cy="58.33" r="4.45" fill="#1573c0"/>
<circle cx="1052.48" cy="62.28" r="4.45" fill="#1573c0"/>
<circle cx="1053.55" cy="85.80" r="4.45" fill="#1573c0"/>
<circle cx="1054.62" cy="58.18" r="4.45" fill="#1573c0"/>
<circle cx="1055.68" cy="59.83" r="4.45" fill="#1573c0"/>
<circle cx="1056.75" cy="61.72" r="4.45" fill="#1573c0"/>
<circle cx="1057.81" cy="61.80" r="4.45" fill="#1573c0"/>
<circle cx="1058.88" cy="59.92" r="4.45" fill="#1573c0"/>
<circle cx="1059.95" cy="56.32" r="4.45" fill="#1573c0"/>
<circle cx="1061.01" cy="59.88" r="4.45" fill="#1573c0"/>
<circle cx="1062.08" cy="57.39" r="4.45" fill="#1573c0"/>
<circle cx="1063.15" cy="60.77" r="4.45" fill="#1573c0"/>
<circle cx="1064.21" cy="61.87" r="4.45" fill="#1573c0"/>
<circle cx="1065.28" cy="59.16" r="4.45" fill="#1573c0"/>
<circle cx="1066.34" cy="82.10" r="4.45" fill="#1573c0"/>
<circle cx="1067.41" cy="55.87" r="4.45" fill="#1573c0"/>
<circle cx="1068.48" cy="59.07" r="4.45" fill="#1573c0"/>
<circle cx="1069.54" cy="56.03" r="4.45" fill="#1573c0"/>
<circle cx="1070.61" cy="59.25" r="4.45" fill="#1573c0"/>
<circle cx="1071.68" cy="57.28" r="4.45" fill="#1573c0"/>
<circle cx="1072.74" cy="59.89" r="4.45" fill="#1573c0"/>
<circle cx="1073.81" cy="54.64" r="4.45" fill="#1573c0"/>
<circle cx="1074.87" cy="54.84" r="4.45" fill="#1573c0"/>
<circle cx="1075.94" cy="58.65" r="4.45" fill="#1573c0"/>
<circle cx="1077.01" cy="57.27" r="4.45" fill="#1573c0"/>
<circle cx="1078.07" cy="57.50" r="4.45" fill="#1573c0"/>
<circle cx="1079.14" cy="59.25" r="4.45" fill="#1573c0"/>
<circle cx="1080.21" cy="56.59" r="4.45" fill="#1573c0"/>
<circle cx="1081.27" cy="58.68" r="4.45" fill="#1573c0"/>
<circle cx="1082.34" cy="56.41" r="4.45" fill="#1573c0"/>
<circle cx="1083.40" cy="59.16" r="4.45" fill="#1573c0"/>
<circle cx="1084.47" cy="57.18" r="4.45" fill="#1573c0"/>
<circle cx="1085.54" cy="53.39" r="4.45" fill="#1573c0"/>
<circle cx="1086.60" cy="54.75" r="4.45" fill="#1573c0"/>
<circle cx="1087.67" cy="58.11" r="4.45" fill="#1573c0"/>
<circle cx="1088.74" cy="54.37" r="4.45" fill="#1573c0"/>
<circle cx="1089.80" cy="53.12" r="4.45" fill="#1573c0"/>
<circle cx="1090.87" cy="55.00" r="4.45" fill="#1573c0"/>
<circle cx="1091.93" cy="54.36" r="4.45" fill="#1573c0"/>
<circle cx="1093.00" cy="55.88" r="4.45" fill="#1573c0"/>
<circle cx="1094.07" cy="54.56" r="4.45" fill="#1573c0"/>
<circle cx="1095.13" cy="53.30" r="4.45" fill="#1573c0"/>
<circle cx="1096.20" cy="54.33" r="4.45" fill="#1573c0"/>
<circle cx="1097.27" cy="54.35" r="4.45" fill="#1573c0"/>
<circle cx="1098.33" cy="57.70" r="4.45" fill="#1573c0"/>
<circle cx="1099.40" cy="58.22" r="4.45" fill="#1573c0"/>
<circle cx="1100.46" cy="55.71" r="4.45" fill="#1573c0"/>
<circle cx="1101.53" cy="51.91" r="4.45" fill="#1573c0"/>
<circle cx="1102.60" cy="56.44" r="4.45" fill="#1573c0"/>
<circle cx="1103.66" cy="56.04" r="4.45" fill="#1573c0"/>
<circle cx="1104.73" cy="57.05" r="4.45" fill="#1573c0"/>
<circle cx="1105.80" cy="53.69" r="4.45" fill="#1573c0"/>
<circle cx="1106.86" cy="51.65" r="4.45" fill="#1573c0"/>
<circle cx="1107.93" cy="55.51" r="4.45" fill="#1573c0"/>
<circle cx="1108.99" cy="52.08" r="4.45" fill="#1573c0"/>
<circle cx="1110.06" cy="56.52" r="4.45" fill="#1573c0"/>
<circle cx="1111.13" cy="56.75" r="4.45" fill="#1573c0"/>
<circle cx="1112.19" cy="54.04" r="4.45" fill="#1573c0"/>
<circle cx="1113.26" cy="57.78" r="4.45" fill="#1573c0"/>
<circle cx="1114.33" cy="52.38" r="4.45" fill="#1573c0"/>
<circle cx="1115.39" cy="57.75" r="4.45" fill="#1573c0"/>
<circle cx="1116.46" cy="54.39" r="4.45" fill="#1573c0"/>
<circle cx="1117.52" cy="56.47" r="4.45" fill="#1573c0"/>
<circle cx="1118.59" cy="56.38" r="4.45" fill="#1573c0"/>
<circle cx="1119.66" cy="57.97" r="4.45" fill="#1573c0"/>
<circle cx="1120.72" cy="57.90" r="4.45" fill="#1573c0"/>
<circle cx="1121.79" cy="51.35" r="4.45" fill="#1573c0"/>
<circle cx="1122.86" cy="51.17" r="4.45" fill="#1573c0"/>
<circle cx="1123.92" cy="54.84" r="4.45" fill="#1573c0"/>
<circle cx="1124.99" cy="51.26" r="4.45" fill="#1573c0"/>
<circle cx="1126.05" cy="55.60" r="4.45" fill="#1573c0"/>
<circle cx="1127.12" cy="54.72" r="4.45" fill="#1573c0"/>
<circle cx="1128.19" cy="55.62" r="4.45" fill="#1573c0"/>
<circle cx="1129.25" cy="54.02" r="4.45" fill="#1573c0"/>
<circle cx="1130.32" cy="52.80" r="4.45" fill="#1573c0"/>
<circle cx="1131.39" cy="57.51" r="4.45" fill="#1573c0"/>
<circle cx="1132.45" cy="55.93" r="4.45" fill="#1573c0"/>
<circle cx="1133.52" cy="50.84" r="4.45" fill="#1573c0"/>
<circle cx="1134.58" cy="51.46" r="4.45" fill="#1573c0"/>
<circle cx="1135.65" cy="55.15" r="4.45" fill="#1573c0"/>
<circle cx="1136.72" cy="52.72" r="4.45" fill="#1573c0"/>
<circle cx="1137.78" cy="53.52" r="4.45" fill="#1573c0"/>
<circle cx="1138.85" cy="56.11" r="4.45" fill="#1573c0"/>
<circle cx="1139.92" cy="53.09" r="4.45" fill="#1573c0"/>
<circle cx="1140.98" cy="57.06" r="4.45" fill="#1573c0"/>
<circle cx="1142.05" cy="55.60" r="4.45" fill="#1573c0"/>
<circle cx="1143.11" cy="54.40" r="4.45" fill="#1573c0"/>
<circle cx="1144.18" cy="51.79" r="4.45" fill="#1573c0"/>
<circle cx="1145.25" cy="53.38" r="4.45" fill="#1573c0"/>
<circle cx="1146.31" cy="55.84" r="4.45" fill="#1573c0"/>
<circle cx="1147.38" cy="57.44" r="4.45" fill="#1573c0"/>
<circle cx="1148.45" cy="51.03" r="4.45" fill="#1573c0"/>
<circle cx="1149.51" cy="51.49" r="4.45" fill="#1573c0"/>
<circle cx="1150.58" cy="55.77" r="4.45" fill="#1573c0"/>
<circle cx="1151.64" cy="56.49" r="4.45" fill="#1573c0"/>
<circle cx="1152.71" cy="51.36" r="4.45" fill="#1573c0"/>
<circle cx="1153.78" cy="56.63" r="4.45" fill="#1573c0"/>
<circle cx="1154.84" cy="56.43" r="4.45" fill="#1573c0"/>
<circle cx="1155.91" cy="55.85" r="4.45" fill="#1573c0"/>
<circle cx="1156.98" cy="53.52" r="4.45" fill="#1573c0"/>
<circle cx="1158.04" cy="54.36" r="4.45" fill="#1573c0"/>
<circle cx="1159.11" cy="53.93" r="4.45" fill="#1573c0"/>
<circle cx="1160.17" cy="57.36" r="4.45" fill="#1573c0"/>
<circle cx="1161.24" cy="53.88" r="4.45" fill="#1573c0"/>
<circle cx="1162.31" cy="53.93" r="4.45" fill="#1573c0"/>
<circle cx="1163.37" cy="58.31" r="4.45" fill="#1573c0"/>
<circle cx="1164.44" cy="58.28" r="4.45" fill="#1573c0"/>
<circle cx="1165.50" cy="58.69" r="4.45" fill="#1573c0"/>
<circle cx="1166.57" cy="57.61" r="4.45" fill="#1573c0"/>
<circle cx="1167.64" cy="52.60" r="4.45" fill="#1573c0"/>
<circle cx="1168.70" cy="52.64" r="4.45" fill="#1573c0"/>
<circle cx="1169.77" cy="55.90" r="4.45" fill="#1573c0"/>
<circle cx="1170.84" cy="57.99" r="4.45" fill="#1573c0"/>
<circle cx="1171.90" cy="58.18" r="4.45" fill="#1573c0"/>
<circle cx="1172.97" cy="56.44" r="4.45" fill="#1573c0"/>
<circle cx="1174.03" cy="58.66" r="4.45" fill="#1573c0"/>
<circle cx="1175.10" cy="53.01" r="4.45" fill="#1573c0"/>
<circle cx="1176.17" cy="53.48" r="4.45" fill="#1573c0"/>
<circle cx="1177.23" cy="54.24" r="4.45" fill="#1573c0"/>
<circle cx="1178.30" cy="53.69" r="4.45" fill="#1573c0"/>
<circle cx="1179.37" cy="66.60" r="4.45" fill="#1573c0"/>
<circle cx="1180.43" cy="52.67" r="4.45" fill="#1573c0"/>
<circle cx="1181.50" cy="54.44" r="4.45" fill="#1573c0"/>
<circle cx="1182.56" cy="51.99" r="4.45" fill="#1573c0"/>
<circle cx="1183.63" cy="55.51" r="4.45" fill="#1573c0"/>
<circle cx="1184.70" cy="58.33" r="4.45" fill="#1573c0"/>
<circle cx="1185.76" cy="54.79" r="4.45" fill="#1573c0"/>
<circle cx="1186.83" cy="56.00" r="4.45" fill="#1573c0"/>
<circle cx="1187.90" cy="55.87" r="4.45" fill="#1573c0"/>
<circle cx="1188.96" cy="58.08" r="4.45" fill="#1573c0"/>
<circle cx="1190.03" cy="56.64" r="4.45" fill="#1573c0"/>
<circle cx="1191.09" cy="57.21" r="4.45" fill="#1573c0"/>
<circle cx="1192.16" cy="53.70" r="4.45" fill="#1573c0"/>
<circle cx="1193.23" cy="57.58" r="4.45" fill="#1573c0"/>
<circle cx="1194.29" cy="52.39" r="4.45" fill="#1573c0"/>
<circle cx="1195.36" cy="53.79" r="4.45" fill="#1573c0"/>
<circle cx="1196.43" cy="55.92" r="4.45" fill="#1573c0"/>
<circle cx="1197.49" cy="52.91" r="4.45" fill="#1573c0"/>
<circle cx="1198.56" cy="56.59" r="4.45" fill="#1573c0"/>
<circle cx="1199.62" cy="56.22" r="4.45" fill="#1573c0"/>
<circle cx="1200.69" cy="51.16" r="4.45" fill="#1573c0"/>
<polyline points="988.51,222.05 989.58,214.26 990.64,200.56 991.71,183.95 992.77,167.46 993.84,153.21 994.91,141.96 995.97,133.41 997.04,126.75 998.11,121.24 999.17,116.50 1000.24,112.38 1001.30,108.85 1002.37,105.78 1003.44,103.01 1004.50,100.40 1005.57,97.89 1006.64,95.56 1007.70,93.54 1008.77,92.04 1009.83,91.19 1010.90,90.97 1011.97,91.14 1013.03,91.24 1014.10,90.81 1015.17,89.52 1016.23,87.32 1017.30,84.42 1018.36,81.19 1019.43,77.98 1020.50,75.13 1021.56,72.87 1022.63,71.31 1023.70,70.49 1024.76,70.31 1025.83,70.50 1026.89,70.73 1027.96,70.69 1029.03,70.21 1030.09,69.27 1031.16,68.02 1032.22,66.66 1033.29,65.39 1034.36,64.32 1035.42,63.48 1036.49,62.88 1037.56,62.47 1038.62,62.19 1039.69,61.95 1040.75,61.69 1041.82,61.37 1042.89,61.02 1043.95,60.69 1045.02,60.47 1046.09,60.45 1047.15,60.69 1048.22,61.17 1049.28,61.85 1050.35,62.60 1051.42,63.28 1052.48,63.72 1053.55,63.81 1054.62,63.52 1055.68,62.91 1056.75,62.13 1057.81,61.36 1058.88,60.76 1059.95,60.44 1061.01,60.44 1062.08,60.72 1063.15,61.16 1064.21,61.60 1065.28,61.83 1066.34,61.75 1067.41,61.31 1068.48,60.61 1069.54,59.78 1070.61,58.98 1071.68,58.32 1072.74,57.83 1073.81,57.53 1074.87,57.38 1075.94,57.36 1077.01,57.41 1078.07,57.47 1079.14,57.51 1080.21,57.47 1081.27,57.35 1082.34,57.13 1083.40,56.84 1084.47,56.49 1085.54,56.12 1086.60,55.77 1087.67,55.45 1088.74,55.19 1089.80,54.99 1090.87,54.85 1091.93,54.78 1093.00,54.77 1094.07,54.82 1095.13,54.94 1096.20,55.10 1097.27,55.27 1098.33,55.41 1099.40,55.49 1100.46,55.49 1101.53,55.41 1102.60,55.28 1103.66,55.11 1104.73,54.93 1105.80,54.78 1106.86,54.70 1107.93,54.70 1108.99,54.79 1110.06,54.94 1111.13,55.12 1112.19,55.30 1113.26,55.45 1114.33,55.58 1115.39,55.68 1116.46,55.74 1117.52,55.72 1118.59,55.58 1119.66,55.33 1120.72,54.99 1121.79,54.62 1122.86,54.32 1123.92,54.13 1124.99,54.08 1126.05,54.13 1127.12,54.24 1128.19,54.33 1129.25,54.37 1130.32,54.33 1131.39,54.22 1132.45,54.07 1133.52,53.93 1134.58,53.85 1135.65,53.86 1136.72,53.96 1137.78,54.12 1138.85,54.30 1139.92,54.44 1140.98,54.51 1142.05,54.51 1143.11,54.45 1144.18,54.37 1145.25,54.29 1146.31,54.23 1147.38,54.20 1148.45,54.21 1149.51,54.26 1150.58,54.37 1151.64,54.52 1152.71,54.67 1153.78,54.81 1154.84,54.91 1155.91,54.97 1156.98,55.02 1158.04,55.09 1159.11,55.22 1160.17,55.42 1161.24,55.67 1162.31,55.94 1163.37,56.15 1164.44,56.26 1165.50,56.27 1166.57,56.20 1167.64,56.11 1168.70,56.07 1169.77,56.08 1170.84,56.12 1171.90,56.13 1172.97,56.09 1174.03,56.00 1175.10,55.90 1176.17,55.84 1177.23,55.82 1178.30,55.82 1179.37,55.81 1180.43,55.76 1181.50,55.69 1182.56,55.65 1183.63,55.68 1184.70,55.77 1185.76,55.90 1186.83,56.04 1187.90,56.13 1188.96,56.13 1190.03,56.03 1191.09,55.84 1192.16,55.58 1193.23,55.30 1194.29,55.04 1195.36,54.83 1196.43,54.66 1197.49,54.52 1198.56,54.41 1199.62,54.33 1200.69,54.28" fill="none" stroke="#ff7f0e" stroke-width="3.56" stroke-dasharray="3.62 5.98" stroke-linejoin="round"/>
</g>
<rect x="977.90" y="35.90" width="233.40" height="299.20" fill="none" stroke="#000" stroke-width="1.55" stroke-linejoin="miter"/>
<line x1="977.90" y1="321.60" x2="971.40" y2="321.60" stroke="#000" stroke-width="1.55"/>
<text x="964.50" y="329.10" text-anchor="end">0.0</text>
<line x1="977.90" y1="265.28" x2="971.40" y2="265.28" stroke="#000" stroke-width="1.55"/>
<text x="964.50" y="272.78" text-anchor="end">0.2</text>
<line x1="977.90" y1="208.96" x2="971.40" y2="208.96" stroke="#000" stroke-width="1.55"/>
<text x="964.50" y="216.46" text-anchor="end">0.4</text>
<line x1="977.90" y1="152.64" x2="971.40" y2="152.64" stroke="#000" stroke-width="1.55"/>
<text x="964.50" y="160.14" text-anchor="end">0.6</text>
<line x1="977.90" y1="96.32" x2="971.40" y2="96.32" stroke="#000" stroke-width="1.55"/>
<text x="964.50" y="103.82" text-anchor="end">0.8</text>
<line x1="977.90" y1="40.00" x2="971.40" y2="40.00" stroke="#000" stroke-width="1.55"/>
<text x="964.50" y="47.50" text-anchor="end">1.0</text>
<line x1="987.44" y1="335.10" x2="987.44" y2="341.60" stroke="#000" stroke-width="1.55"/>
<text x="987.44" y="362.60" text-anchor="middle">0</text>
<line x1="1094.07" y1="335.10" x2="1094.07" y2="341.60" stroke="#000" stroke-width="1.55"/>
<text x="1094.07" y="362.60" text-anchor="middle">100</text>
<line x1="1200.69" y1="335.10" x2="1200.69" y2="341.60" stroke="#000" stroke-width="1.55"/>
<text x="1200.69" y="362.60" text-anchor="middle">200</text>
<text x="1094.60" y="25.63" text-anchor="middle" font-size="21.9">metrics/precision(B)</text></g>
<g><clipPath id="c4"><rect x="1286.90" y="35.90" width="233.40" height="299.20"/></clipPath>
<g clip-path="url(#c4)">
<polyline points="1297.51,321.70 1298.58,277.70 1299.64,221.80 1300.71,176.30 1301.77,198.60 1302.84,156.70 1303.91,165.00 1304.97,217.20 1306.04,199.50 1307.11,126.40 1308.17,150.00 1309.24,160.00 1310.30,118.00 1311.37,112.60 1312.44,120.00 1313.50,130.00 1314.57,115.00 1315.64,110.00 1316.70,164.70 1317.77,105.00 1318.83,100.00 1319.90,88.80 1320.97,95.00 1322.03,100.00 1323.10,127.60 1324.17,141.50 1325.23,104.90 1326.30,92.00 1327.36,85.00 1328.43,79.30 1329.50,85.00 1330.56,90.00 1331.63,82.00 1332.70,73.40 1333.76,108.50 1334.83,85.00 1335.89,78.00 1336.96,147.30 1338.03,80.00 1339.09,76.00 1340.16,82.00 1341.22,104.10 1342.29,73.40 1343.36,84.23 1344.42,74.68 1345.49,79.00 1346.56,83.77 1347.62,77.61 1348.69,81.44 1349.75,78.46 1350.82,80.44 1351.89,77.34 1352.95,72.57 1354.02,88.80 1355.09,72.96 1356.15,74.11 1357.22,80.97 1358.28,77.32 1359.35,78.76 1360.42,75.74 1361.48,75.86 1362.55,102.00 1363.62,77.50 1364.68,76.72 1365.75,66.00 1366.81,68.17 1367.88,69.70 1368.95,66.48 1370.01,69.97 1371.08,71.39 1372.15,64.89 1373.21,65.51 1374.28,66.48 1375.34,65.07 1376.41,69.06 1377.48,65.13 1378.54,67.05 1379.61,65.54 1380.68,65.95 1381.74,68.51 1382.81,68.29 1383.87,61.40 1384.94,67.04 1386.01,62.85 1387.07,60.69 1388.14,62.76 1389.21,63.60 1390.27,67.03 1391.34,62.14 1392.40,59.10 1393.47,79.70 1394.54,59.55 1395.60,62.33 1396.67,65.14 1397.74,62.30 1398.80,61.61 1399.87,64.30 1400.93,57.92 1402.00,62.20 1403.07,60.79 1404.13,65.26 1405.20,63.68 1406.27,57.60 1407.33,58.59 1408.40,60.59 1409.46,62.50 1410.53,59.44 1411.60,59.57 1412.66,63.97 1413.73,64.13 1414.80,59.66 1415.86,63.48 1416.93,58.81 1417.99,56.71 1419.06,60.14 1420.13,61.08 1421.19,62.82 1422.26,63.28 1423.33,61.60 1424.39,61.41 1425.46,60.92 1426.52,60.77 1427.59,61.23 1428.66,62.84 1429.72,58.00 1430.79,55.66 1431.86,56.93 1432.92,56.80 1433.99,57.98 1435.05,61.60 1436.12,55.65 1437.19,58.83 1438.25,61.79 1439.32,57.46 1440.39,55.91 1441.45,57.39 1442.52,56.19 1443.58,62.03 1444.65,56.99 1445.72,57.26 1446.78,62.28 1447.85,62.30 1448.92,60.60 1449.98,63.26 1451.05,56.48 1452.11,63.78 1453.18,60.69 1454.25,58.61 1455.31,62.86 1456.38,61.59 1457.45,64.27 1458.51,57.29 1459.58,61.11 1460.64,60.27 1461.71,61.72 1462.78,58.30 1463.84,56.25 1464.91,59.87 1465.98,57.90 1467.04,61.63 1468.11,57.81 1469.17,57.35 1470.24,59.10 1471.31,58.34 1472.37,61.96 1473.44,60.76 1474.50,58.63 1475.57,56.57 1476.64,59.95 1477.70,61.33 1478.77,61.60 1479.84,63.68 1480.90,57.62 1481.97,59.37 1483.03,59.39 1484.10,58.54 1485.17,58.87 1486.23,59.72 1487.30,49.80 1488.37,57.86 1489.43,56.72 1490.50,57.97 1491.56,56.54 1492.63,57.89 1493.70,60.69 1494.76,59.99 1495.83,63.08 1496.90,59.54 1497.96,59.40 1499.03,60.14 1500.09,60.83 1501.16,59.98 1502.23,59.82 1503.29,60.03 1504.36,58.13 1505.43,61.63 1506.49,60.38 1507.56,58.16 1508.62,57.80 1509.69,56.57" fill="none" stroke="#1573c0" stroke-width="3.56" stroke-linejoin="round" stroke-linecap="square"/>
<circle cx="1297.51" cy="321.70" r="4.45" fill="#1573c0"/>
<circle cx="1298.58" cy="277.70" r="4.45" fill="#1573c0"/>
<circle cx="1299.64" cy="221.80" r="4.45" fill="#1573c0"/>
<circle cx="1300.71" cy="176.30" r="4.45" fill="#1573c0"/>
<circle cx="1301.77" cy="198.60" r="4.45" fill="#1573c0"/>
<circle cx="1302.84" cy="156.70" r="4.45" fill="#1573c0"/>
<circle cx="1303.91" cy="165.00" r="4.45" fill="#1573c0"/>
<circle cx="1304.97" cy="217.20" r="4.45" fill="#1573c0"/>
<circle cx="1306.04" cy="199.50" r="4.45" fill="#1573c0"/>
<circle cx="1307.11" cy="126.40" r="4.45" fill="#1573c0"/>
<circle cx="1308.17" cy="150.00" r="4.45" fill="#1573c0"/>
<circle cx="1309.24" cy="160.00" r="4.45" fill="#1573c0"/>
<circle cx="1310.30" cy="118.00" r="4.45" fill="#1573c0"/>
<circle cx="1311.37" cy="112.60" r="4.45" fill="#1573c0"/>
<circle cx="1312.44" cy="120.00" r="4.45" fill="#1573c0"/>
<circle cx="1313.50" cy="130.00" r="4.45" fill="#1573c0"/>
<circle cx="1314.57" cy="115.00" r="4.45" fill="#1573c0"/>
<circle cx="1315.64" cy="110.00" r="4.45" fill="#1573c0"/>
<circle cx="1316.70" cy="164.70" r="4.45" fill="#1573c0"/>
<circle cx="1317.77" cy="105.00" r="4.45" fill="#1573c0"/>
<circle cx="1318.83" cy="100.00" r="4.45" fill="#1573c0"/>
<circle cx="1319.90" cy="88.80" r="4.45" fill="#1573c0"/>
<circle cx="1320.97" cy="95.00" r="4.45" fill="#1573c0"/>
<circle cx="1322.03" cy="100.00" r="4.45" fill="#1573c0"/>
<circle cx="1323.10" cy="127.60" r="4.45" fill="#1573c0"/>
<circle cx="1324.17" cy="141.50" r="4.45" fill="#1573c0"/>
<circle cx="1325.23" cy="104.90" r="4.45" fill="#1573c0"/>
<circle cx="1326.30" cy="92.00" r="4.45" fill="#1573c0"/>
<circle cx="1327.36" cy="85.00" r="4.45" fill="#1573c0"/>
<circle cx="1328.43" cy="79.30" r="4.45" fill="#1573c0"/>
<circle cx="1329.50" cy="85.00" r="4.45" fill="#1573c0"/>
<circle cx="1330.56" cy="90.00" r="4.45" fill="#1573c0"/>
<circle cx="1331.63" cy="82.00" r="4.45" fill="#1573c0"/>
<circle cx="1332.70" cy="73.40" r="4.45" fill="#1573c0"/>
<circle cx="1333.76" cy="108.50" r="4.45" fill="#1573c0"/>
<circle cx="1334.83" cy="85.00" r="4.45" fill="#1573c0"/>
<circle cx="1335.89" cy="78.00" r="4.45" fill="#1573c0"/>
<circle cx="1336.96" cy="147.30" r="4.45" fill="#1573c0"/>
<circle cx="1338.03" cy="80.00" r="4.45" fill="#1573c0"/>
<circle cx="1339.09" cy="76.00" r="4.45" fill="#1573c0"/>
<circle cx="1340.16" cy="82.00" r="4.45" fill="#1573c0"/>
<circle cx="1341.22" cy="104.10" r="4.45" fill="#1573c0"/>
<circle cx="1342.29" cy="73.40" r="4.45" fill="#1573c0"/>
<circle cx="1343.36" cy="84.23" r="4.45" fill="#1573c0"/>
<circle cx="1344.42" cy="74.68" r="4.45" fill="#1573c0"/>
<circle cx="1345.49" cy="79.00" r="4.45" fill="#1573c0"/>
<circle cx="1346.56" cy="83.77" r="4.45" fill="#1573c0"/>
<circle cx="1347.62" cy="77.61" r="4.45" fill="#1573c0"/>
<circle cx="1348.69" cy="81.44" r="4.45" fill="#1573c0"/>
<circle cx="1349.75" cy="78.46" r="4.45" fill="#1573c0"/>
<circle cx="1350.82" cy="80.44" r="4.45" fill="#1573c0"/>
<circle cx="1351.89" cy="77.34" r="4.45" fill="#1573c0"/>
<circle cx="1352.95" cy="72.57" r="4.45" fill="#1573c0"/>
<circle cx="1354.02" cy="88.80" r="4.45" fill="#1573c0"/>
<circle cx="1355.09" cy="72.96" r="4.45" fill="#1573c0"/>
<circle cx="1356.15" cy="74.11" r="4.45" fill="#1573c0"/>
<circle cx="1357.22" cy="80.97" r="4.45" fill="#1573c0"/>
<circle cx="1358.28" cy="77.32" r="4.45" fill="#1573c0"/>
<circle cx="1359.35" cy="78.76" r="4.45" fill="#1573c0"/>
<circle cx="1360.42" cy="75.74" r="4.45" fill="#1573c0"/>
<circle cx="1361.48" cy="75.86" r="4.45" fill="#1573c0"/>
<circle cx="1362.55" cy="102.00" r="4.45" fill="#1573c0"/>
<circle cx="1363.62" cy="77.50" r="4.45" fill="#1573c0"/>
<circle cx="1364.68" cy="76.72" r="4.45" fill="#1573c0"/>
<circle cx="1365.75" cy="66.00" r="4.45" fill="#1573c0"/>
<circle cx="1366.81" cy="68.17" r="4.45" fill="#1573c0"/>
<circle cx="1367.88" cy="69.70" r="4.45" fill="#1573c0"/>
<circle cx="1368.95" cy="66.48" r="4.45" fill="#1573c0"/>
<circle cx="1370.01" cy="69.97" r="4.45" fill="#1573c0"/>
<circle cx="1371.08" cy="71.39" r="4.45" fill="#1573c0"/>
<circle cx="1372.15" cy="64.89" r="4.45" fill="#1573c0"/>
<circle cx="1373.21" cy="65.51" r="4.45" fill="#1573c0"/>
<circle cx="1374.28" cy="66.48" r="4.45" fill="#1573c0"/>
<circle cx="1375.34" cy="65.07" r="4.45" fill="#1573c0"/>
<circle cx="1376.41" cy="69.06" r="4.45" fill="#1573c0"/>
<circle cx="1377.48" cy="65.13" r="4.45" fill="#1573c0"/>
<circle cx="1378.54" cy="67.05" r="4.45" fill="#1573c0"/>
<circle cx="1379.61" cy="65.54" r="4.45" fill="#1573c0"/>
<circle cx="1380.68" cy="65.95" r="4.45" fill="#1573c0"/>
<circle cx="1381.74" cy="68.51" r="4.45" fill="#1573c0"/>
<circle cx="1382.81" cy="68.29" r="4.45" fill="#1573c0"/>
<circle cx="1383.87" cy="61.40" r="4.45" fill="#1573c0"/>
<circle cx="1384.94" cy="67.04" r="4.45" fill="#1573c0"/>
<circle cx="1386.01" cy="62.85" r="4.45" fill="#1573c0"/>
<circle cx="1387.07" cy="60.69" r="4.45" fill="#1573c0"/>
<circle cx="1388.14" cy="62.76" r="4.45" fill="#1573c0"/>
<circle cx="1389.21" cy="63.60" r="4.45" fill="#1573c0"/>
<circle cx="1390.27" cy="67.03" r="4.45" fill="#1573c0"/>
<circle cx="1391.34" cy="62.14" r="4.45" fill="#1573c0"/>
<circle cx="1392.40" cy="59.10" r="4.45" fill="#1573c0"/>
<circle cx="1393.47" cy="79.70" r="4.45" fill="#1573c0"/>
<circle cx="1394.54" cy="59.55" r="4.45" fill="#1573c0"/>
<circle cx="1395.60" cy="62.33" r="4.45" fill="#1573c0"/>
<circle cx="1396.67" cy="65.14" r="4.45" fill="#1573c0"/>
<circle cx="1397.74" cy="62.30" r="4.45" fill="#1573c0"/>
<circle cx="1398.80" cy="61.61" r="4.45" fill="#1573c0"/>
<circle cx="1399.87" cy="64.30" r="4.45" fill="#1573c0"/>
<circle cx="1400.93" cy="57.92" r="4.45" fill="#1573c0"/>
<circle cx="1402.00" cy="62.20" r="4.45" fill="#1573c0"/>
<circle cx="1403.07" cy="60.79" r="4.45" fill="#1573c0"/>
<circle cx="1404.13" cy="65.26" r="4.45" fill="#1573c0"/>
<circle cx="1405.20" cy="63.68" r="4.45" fill="#1573c0"/>
<circle cx="1406.27" cy="57.60" r="4.45" fill="#1573c0"/>
<circle cx="1407.33" cy="58.59" r="4.45" fill="#1573c0"/>
<circle cx="1408.40" cy="60.59" r="4.45" fill="#1573c0"/>
<circle cx="1409.46" cy="62.50" r="4.45" fill="#1573c0"/>
<circle cx="1410.53" cy="59.44" r="4.45" fill="#1573c0"/>
<circle cx="1411.60" cy="59.57" r="4.45" fill="#1573c0"/>
<circle cx="1412.66" cy="63.97" r="4.45" fill="#1573c0"/>
<circle cx="1413.73" cy="64.13" r="4.45" fill="#1573c0"/>
<circle cx="1414.80" cy="59.66" r="4.45" fill="#1573c0"/>
<circle cx="1415.86" cy="63.48" r="4.45" fill="#1573c0"/>
<circle cx="1416.93" cy="58.81" r="4.45" fill="#1573c0"/>
<circle cx="1417.99" cy="56.71" r="4.45" fill="#1573c0"/>
<circle cx="1419.06" cy="60.14" r="4.45" fill="#1573c0"/>
<circle cx="1420.13" cy="61.08" r="4.45" fill="#1573c0"/>
<circle cx="1421.19" cy="62.82" r="4.45" fill="#1573c0"/>
<circle cx="1422.26" cy="63.28" r="4.45" fill="#1573c0"/>
<circle cx="1423.33" cy="61.60" r="4.45" fill="#1573c0"/>
<circle cx="1424.39" cy="61.41" r="4.45" fill="#1573c0"/>
<circle cx="1425.46" cy="60.92" r="4.45" fill="#1573c0"/>
<circle cx="1426.52" cy="60.77" r="4.45" fill="#1573c0"/>
<circle cx="1427.59" cy="61.23" r="4.45" fill="#1573c0"/>
<circle cx="1428.66" cy="62.84" r="4.45" fill="#1573c0"/>
<circle cx="1429.72" cy="58.00" r="4.45" fill="#1573c0"/>
<circle cx="1430.79" cy="55.66" r="4.45" fill="#1573c0"/>
<circle cx="1431.86" cy="56.93" r="4.45" fill="#1573c0"/>
<circle cx="1432.92" cy="56.80" r="4.45" fill="#1573c0"/>
<circle cx="1433.99" cy="57.98" r="4.45" fill="#1573c0"/>
<circle cx="1435.05" cy="61.60" r="4.45" fill="#1573c0"/>
<circle cx="1436.12" cy="55.65" r="4.45" fill="#1573c0"/>
<circle cx="1437.19" cy="58.83" r="4.45" fill="#1573c0"/>
<circle cx="1438.25" cy="61.79" r="4.45" fill="#1573c0"/>
<circle cx="1439.32" cy="57.46" r="4.45" fill="#1573c0"/>
<circle cx="1440.39" cy="55.91" r="4.45" fill="#1573c0"/>
<circle cx="1441.45" cy="57.39" r="4.45" fill="#1573c0"/>
<circle cx="1442.52" cy="56.19" r="4.45" fill="#1573c0"/>
<circle cx="1443.58" cy="62.03" r="4.45" fill="#1573c0"/>
<circle cx="1444.65" cy="56.99" r="4.45" fill="#1573c0"/>
<circle cx="1445.72" cy="57.26" r="4.45" fill="#1573c0"/>
<circle cx="1446.78" cy="62.28" r="4.45" fill="#1573c0"/>
<circle cx="1447.85" cy="62.30" r="4.45" fill="#1573c0"/>
<circle cx="1448.92" cy="60.60" r="4.45" fill="#1573c0"/>
<circle cx="1449.98" cy="63.26" r="4.45" fill="#1573c0"/>
<circle cx="1451.05" cy="56.48" r="4.45" fill="#1573c0"/>
<circle cx="1452.11" cy="63.78" r="4.45" fill="#1573c0"/>
<circle cx="1453.18" cy="60.69" r="4.45" fill="#1573c0"/>
<circle cx="1454.25" cy="58.61" r="4.45" fill="#1573c0"/>
<circle cx="1455.31" cy="62.86" r="4.45" fill="#1573c0"/>
<circle cx="1456.38" cy="61.59" r="4.45" fill="#1573c0"/>
<circle cx="1457.45" cy="64.27" r="4.45" fill="#1573c0"/>
<circle cx="1458.51" cy="57.29" r="4.45" fill="#1573c0"/>
<circle cx="1459.58" cy="61.11" r="4.45" fill="#1573c0"/>
<circle cx="1460.64" cy="60.27" r="4.45" fill="#1573c0"/>
<circle cx="1461.71" cy="61.72" r="4.45" fill="#1573c0"/>
<circle cx="1462.78" cy="58.30" r="4.45" fill="#1573c0"/>
<circle cx="1463.84" cy="56.25" r="4.45" fill="#1573c0"/>
<circle cx="1464.91" cy="59.87" r="4.45" fill="#1573c0"/>
<circle cx="1465.98" cy="57.90" r="4.45" fill="#1573c0"/>
<circle cx="1467.04" cy="61.63" r="4.45" fill="#1573c0"/>
<circle cx="1468.11" cy="57.81" r="4.45" fill="#1573c0"/>
<circle cx="1469.17" cy="57.35" r="4.45" fill="#1573c0"/>
<circle cx="1470.24" cy="59.10" r="4.45" fill="#1573c0"/>
<circle cx="1471.31" cy="58.34" r="4.45" fill="#1573c0"/>
<circle cx="1472.37" cy="61.96" r="4.45" fill="#1573c0"/>
<circle cx="1473.44" cy="60.76" r="4.45" fill="#1573c0"/>
<circle cx="1474.50" cy="58.63" r="4.45" fill="#1573c0"/>
<circle cx="1475.57" cy="56.57" r="4.45" fill="#1573c0"/>
<circle cx="1476.64" cy="59.95" r="4.45" fill="#1573c0"/>
<circle cx="1477.70" cy="61.33" r="4.45" fill="#1573c0"/>
<circle cx="1478.77" cy="61.60" r="4.45" fill="#1573c0"/>
<circle cx="1479.84" cy="63.68" r="4.45" fill="#1573c0"/>
<circle cx="1480.90" cy="57.62" r="4.45" fill="#1573c0"/>
<circle cx="1481.97" cy="59.37" r="4.45" fill="#1573c0"/>
<circle cx="1483.03" cy="59.39" r="4.45" fill="#1573c0"/>
<circle cx="1484.10" cy="58.54" r="4.45" fill="#1573c0"/>
<circle cx="1485.17" cy="58.87" r="4.45" fill="#1573c0"/>
<circle cx="1486.23" cy="59.72" r="4.45" fill="#1573c0"/>
<circle cx="1487.30" cy="49.80" r="4.45" fill="#1573c0"/>
<circle cx="1488.37" cy="57.86" r="4.45" fill="#1573c0"/>
<circle cx="1489.43" cy="56.72" r="4.45" fill="#1573c0"/>
<circle cx="1490.50" cy="57.97" r="4.45" fill="#1573c0"/>
<circle cx="1491.56" cy="56.54" r="4.45" fill="#1573c0"/>
<circle cx="1492.63" cy="57.89" r="4.45" fill="#1573c0"/>
<circle cx="1493.70" cy="60.69" r="4.45" fill="#1573c0"/>
<circle cx="1494.76" cy="59.99" r="4.45" fill="#1573c0"/>
<circle cx="1495.83" cy="63.08" r="4.45" fill="#1573c0"/>
<circle cx="1496.90" cy="59.54" r="4.45" fill="#1573c0"/>
<circle cx="1497.96" cy="59.40" r="4.45" fill="#1573c0"/>
<circle cx="1499.03" cy="60.14" r="4.45" fill="#1573c0"/>
<circle cx="1500.09" cy="60.83" r="4.45" fill="#1573c0"/>
<circle cx="1501.16" cy="59.98" r="4.45" fill="#1573c0"/>
<circle cx="1502.23" cy="59.82" r="4.45" fill="#1573c0"/>
<circle cx="1503.29" cy="60.03" r="4.45" fill="#1573c0"/>
<circle cx="1504.36" cy="58.13" r="4.45" fill="#1573c0"/>
<circle cx="1505.43" cy="61.63" r="4.45" fill="#1573c0"/>
<circle cx="1506.49" cy="60.38" r="4.45" fill="#1573c0"/>
<circle cx="1507.56" cy="58.16" r="4.45" fill="#1573c0"/>
<circle cx="1508.62" cy="57.80" r="4.45" fill="#1573c0"/>
<circle cx="1509.69" cy="56.57" r="4.45" fill="#1573c0"/>
<polyline points="1297.51,247.16 1298.58,241.24 1299.64,230.84 1300.71,218.23 1301.77,205.58 1302.84,194.26 1303.91,184.58 1304.97,176.08 1306.04,168.04 1307.11,160.00 1308.17,151.95 1309.24,144.27 1310.30,137.45 1311.37,131.87 1312.44,127.61 1313.50,124.43 1314.57,121.87 1315.64,119.44 1316.70,116.85 1317.77,114.15 1318.83,111.67 1319.90,109.78 1320.97,108.60 1322.03,107.83 1323.10,106.89 1324.17,105.20 1325.23,102.51 1326.30,99.04 1327.36,95.35 1328.43,92.11 1329.50,89.81 1330.56,88.66 1331.63,88.61 1332.70,89.38 1333.76,90.58 1334.83,91.72 1335.89,92.40 1336.96,92.34 1338.03,91.48 1339.09,89.98 1340.16,88.12 1341.22,86.19 1342.29,84.40 1343.36,82.90 1344.42,81.72 1345.49,80.86 1346.56,80.26 1347.62,79.84 1348.69,79.51 1349.75,79.22 1350.82,78.94 1351.89,78.68 1352.95,78.45 1354.02,78.27 1355.09,78.18 1356.15,78.22 1357.22,78.39 1358.28,78.68 1359.35,79.01 1360.42,79.20 1361.48,79.05 1362.55,78.41 1363.62,77.23 1364.68,75.62 1365.75,73.82 1366.81,72.10 1367.88,70.64 1368.95,69.51 1370.01,68.66 1371.08,68.03 1372.15,67.54 1373.21,67.15 1374.28,66.87 1375.34,66.68 1376.41,66.56 1377.48,66.48 1378.54,66.41 1379.61,66.31 1380.68,66.13 1381.74,65.86 1382.81,65.48 1383.87,65.04 1384.94,64.60 1386.01,64.23 1387.07,64.00 1388.14,63.93 1389.21,64.02 1390.27,64.21 1391.34,64.41 1392.40,64.54 1393.47,64.52 1394.54,64.33 1395.60,63.99 1396.67,63.55 1397.74,63.09 1398.80,62.66 1399.87,62.31 1400.93,62.04 1402.00,61.84 1403.07,61.66 1404.13,61.48 1405.20,61.28 1406.27,61.08 1407.33,60.94 1408.40,60.89 1409.46,60.93 1410.53,61.04 1411.60,61.16 1412.66,61.23 1413.73,61.21 1414.80,61.09 1415.86,60.93 1416.93,60.79 1417.99,60.74 1419.06,60.81 1420.13,60.97 1421.19,61.16 1422.26,61.30 1423.33,61.34 1424.39,61.24 1425.46,61.01 1426.52,60.66 1427.59,60.21 1428.66,59.69 1429.72,59.18 1430.79,58.73 1431.86,58.42 1432.92,58.26 1433.99,58.22 1435.05,58.25 1436.12,58.30 1437.19,58.31 1438.25,58.27 1439.32,58.22 1440.39,58.21 1441.45,58.27 1442.52,58.45 1443.58,58.75 1444.65,59.13 1445.72,59.56 1446.78,59.98 1447.85,60.33 1448.92,60.59 1449.98,60.77 1451.05,60.87 1452.11,60.94 1453.18,61.00 1454.25,61.03 1455.31,61.04 1456.38,60.99 1457.45,60.86 1458.51,60.65 1459.58,60.37 1460.64,60.06 1461.71,59.74 1462.78,59.46 1463.84,59.22 1464.91,59.06 1465.98,58.97 1467.04,58.95 1468.11,58.97 1469.17,59.04 1470.24,59.15 1471.31,59.27 1472.37,59.39 1473.44,59.51 1474.50,59.64 1475.57,59.79 1476.64,59.93 1477.70,60.04 1478.77,60.07 1479.84,59.97 1480.90,59.74 1481.97,59.38 1483.03,58.93 1484.10,58.44 1485.17,57.96 1486.23,57.56 1487.30,57.30 1488.37,57.22 1489.43,57.35 1490.50,57.66 1491.56,58.11 1492.63,58.63 1493.70,59.13 1494.76,59.55 1495.83,59.86 1496.90,60.05 1497.96,60.13 1499.03,60.13 1500.09,60.08 1501.16,59.99 1502.23,59.89 1503.29,59.74 1504.36,59.56 1505.43,59.32 1506.49,59.03 1507.56,58.74 1508.62,58.50 1509.69,58.36" fill="none" stroke="#ff7f0e" stroke-width="3.56" stroke-dasharray="3.62 5.98" stroke-linejoin="round"/>
</g>
<rect x="1286.90" y="35.90" width="233.40" height="299.20" fill="none" stroke="#000" stroke-width="1.55" stroke-linejoin="miter"/>
<line x1="1286.90" y1="334.18" x2="1280.40" y2="334.18" stroke="#000" stroke-width="1.55"/>
<text x="1273.50" y="341.68" text-anchor="end">0.2</text>
<line x1="1286.90" y1="256.22" x2="1280.40" y2="256.22" stroke="#000" stroke-width="1.55"/>
<text x="1273.50" y="263.72" text-anchor="end">0.4</text>
<line x1="1286.90" y1="178.26" x2="1280.40" y2="178.26" stroke="#000" stroke-width="1.55"/>
<text x="1273.50" y="185.76" text-anchor="end">0.6</text>
<line x1="1286.90" y1="100.30" x2="1280.40" y2="100.30" stroke="#000" stroke-width="1.55"/>
<text x="1273.50" y="107.80" text-anchor="end">0.8</text>
<line x1="1296.44" y1="335.10" x2="1296.44" y2="341.60" stroke="#000" stroke-width="1.55"/>
<text x="1296.44" y="362.60" text-anchor="middle">0</text>
<line x1="1403.07" y1="335.10" x2="1403.07" y2="341.60" stroke="#000" stroke-width="1.55"/>
<text x="1403.07" y="362.60" text-anchor="middle">100</text>
<line x1="1509.69" y1="335.10" x2="1509.69" y2="341.60" stroke="#000" stroke-width="1.55"/>
<text x="1509.69" y="362.60" text-anchor="middle">200</text>
<text x="1403.60" y="25.63" text-anchor="middle" font-size="21.9">metrics/recall(B)</text></g>
<g><clipPath id="c5"><rect x="51.90" y="415.90" width="233.40" height="300.00"/></clipPath>
<g clip-path="url(#c5)">
<polyline points="62.51,430.00 63.58,546.60 64.64,571.80 65.71,642.00 66.77,627.57 67.84,636.52 68.91,637.82 69.97,638.70 71.04,662.00 72.11,623.00 73.17,647.16 74.24,652.00 75.30,637.50 76.37,659.46 77.44,675.00 78.50,671.84 79.57,671.52 80.64,667.27 81.70,660.00 82.77,677.18 83.83,680.00 84.90,677.34 85.97,679.39 87.03,678.97 88.10,679.12 89.17,677.02 90.23,672.60 91.30,684.98 92.36,676.76 93.43,674.42 94.50,681.31 95.56,684.14 96.63,678.84 97.70,682.77 98.76,682.79 99.83,684.35 100.89,686.74 101.96,677.00 103.03,682.51 104.09,684.27 105.16,687.53 106.22,688.60 107.29,685.63 108.36,690.65 109.42,686.67 110.49,686.36 111.56,689.34 112.62,684.60 113.69,687.39 114.75,690.62 115.82,690.82 116.89,687.23 117.95,686.72 119.02,689.23 120.09,688.40 121.15,691.88 122.22,687.80 123.28,689.23 124.35,693.64 125.42,692.10 126.48,693.40 127.55,694.14 128.62,693.71 129.68,690.68 130.75,693.09 131.81,692.59 132.88,692.43 133.95,694.31 135.01,694.91 136.08,694.38 137.15,691.83 138.21,694.82 139.28,691.76 140.34,692.59 141.41,696.40 142.48,693.96 143.54,692.82 144.61,695.64 145.68,693.19 146.74,695.76 147.81,693.92 148.87,693.01 149.94,697.75 151.01,693.43 152.07,695.81 153.14,695.11 154.21,696.86 155.27,697.94 156.34,696.90 157.40,696.98 158.47,694.80 159.54,697.93 160.60,695.58 161.67,697.18 162.74,695.08 163.80,696.64 164.87,699.55 165.93,698.20 167.00,698.30 168.07,697.57 169.13,700.03 170.20,697.43 171.27,696.82 172.33,699.15 173.40,697.82 174.46,700.49 175.53,697.63 176.60,700.77 177.66,700.00 178.73,697.27 179.80,699.96 180.86,700.57 181.93,701.99 182.99,701.29 184.06,701.18 185.13,699.97 186.19,697.76 187.26,701.69 188.33,697.74 189.39,700.48 190.46,700.62 191.52,698.40 192.59,698.21 193.66,700.82 194.72,700.42 195.79,699.55 196.86,698.29 197.92,701.30 198.99,698.79 200.05,698.27 201.12,699.63 202.19,699.78 203.25,699.20 204.32,698.66 205.39,702.24 206.45,700.37 207.52,699.61 208.58,701.01 209.65,699.67 210.72,702.66 211.78,700.82 212.85,701.51 213.92,703.26 214.98,700.17 216.05,699.51 217.11,703.28 218.18,701.32 219.25,703.29 220.31,703.21 221.38,701.89 222.45,698.45 223.51,701.41 224.58,699.59 225.64,698.98 226.71,700.16 227.78,699.32 228.84,702.14 229.91,702.97 230.98,698.42 232.04,699.56 233.11,699.60 234.17,698.97 235.24,703.00 236.31,699.47 237.37,700.00 238.44,698.46 239.50,699.39 240.57,702.60 241.64,703.00 242.70,701.44 243.77,699.63 244.84,698.42 245.90,702.43 246.97,698.87 248.03,699.42 249.10,700.79 250.17,699.29 251.23,702.23 252.30,700.49 253.37,700.38 254.43,702.46 255.50,702.48 256.56,699.08 257.63,697.94 258.70,701.17 259.76,699.14 260.83,697.83 261.90,698.21 262.96,699.79 264.03,698.26 265.09,698.66 266.16,701.32 267.23,699.84 268.29,698.09 269.36,698.56 270.43,702.10 271.49,697.45 272.56,700.58 273.62,700.56 274.69,700.70" fill="none" stroke="#1573c0" stroke-width="3.56" stroke-linejoin="round" stroke-linecap="square"/>
<circle cx="62.51" cy="430.00" r="4.45" fill="#1573c0"/>
<circle cx="63.58" cy="546.60" r="4.45" fill="#1573c0"/>
<circle cx="64.64" cy="571.80" r="4.45" fill="#1573c0"/>
<circle cx="65.71" cy="642.00" r="4.45" fill="#1573c0"/>
<circle cx="66.77" cy="627.57" r="4.45" fill="#1573c0"/>
<circle cx="67.84" cy="636.52" r="4.45" fill="#1573c0"/>
<circle cx="68.91" cy="637.82" r="4.45" fill="#1573c0"/>
<circle cx="69.97" cy="638.70" r="4.45" fill="#1573c0"/>
<circle cx="71.04" cy="662.00" r="4.45" fill="#1573c0"/>
<circle cx="72.11" cy="623.00" r="4.45" fill="#1573c0"/>
<circle cx="73.17" cy="647.16" r="4.45" fill="#1573c0"/>
<circle cx="74.24" cy="652.00" r="4.45" fill="#1573c0"/>
<circle cx="75.30" cy="637.50" r="4.45" fill="#1573c0"/>
<circle cx="76.37" cy="659.46" r="4.45" fill="#1573c0"/>
<circle cx="77.44" cy="675.00" r="4.45" fill="#1573c0"/>
<circle cx="78.50" cy="671.84" r="4.45" fill="#1573c0"/>
<circle cx="79.57" cy="671.52" r="4.45" fill="#1573c0"/>
<circle cx="80.64" cy="667.27" r="4.45" fill="#1573c0"/>
<circle cx="81.70" cy="660.00" r="4.45" fill="#1573c0"/>
<circle cx="82.77" cy="677.18" r="4.45" fill="#1573c0"/>
<circle cx="83.83" cy="680.00" r="4.45" fill="#1573c0"/>
<circle cx="84.90" cy="677.34" r="4.45" fill="#1573c0"/>
<circle cx="85.97" cy="679.39" r="4.45" fill="#1573c0"/>
<circle cx="87.03" cy="678.97" r="4.45" fill="#1573c0"/>
<circle cx="88.10" cy="679.12" r="4.45" fill="#1573c0"/>
<circle cx="89.17" cy="677.02" r="4.45" fill="#1573c0"/>
<circle cx="90.23" cy="672.60" r="4.45" fill="#1573c0"/>
<circle cx="91.30" cy="684.98" r="4.45" fill="#1573c0"/>
<circle cx="92.36" cy="676.76" r="4.45" fill="#1573c0"/>
<circle cx="93.43" cy="674.42" r="4.45" fill="#1573c0"/>
<circle cx="94.50" cy="681.31" r="4.45" fill="#1573c0"/>
<circle cx="95.56" cy="684.14" r="4.45" fill="#1573c0"/>
<circle cx="96.63" cy="678.84" r="4.45" fill="#1573c0"/>
<circle cx="97.70" cy="682.77" r="4.45" fill="#1573c0"/>
<circle cx="98.76" cy="682.79" r="4.45" fill="#1573c0"/>
<circle cx="99.83" cy="684.35" r="4.45" fill="#1573c0"/>
<circle cx="100.89" cy="686.74" r="4.45" fill="#1573c0"/>
<circle cx="101.96" cy="677.00" r="4.45" fill="#1573c0"/>
<circle cx="103.03" cy="682.51" r="4.45" fill="#1573c0"/>
<circle cx="104.09" cy="684.27" r="4.45" fill="#1573c0"/>
<circle cx="105.16" cy="687.53" r="4.45" fill="#1573c0"/>
<circle cx="106.22" cy="688.60" r="4.45" fill="#1573c0"/>
<circle cx="107.29" cy="685.63" r="4.45" fill="#1573c0"/>
<circle cx="108.36" cy="690.65" r="4.45" fill="#1573c0"/>
<circle cx="109.42" cy="686.67" r="4.45" fill="#1573c0"/>
<circle cx="110.49" cy="686.36" r="4.45" fill="#1573c0"/>
<circle cx="111.56" cy="689.34" r="4.45" fill="#1573c0"/>
<circle cx="112.62" cy="684.60" r="4.45" fill="#1573c0"/>
<circle cx="113.69" cy="687.39" r="4.45" fill="#1573c0"/>
<circle cx="114.75" cy="690.62" r="4.45" fill="#1573c0"/>
<circle cx="115.82" cy="690.82" r="4.45" fill="#1573c0"/>
<circle cx="116.89" cy="687.23" r="4.45" fill="#1573c0"/>
<circle cx="117.95" cy="686.72" r="4.45" fill="#1573c0"/>
<circle cx="119.02" cy="689.23" r="4.45" fill="#1573c0"/>
<circle cx="120.09" cy="688.40" r="4.45" fill="#1573c0"/>
<circle cx="121.15" cy="691.88" r="4.45" fill="#1573c0"/>
<circle cx="122.22" cy="687.80" r="4.45" fill="#1573c0"/>
<circle cx="123.28" cy="689.23" r="4.45" fill="#1573c0"/>
<circle cx="124.35" cy="693.64" r="4.45" fill="#1573c0"/>
<circle cx="125.42" cy="692.10" r="4.45" fill="#1573c0"/>
<circle cx="126.48" cy="693.40" r="4.45" fill="#1573c0"/>
<circle cx="127.55" cy="694.14" r="4.45" fill="#1573c0"/>
<circle cx="128.62" cy="693.71" r="4.45" fill="#1573c0"/>
<circle cx="129.68" cy="690.68" r="4.45" fill="#1573c0"/>
<circle cx="130.75" cy="693.09" r="4.45" fill="#1573c0"/>
<circle cx="131.81" cy="692.59" r="4.45" fill="#1573c0"/>
<circle cx="132.88" cy="692.43" r="4.45" fill="#1573c0"/>
<circle cx="133.95" cy="694.31" r="4.45" fill="#1573c0"/>
<circle cx="135.01" cy="694.91" r="4.45" fill="#1573c0"/>
<circle cx="136.08" cy="694.38" r="4.45" fill="#1573c0"/>
<circle cx="137.15" cy="691.83" r="4.45" fill="#1573c0"/>
<circle cx="138.21" cy="694.82" r="4.45" fill="#1573c0"/>
<circle cx="139.28" cy="691.76" r="4.45" fill="#1573c0"/>
<circle cx="140.34" cy="692.59" r="4.45" fill="#1573c0"/>
<circle cx="141.41" cy="696.40" r="4.45" fill="#1573c0"/>
<circle cx="142.48" cy="693.96" r="4.45" fill="#1573c0"/>
<circle cx="143.54" cy="692.82" r="4.45" fill="#1573c0"/>
<circle cx="144.61" cy="695.64" r="4.45" fill="#1573c0"/>
<circle cx="145.68" cy="693.19" r="4.45" fill="#1573c0"/>
<circle cx="146.74" cy="695.76" r="4.45" fill="#1573c0"/>
<circle cx="147.81" cy="693.92" r="4.45" fill="#1573c0"/>
<circle cx="148.87" cy="693.01" r="4.45" fill="#1573c0"/>
<circle cx="149.94" cy="697.75" r="4.45" fill="#1573c0"/>
<circle cx="151.01" cy="693.43" r="4.45" fill="#1573c0"/>
<circle cx="152.07" cy="695.81" r="4.45" fill="#1573c0"/>
<circle cx="153.14" cy="695.11" r="4.45" fill="#1573c0"/>
<circle cx="154.21" cy="696.86" r="4.45" fill="#1573c0"/>
<circle cx="155.27" cy="697.94" r="4.45" fill="#1573c0"/>
<circle cx="156.34" cy="696.90" r="4.45" fill="#1573c0"/>
<circle cx="157.40" cy="696.98" r="4.45" fill="#1573c0"/>
<circle cx="158.47" cy="694.80" r="4.45" fill="#1573c0"/>
<circle cx="159.54" cy="697.93" r="4.45" fill="#1573c0"/>
<circle cx="160.60" cy="695.58" r="4.45" fill="#1573c0"/>
<circle cx="161.67" cy="697.18" r="4.45" fill="#1573c0"/>
<circle cx="162.74" cy="695.08" r="4.45" fill="#1573c0"/>
<circle cx="163.80" cy="696.64" r="4.45" fill="#1573c0"/>
<circle cx="164.87" cy="699.55" r="4.45" fill="#1573c0"/>
<circle cx="165.93" cy="698.20" r="4.45" fill="#1573c0"/>
<circle cx="167.00" cy="698.30" r="4.45" fill="#1573c0"/>
<circle cx="168.07" cy="697.57" r="4.45" fill="#1573c0"/>
<circle cx="169.13" cy="700.03" r="4.45" fill="#1573c0"/>
<circle cx="170.20" cy="697.43" r="4.45" fill="#1573c0"/>
<circle cx="171.27" cy="696.82" r="4.45" fill="#1573c0"/>
<circle cx="172.33" cy="699.15" r="4.45" fill="#1573c0"/>
<circle cx="173.40" cy="697.82" r="4.45" fill="#1573c0"/>
<circle cx="174.46" cy="700.49" r="4.45" fill="#1573c0"/>
<circle cx="175.53" cy="697.63" r="4.45" fill="#1573c0"/>
<circle cx="176.60" cy="700.77" r="4.45" fill="#1573c0"/>
<circle cx="177.66" cy="700.00" r="4.45" fill="#1573c0"/>
<circle cx="178.73" cy="697.27" r="4.45" fill="#1573c0"/>
<circle cx="179.80" cy="699.96" r="4.45" fill="#1573c0"/>
<circle cx="180.86" cy="700.57" r="4.45" fill="#1573c0"/>
<circle cx="181.93" cy="701.99" r="4.45" fill="#1573c0"/>
<circle cx="182.99" cy="701.29" r="4.45" fill="#1573c0"/>
<circle cx="184.06" cy="701.18" r="4.45" fill="#1573c0"/>
<circle cx="185.13" cy="699.97" r="4.45" fill="#1573c0"/>
<circle cx="186.19" cy="697.76" r="4.45" fill="#1573c0"/>
<circle cx="187.26" cy="701.69" r="4.45" fill="#1573c0"/>
<circle cx="188.33" cy="697.74" r="4.45" fill="#1573c0"/>
<circle cx="189.39" cy="700.48" r="4.45" fill="#1573c0"/>
<circle cx="190.46" cy="700.62" r="4.45" fill="#1573c0"/>
<circle cx="191.52" cy="698.40" r="4.45" fill="#1573c0"/>
<circle cx="192.59" cy="698.21" r="4.45" fill="#1573c0"/>
<circle cx="193.66" cy="700.82" r="4.45" fill="#1573c0"/>
<circle cx="194.72" cy="700.42" r="4.45" fill="#1573c0"/>
<circle cx="195.79" cy="699.55" r="4.45" fill="#1573c0"/>
<circle cx="196.86" cy="698.29" r="4.45" fill="#1573c0"/>
<circle cx="197.92" cy="701.30" r="4.45" fill="#1573c0"/>
<circle cx="198.99" cy="698.79" r="4.45" fill="#1573c0"/>
<circle cx="200.05" cy="698.27" r="4.45" fill="#1573c0"/>
<circle cx="201.12" cy="699.63" r="4.45" fill="#1573c0"/>
<circle cx="202.19" cy="699.78" r="4.45" fill="#1573c0"/>
<circle cx="203.25" cy="699.20" r="4.45" fill="#1573c0"/>
<circle cx="204.32" cy="698.66" r="4.45" fill="#1573c0"/>
<circle cx="205.39" cy="702.24" r="4.45" fill="#1573c0"/>
<circle cx="206.45" cy="700.37" r="4.45" fill="#1573c0"/>
<circle cx="207.52" cy="699.61" r="4.45" fill="#1573c0"/>
<circle cx="208.58" cy="701.01" r="4.45" fill="#1573c0"/>
<circle cx="209.65" cy="699.67" r="4.45" fill="#1573c0"/>
<circle cx="210.72" cy="702.66" r="4.45" fill="#1573c0"/>
<circle cx="211.78" cy="700.82" r="4.45" fill="#1573c0"/>
<circle cx="212.85" cy="701.51" r="4.45" fill="#1573c0"/>
<circle cx="213.92" cy="703.26" r="4.45" fill="#1573c0"/>
<circle cx="214.98" cy="700.17" r="4.45" fill="#1573c0"/>
<circle cx="216.05" cy="699.51" r="4.45" fill="#1573c0"/>
<circle cx="217.11" cy="703.28" r="4.45" fill="#1573c0"/>
<circle cx="218.18" cy="701.32" r="4.45" fill="#1573c0"/>
<circle cx="219.25" cy="703.29" r="4.45" fill="#1573c0"/>
<circle cx="220.31" cy="703.21" r="4.45" fill="#1573c0"/>
<circle cx="221.38" cy="701.89" r="4.45" fill="#1573c0"/>
<circle cx="222.45" cy="698.45" r="4.45" fill="#1573c0"/>
<circle cx="223.51" cy="701.41" r="4.45" fill="#1573c0"/>
<circle cx="224.58" cy="699.59" r="4.45" fill="#1573c0"/>
<circle cx="225.64" cy="698.98" r="4.45" fill="#1573c0"/>
<circle cx="226.71" cy="700.16" r="4.45" fill="#1573c0"/>
<circle cx="227.78" cy="699.32" r="4.45" fill="#1573c0"/>
<circle cx="228.84" cy="702.14" r="4.45" fill="#1573c0"/>
<circle cx="229.91" cy="702.97" r="4.45" fill="#1573c0"/>
<circle cx="230.98" cy="698.42" r="4.45" fill="#1573c0"/>
<circle cx="232.04" cy="699.56" r="4.45" fill="#1573c0"/>
<circle cx="233.11" cy="699.60" r="4.45" fill="#1573c0"/>
<circle cx="234.17" cy="698.97" r="4.45" fill="#1573c0"/>
<circle cx="235.24" cy="703.00" r="4.45" fill="#1573c0"/>
<circle cx="236.31" cy="699.47" r="4.45" fill="#1573c0"/>
<circle cx="237.37" cy="700.00" r="4.45" fill="#1573c0"/>
<circle cx="238.44" cy="698.46" r="4.45" fill="#1573c0"/>
<circle cx="239.50" cy="699.39" r="4.45" fill="#1573c0"/>
<circle cx="240.57" cy="702.60" r="4.45" fill="#1573c0"/>
<circle cx="241.64" cy="703.00" r="4.45" fill="#1573c0"/>
<circle cx="242.70" cy="701.44" r="4.45" fill="#1573c0"/>
<circle cx="243.77" cy="699.63" r="4.45" fill="#1573c0"/>
<circle cx="244.84" cy="698.42" r="4.45" fill="#1573c0"/>
<circle cx="245.90" cy="702.43" r="4.45" fill="#1573c0"/>
<circle cx="246.97" cy="698.87" r="4.45" fill="#1573c0"/>
<circle cx="248.03" cy="699.42" r="4.45" fill="#1573c0"/>
<circle cx="249.10" cy="700.79" r="4.45" fill="#1573c0"/>
<circle cx="250.17" cy="699.29" r="4.45" fill="#1573c0"/>
<circle cx="251.23" cy="702.23" r="4.45" fill="#1573c0"/>
<circle cx="252.30" cy="700.49" r="4.45" fill="#1573c0"/>
<circle cx="253.37" cy="700.38" r="4.45" fill="#1573c0"/>
<circle cx="254.43" cy="702.46" r="4.45" fill="#1573c0"/>
<circle cx="255.50" cy="702.48" r="4.45" fill="#1573c0"/>
<circle cx="256.56" cy="699.08" r="4.45" fill="#1573c0"/>
<circle cx="257.63" cy="697.94" r="4.45" fill="#1573c0"/>
<circle cx="258.70" cy="701.17" r="4.45" fill="#1573c0"/>
<circle cx="259.76" cy="699.14" r="4.45" fill="#1573c0"/>
<circle cx="260.83" cy="697.83" r="4.45" fill="#1573c0"/>
<circle cx="261.90" cy="698.21" r="4.45" fill="#1573c0"/>
<circle cx="262.96" cy="699.79" r="4.45" fill="#1573c0"/>
<circle cx="264.03" cy="698.26" r="4.45" fill="#1573c0"/>
<circle cx="265.09" cy="698.66" r="4.45" fill="#1573c0"/>
<circle cx="266.16" cy="701.32" r="4.45" fill="#1573c0"/>
<circle cx="267.23" cy="699.84" r="4.45" fill="#1573c0"/>
<circle cx="268.29" cy="698.09" r="4.45" fill="#1573c0"/>
<circle cx="269.36" cy="698.56" r="4.45" fill="#1573c0"/>
<circle cx="270.43" cy="702.10" r="4.45" fill="#1573c0"/>
<circle cx="271.49" cy="697.45" r="4.45" fill="#1573c0"/>
<circle cx="272.56" cy="700.58" r="4.45" fill="#1573c0"/>
<circle cx="273.62" cy="700.56" r="4.45" fill="#1573c0"/>
<circle cx="274.69" cy="700.70" r="4.45" fill="#1573c0"/>
<polyline points="62.51,550.21 63.58,557.84 64.64,571.21 65.71,587.33 66.77,603.21 67.84,616.77 68.91,627.14 69.97,634.49 71.04,639.61 72.11,643.45 73.17,646.82 74.24,650.22 75.30,653.85 76.37,657.58 77.44,661.16 78.50,664.37 79.57,667.08 80.64,669.34 81.70,671.29 82.77,673.00 83.83,674.52 84.90,675.78 85.97,676.74 87.03,677.39 88.10,677.80 89.17,678.06 90.23,678.28 91.30,678.56 92.36,678.95 93.43,679.44 94.50,680.03 95.56,680.66 96.63,681.27 97.70,681.84 98.76,682.32 99.83,682.75 100.89,683.17 101.96,683.64 103.03,684.20 104.09,684.84 105.16,685.53 106.22,686.17 107.29,686.70 108.36,687.09 109.42,687.35 110.49,687.54 111.56,687.70 112.62,687.87 113.69,688.05 114.75,688.24 115.82,688.43 116.89,688.61 117.95,688.82 119.02,689.07 120.09,689.40 121.15,689.82 122.22,690.32 123.28,690.85 124.35,691.39 125.42,691.88 126.48,692.27 127.55,692.54 128.62,692.73 129.68,692.86 130.75,692.97 131.81,693.09 132.88,693.23 133.95,693.36 135.01,693.46 136.08,693.53 137.15,693.57 138.21,693.62 139.28,693.68 140.34,693.77 141.41,693.89 142.48,694.02 143.54,694.15 144.61,694.27 145.68,694.39 146.74,694.53 147.81,694.68 148.87,694.87 149.94,695.09 151.01,695.34 152.07,695.62 153.14,695.89 154.21,696.14 155.27,696.33 156.34,696.46 157.40,696.53 158.47,696.57 159.54,696.61 160.60,696.70 161.67,696.84 162.74,697.05 163.80,697.30 164.87,697.56 165.93,697.80 167.00,697.99 168.07,698.13 169.13,698.23 170.20,698.32 171.27,698.42 172.33,698.55 173.40,698.72 174.46,698.90 175.53,699.10 176.60,699.30 177.66,699.52 178.73,699.74 179.80,699.96 180.86,700.14 181.93,700.27 182.99,700.31 184.06,700.26 185.13,700.15 186.19,700.00 187.26,699.86 188.33,699.74 189.39,699.66 190.46,699.61 191.52,699.59 192.59,699.59 193.66,699.59 194.72,699.58 195.79,699.57 196.86,699.53 197.92,699.50 198.99,699.47 200.05,699.48 201.12,699.53 202.19,699.62 203.25,699.77 204.32,699.94 205.39,700.13 206.45,700.32 207.52,700.52 208.58,700.71 209.65,700.89 210.72,701.06 211.78,701.21 212.85,701.33 213.92,701.43 214.98,701.52 216.05,701.60 217.11,701.66 218.18,701.67 219.25,701.60 220.31,701.44 221.38,701.20 222.45,700.92 223.51,700.66 224.58,700.46 225.64,700.35 226.71,700.31 227.78,700.32 228.84,700.33 229.91,700.31 230.98,700.27 232.04,700.22 233.11,700.17 234.17,700.15 235.24,700.16 236.31,700.21 237.37,700.29 238.44,700.40 239.50,700.52 240.57,700.62 241.64,700.67 242.70,700.64 243.77,700.56 244.84,700.44 245.90,700.35 246.97,700.30 248.03,700.31 249.10,700.39 250.17,700.50 251.23,700.61 252.30,700.69 253.37,700.69 254.43,700.60 255.50,700.42 256.56,700.17 257.63,699.88 258.70,699.60 259.76,699.37 260.83,699.20 261.90,699.12 262.96,699.11 264.03,699.16 265.09,699.24 266.16,699.33 267.23,699.42 268.29,699.51 269.36,699.61 270.43,699.72 271.49,699.85 272.56,699.98 273.62,700.08 274.69,700.14" fill="none" stroke="#ff7f0e" stroke-width="3.56" stroke-dasharray="3.62 5.98" stroke-linejoin="round"/>
</g>
<rect x="51.90" y="415.90" width="233.40" height="300.00" fill="none" stroke="#000" stroke-width="1.55" stroke-linejoin="miter"/>
<line x1="51.90" y1="681.20" x2="45.40" y2="681.20" stroke="#000" stroke-width="1.55"/>
<text x="38.50" y="688.70" text-anchor="end">1.0</text>
<line x1="51.90" y1="616.30" x2="45.40" y2="616.30" stroke="#000" stroke-width="1.55"/>
<text x="38.50" y="623.80" text-anchor="end">1.5</text>
<line x1="51.90" y1="551.40" x2="45.40" y2="551.40" stroke="#000" stroke-width="1.55"/>
<text x="38.50" y="558.90" text-anchor="end">2.0</text>
<line x1="51.90" y1="486.50" x2="45.40" y2="486.50" stroke="#000" stroke-width="1.55"/>
<text x="38.50" y="494.00" text-anchor="end">2.5</text>
<line x1="51.90" y1="421.60" x2="45.40" y2="421.60" stroke="#000" stroke-width="1.55"/>
<text x="38.50" y="429.10" text-anchor="end">3.0</text>
<line x1="61.44" y1="715.90" x2="61.44" y2="722.40" stroke="#000" stroke-width="1.55"/>
<text x="61.44" y="743.40" text-anchor="middle">0</text>
<line x1="168.07" y1="715.90" x2="168.07" y2="722.40" stroke="#000" stroke-width="1.55"/>
<text x="168.07" y="743.40" text-anchor="middle">100</text>
<line x1="274.69" y1="715.90" x2="274.69" y2="722.40" stroke="#000" stroke-width="1.55"/>
<text x="274.69" y="743.40" text-anchor="middle">200</text>
<text x="168.60" y="405.63" text-anchor="middle" font-size="21.9">val/box_loss</text></g>
<g><clipPath id="c6"><rect x="360.30" y="415.90" width="233.40" height="300.00"/></clipPath>
<g clip-path="url(#c6)">
<polyline points="370.91,447.20 371.98,430.00 373.04,522.00 374.11,583.30 375.17,611.80 376.24,636.50 377.31,644.80 378.37,602.50 379.44,657.00 380.51,611.80 381.57,640.00 382.64,666.30 383.70,634.60 384.77,646.70 385.84,655.00 386.90,660.00 387.97,655.10 389.04,665.00 390.10,668.00 391.17,670.00 392.23,675.00 393.30,681.20 394.37,672.00 395.43,676.00 396.50,622.50 397.57,675.00 398.63,668.00 399.70,662.60 400.76,680.00 401.83,678.40 402.90,677.59 403.96,680.93 405.03,680.18 406.10,681.62 407.16,680.87 408.23,685.94 409.29,685.59 410.36,653.20 411.43,684.34 412.49,681.76 413.56,683.94 414.62,679.30 415.69,686.86 416.76,684.43 417.82,687.70 418.89,688.79 419.96,686.13 421.02,691.43 422.09,684.51 423.15,690.41 424.22,687.48 425.29,687.75 426.35,690.04 427.42,689.13 428.49,688.23 429.55,684.28 430.62,685.36 431.68,691.72 432.75,690.05 433.82,691.96 434.88,691.57 435.95,681.00 437.02,689.26 438.08,690.50 439.15,691.28 440.21,690.41 441.28,692.79 442.35,692.94 443.41,692.85 444.48,691.92 445.55,693.22 446.61,691.29 447.68,692.03 448.74,692.69 449.81,689.80 450.88,693.16 451.94,692.31 453.01,693.13 454.08,693.27 455.14,693.40 456.21,693.20 457.27,694.16 458.34,694.47 459.41,695.67 460.47,695.96 461.54,695.36 462.61,695.40 463.67,696.58 464.74,697.12 465.80,696.70 466.87,697.29 467.94,692.00 469.00,695.41 470.07,698.10 471.14,696.48 472.20,697.24 473.27,698.35 474.33,698.25 475.40,696.67 476.47,698.33 477.53,696.69 478.60,697.67 479.67,699.16 480.73,698.13 481.80,698.76 482.86,699.26 483.93,699.65 485.00,699.58 486.06,697.43 487.13,698.77 488.20,699.00 489.26,697.88 490.33,699.44 491.39,699.73 492.46,700.48 493.53,700.91 494.59,698.55 495.66,698.94 496.73,700.31 497.79,698.80 498.86,699.15 499.92,700.27 500.99,699.11 502.06,701.01 503.12,701.29 504.19,698.87 505.26,700.42 506.32,701.25 507.39,701.83 508.45,699.76 509.52,699.48 510.59,701.63 511.65,701.76 512.72,699.65 513.79,700.41 514.85,701.27 515.92,701.67 516.98,699.67 518.05,701.18 519.12,701.63 520.18,700.88 521.25,699.74 522.32,699.37 523.38,700.13 524.45,701.73 525.51,699.46 526.58,699.36 527.65,700.44 528.71,699.57 529.78,699.84 530.85,699.48 531.91,701.00 532.98,701.54 534.04,700.75 535.11,699.89 536.18,700.50 537.24,701.30 538.31,702.37 539.38,702.55 540.44,700.32 541.51,699.66 542.57,702.14 543.64,702.45 544.71,701.08 545.77,702.04 546.84,702.35 547.90,701.61 548.97,702.42 550.04,699.90 551.10,700.67 552.17,700.71 553.24,700.27 554.30,702.67 555.37,700.05 556.43,702.00 557.50,700.23 558.57,701.12 559.63,701.32 560.70,700.64 561.77,701.69 562.83,701.75 563.90,701.13 564.96,702.42 566.03,700.71 567.10,700.84 568.16,701.35 569.23,701.45 570.30,700.97 571.36,703.13 572.43,702.89 573.49,700.75 574.56,701.57 575.63,701.19 576.69,701.87 577.76,701.38 578.83,702.09 579.89,703.38 580.96,701.79 582.02,702.62 583.09,702.49" fill="none" stroke="#1573c0" stroke-width="3.56" stroke-linejoin="round" stroke-linecap="square"/>
<circle cx="370.91" cy="447.20" r="4.45" fill="#1573c0"/>
<circle cx="371.98" cy="430.00" r="4.45" fill="#1573c0"/>
<circle cx="373.04" cy="522.00" r="4.45" fill="#1573c0"/>
<circle cx="374.11" cy="583.30" r="4.45" fill="#1573c0"/>
<circle cx="375.17" cy="611.80" r="4.45" fill="#1573c0"/>
<circle cx="376.24" cy="636.50" r="4.45" fill="#1573c0"/>
<circle cx="377.31" cy="644.80" r="4.45" fill="#1573c0"/>
<circle cx="378.37" cy="602.50" r="4.45" fill="#1573c0"/>
<circle cx="379.44" cy="657.00" r="4.45" fill="#1573c0"/>
<circle cx="380.51" cy="611.80" r="4.45" fill="#1573c0"/>
<circle cx="381.57" cy="640.00" r="4.45" fill="#1573c0"/>
<circle cx="382.64" cy="666.30" r="4.45" fill="#1573c0"/>
<circle cx="383.70" cy="634.60" r="4.45" fill="#1573c0"/>
<circle cx="384.77" cy="646.70" r="4.45" fill="#1573c0"/>
<circle cx="385.84" cy="655.00" r="4.45" fill="#1573c0"/>
<circle cx="386.90" cy="660.00" r="4.45" fill="#1573c0"/>
<circle cx="387.97" cy="655.10" r="4.45" fill="#1573c0"/>
<circle cx="389.04" cy="665.00" r="4.45" fill="#1573c0"/>
<circle cx="390.10" cy="668.00" r="4.45" fill="#1573c0"/>
<circle cx="391.17" cy="670.00" r="4.45" fill="#1573c0"/>
<circle cx="392.23" cy="675.00" r="4.45" fill="#1573c0"/>
<circle cx="393.30" cy="681.20" r="4.45" fill="#1573c0"/>
<circle cx="394.37" cy="672.00" r="4.45" fill="#1573c0"/>
<circle cx="395.43" cy="676.00" r="4.45" fill="#1573c0"/>
<circle cx="396.50" cy="622.50" r="4.45" fill="#1573c0"/>
<circle cx="397.57" cy="675.00" r="4.45" fill="#1573c0"/>
<circle cx="398.63" cy="668.00" r="4.45" fill="#1573c0"/>
<circle cx="399.70" cy="662.60" r="4.45" fill="#1573c0"/>
<circle cx="400.76" cy="680.00" r="4.45" fill="#1573c0"/>
<circle cx="401.83" cy="678.40" r="4.45" fill="#1573c0"/>
<circle cx="402.90" cy="677.59" r="4.45" fill="#1573c0"/>
<circle cx="403.96" cy="680.93" r="4.45" fill="#1573c0"/>
<circle cx="405.03" cy="680.18" r="4.45" fill="#1573c0"/>
<circle cx="406.10" cy="681.62" r="4.45" fill="#1573c0"/>
<circle cx="407.16" cy="680.87" r="4.45" fill="#1573c0"/>
<circle cx="408.23" cy="685.94" r="4.45" fill="#1573c0"/>
<circle cx="409.29" cy="685.59" r="4.45" fill="#1573c0"/>
<circle cx="410.36" cy="653.20" r="4.45" fill="#1573c0"/>
<circle cx="411.43" cy="684.34" r="4.45" fill="#1573c0"/>
<circle cx="412.49" cy="681.76" r="4.45" fill="#1573c0"/>
<circle cx="413.56" cy="683.94" r="4.45" fill="#1573c0"/>
<circle cx="414.62" cy="679.30" r="4.45" fill="#1573c0"/>
<circle cx="415.69" cy="686.86" r="4.45" fill="#1573c0"/>
<circle cx="416.76" cy="684.43" r="4.45" fill="#1573c0"/>
<circle cx="417.82" cy="687.70" r="4.45" fill="#1573c0"/>
<circle cx="418.89" cy="688.79" r="4.45" fill="#1573c0"/>
<circle cx="419.96" cy="686.13" r="4.45" fill="#1573c0"/>
<circle cx="421.02" cy="691.43" r="4.45" fill="#1573c0"/>
<circle cx="422.09" cy="684.51" r="4.45" fill="#1573c0"/>
<circle cx="423.15" cy="690.41" r="4.45" fill="#1573c0"/>
<circle cx="424.22" cy="687.48" r="4.45" fill="#1573c0"/>
<circle cx="425.29" cy="687.75" r="4.45" fill="#1573c0"/>
<circle cx="426.35" cy="690.04" r="4.45" fill="#1573c0"/>
<circle cx="427.42" cy="689.13" r="4.45" fill="#1573c0"/>
<circle cx="428.49" cy="688.23" r="4.45" fill="#1573c0"/>
<circle cx="429.55" cy="684.28" r="4.45" fill="#1573c0"/>
<circle cx="430.62" cy="685.36" r="4.45" fill="#1573c0"/>
<circle cx="431.68" cy="691.72" r="4.45" fill="#1573c0"/>
<circle cx="432.75" cy="690.05" r="4.45" fill="#1573c0"/>
<circle cx="433.82" cy="691.96" r="4.45" fill="#1573c0"/>
<circle cx="434.88" cy="691.57" r="4.45" fill="#1573c0"/>
<circle cx="435.95" cy="681.00" r="4.45" fill="#1573c0"/>
<circle cx="437.02" cy="689.26" r="4.45" fill="#1573c0"/>
<circle cx="438.08" cy="690.50" r="4.45" fill="#1573c0"/>
<circle cx="439.15" cy="691.28" r="4.45" fill="#1573c0"/>
<circle cx="440.21" cy="690.41" r="4.45" fill="#1573c0"/>
<circle cx="441.28" cy="692.79" r="4.45" fill="#1573c0"/>
<circle cx="442.35" cy="692.94" r="4.45" fill="#1573c0"/>
<circle cx="443.41" cy="692.85" r="4.45" fill="#1573c0"/>
<circle cx="444.48" cy="691.92" r="4.45" fill="#1573c0"/>
<circle cx="445.55" cy="693.22" r="4.45" fill="#1573c0"/>
<circle cx="446.61" cy="691.29" r="4.45" fill="#1573c0"/>
<circle cx="447.68" cy="692.03" r="4.45" fill="#1573c0"/>
<circle cx="448.74" cy="692.69" r="4.45" fill="#1573c0"/>
<circle cx="449.81" cy="689.80" r="4.45" fill="#1573c0"/>
<circle cx="450.88" cy="693.16" r="4.45" fill="#1573c0"/>
<circle cx="451.94" cy="692.31" r="4.45" fill="#1573c0"/>
<circle cx="453.01" cy="693.13" r="4.45" fill="#1573c0"/>
<circle cx="454.08" cy="693.27" r="4.45" fill="#1573c0"/>
<circle cx="455.14" cy="693.40" r="4.45" fill="#1573c0"/>
<circle cx="456.21" cy="693.20" r="4.45" fill="#1573c0"/>
<circle cx="457.27" cy="694.16" r="4.45" fill="#1573c0"/>
<circle cx="458.34" cy="694.47" r="4.45" fill="#1573c0"/>
<circle cx="459.41" cy="695.67" r="4.45" fill="#1573c0"/>
<circle cx="460.47" cy="695.96" r="4.45" fill="#1573c0"/>
<circle cx="461.54" cy="695.36" r="4.45" fill="#1573c0"/>
<circle cx="462.61" cy="695.40" r="4.45" fill="#1573c0"/>
<circle cx="463.67" cy="696.58" r="4.45" fill="#1573c0"/>
<circle cx="464.74" cy="697.12" r="4.45" fill="#1573c0"/>
<circle cx="465.80" cy="696.70" r="4.45" fill="#1573c0"/>
<circle cx="466.87" cy="697.29" r="4.45" fill="#1573c0"/>
<circle cx="467.94" cy="692.00" r="4.45" fill="#1573c0"/>
<circle cx="469.00" cy="695.41" r="4.45" fill="#1573c0"/>
<circle cx="470.07" cy="698.10" r="4.45" fill="#1573c0"/>
<circle cx="471.14" cy="696.48" r="4.45" fill="#1573c0"/>
<circle cx="472.20" cy="697.24" r="4.45" fill="#1573c0"/>
<circle cx="473.27" cy="698.35" r="4.45" fill="#1573c0"/>
<circle cx="474.33" cy="698.25" r="4.45" fill="#1573c0"/>
<circle cx="475.40" cy="696.67" r="4.45" fill="#1573c0"/>
<circle cx="476.47" cy="698.33" r="4.45" fill="#1573c0"/>
<circle cx="477.53" cy="696.69" r="4.45" fill="#1573c0"/>
<circle cx="478.60" cy="697.67" r="4.45" fill="#1573c0"/>
<circle cx="479.67" cy="699.16" r="4.45" fill="#1573c0"/>
<circle cx="480.73" cy="698.13" r="4.45" fill="#1573c0"/>
<circle cx="481.80" cy="698.76" r="4.45" fill="#1573c0"/>
<circle cx="482.86" cy="699.26" r="4.45" fill="#1573c0"/>
<circle cx="483.93" cy="699.65" r="4.45" fill="#1573c0"/>
<circle cx="485.00" cy="699.58" r="4.45" fill="#1573c0"/>
<circle cx="486.06" cy="697.43" r="4.45" fill="#1573c0"/>
<circle cx="487.13" cy="698.77" r="4.45" fill="#1573c0"/>
<circle cx="488.20" cy="699.00" r="4.45" fill="#1573c0"/>
<circle cx="489.26" cy="697.88" r="4.45" fill="#1573c0"/>
<circle cx="490.33" cy="699.44" r="4.45" fill="#1573c0"/>
<circle cx="491.39" cy="699.73" r="4.45" fill="#1573c0"/>
<circle cx="492.46" cy="700.48" r="4.45" fill="#1573c0"/>
<circle cx="493.53" cy="700.91" r="4.45" fill="#1573c0"/>
<circle cx="494.59" cy="698.55" r="4.45" fill="#1573c0"/>
<circle cx="495.66" cy="698.94" r="4.45" fill="#1573c0"/>
<circle cx="496.73" cy="700.31" r="4.45" fill="#1573c0"/>
<circle cx="497.79" cy="698.80" r="4.45" fill="#1573c0"/>
<circle cx="498.86" cy="699.15" r="4.45" fill="#1573c0"/>
<circle cx="499.92" cy="700.27" r="4.45" fill="#1573c0"/>
<circle cx="500.99" cy="699.11" r="4.45" fill="#1573c0"/>
<circle cx="502.06" cy="701.01" r="4.45" fill="#1573c0"/>
<circle cx="503.12" cy="701.29" r="4.45" fill="#1573c0"/>
<circle cx="504.19" cy="698.87" r="4.45" fill="#1573c0"/>
<circle cx="505.26" cy="700.42" r="4.45" fill="#1573c0"/>
<circle cx="506.32" cy="701.25" r="4.45" fill="#1573c0"/>
<circle cx="507.39" cy="701.83" r="4.45" fill="#1573c0"/>
<circle cx="508.45" cy="699.76" r="4.45" fill="#1573c0"/>
<circle cx="509.52" cy="699.48" r="4.45" fill="#1573c0"/>
<circle cx="510.59" cy="701.63" r="4.45" fill="#1573c0"/>
<circle cx="511.65" cy="701.76" r="4.45" fill="#1573c0"/>
<circle cx="512.72" cy="699.65" r="4.45" fill="#1573c0"/>
<circle cx="513.79" cy="700.41" r="4.45" fill="#1573c0"/>
<circle cx="514.85" cy="701.27" r="4.45" fill="#1573c0"/>
<circle cx="515.92" cy="701.67" r="4.45" fill="#1573c0"/>
<circle cx="516.98" cy="699.67" r="4.45" fill="#1573c0"/>
<circle cx="518.05" cy="701.18" r="4.45" fill="#1573c0"/>
<circle cx="519.12" cy="701.63" r="4.45" fill="#1573c0"/>
<circle cx="520.18" cy="700.88" r="4.45" fill="#1573c0"/>
<circle cx="521.25" cy="699.74" r="4.45" fill="#1573c0"/>
<circle cx="522.32" cy="699.37" r="4.45" fill="#1573c0"/>
<circle cx="523.38" cy="700.13" r="4.45" fill="#1573c0"/>
<circle cx="524.45" cy="701.73" r="4.45" fill="#1573c0"/>
<circle cx="525.51" cy="699.46" r="4.45" fill="#1573c0"/>
<circle cx="526.58" cy="699.36" r="4.45" fill="#1573c0"/>
<circle cx="527.65" cy="700.44" r="4.45" fill="#1573c0"/>
<circle cx="528.71" cy="699.57" r="4.45" fill="#1573c0"/>
<circle cx="529.78" cy="699.84" r="4.45" fill="#1573c0"/>
<circle cx="530.85" cy="699.48" r="4.45" fill="#1573c0"/>
<circle cx="531.91" cy="701.00" r="4.45" fill="#1573c0"/>
<circle cx="532.98" cy="701.54" r="4.45" fill="#1573c0"/>
<circle cx="534.04" cy="700.75" r="4.45" fill="#1573c0"/>
<circle cx="535.11" cy="699.89" r="4.45" fill="#1573c0"/>
<circle cx="536.18" cy="700.50" r="4.45" fill="#1573c0"/>
<circle cx="537.24" cy="701.30" r="4.45" fill="#1573c0"/>
<circle cx="538.31" cy="702.37" r="4.45" fill="#1573c0"/>
<circle cx="539.38" cy="702.55" r="4.45" fill="#1573c0"/>
<circle cx="540.44" cy="700.32" r="4.45" fill="#1573c0"/>
<circle cx="541.51" cy="699.66" r="4.45" fill="#1573c0"/>
<circle cx="542.57" cy="702.14" r="4.45" fill="#1573c0"/>
<circle cx="543.64" cy="702.45" r="4.45" fill="#1573c0"/>
<circle cx="544.71" cy="701.08" r="4.45" fill="#1573c0"/>
<circle cx="545.77" cy="702.04" r="4.45" fill="#1573c0"/>
<circle cx="546.84" cy="702.35" r="4.45" fill="#1573c0"/>
<circle cx="547.90" cy="701.61" r="4.45" fill="#1573c0"/>
<circle cx="548.97" cy="702.42" r="4.45" fill="#1573c0"/>
<circle cx="550.04" cy="699.90" r="4.45" fill="#1573c0"/>
<circle cx="551.10" cy="700.67" r="4.45" fill="#1573c0"/>
<circle cx="552.17" cy="700.71" r="4.45" fill="#1573c0"/>
<circle cx="553.24" cy="700.27" r="4.45" fill="#1573c0"/>
<circle cx="554.30" cy="702.67" r="4.45" fill="#1573c0"/>
<circle cx="555.37" cy="700.05" r="4.45" fill="#1573c0"/>
<circle cx="556.43" cy="702.00" r="4.45" fill="#1573c0"/>
<circle cx="557.50" cy="700.23" r="4.45" fill="#1573c0"/>
<circle cx="558.57" cy="701.12" r="4.45" fill="#1573c0"/>
<circle cx="559.63" cy="701.32" r="4.45" fill="#1573c0"/>
<circle cx="560.70" cy="700.64" r="4.45" fill="#1573c0"/>
<circle cx="561.77" cy="701.69" r="4.45" fill="#1573c0"/>
<circle cx="562.83" cy="701.75" r="4.45" fill="#1573c0"/>
<circle cx="563.90" cy="701.13" r="4.45" fill="#1573c0"/>
<circle cx="564.96" cy="702.42" r="4.45" fill="#1573c0"/>
<circle cx="566.03" cy="700.71" r="4.45" fill="#1573c0"/>
<circle cx="567.10" cy="700.84" r="4.45" fill="#1573c0"/>
<circle cx="568.16" cy="701.35" r="4.45" fill="#1573c0"/>
<circle cx="569.23" cy="701.45" r="4.45" fill="#1573c0"/>
<circle cx="570.30" cy="700.97" r="4.45" fill="#1573c0"/>
<circle cx="571.36" cy="703.13" r="4.45" fill="#1573c0"/>
<circle cx="572.43" cy="702.89" r="4.45" fill="#1573c0"/>
<circle cx="573.49" cy="700.75" r="4.45" fill="#1573c0"/>
<circle cx="574.56" cy="701.57" r="4.45" fill="#1573c0"/>
<circle cx="575.63" cy="701.19" r="4.45" fill="#1573c0"/>
<circle cx="576.69" cy="701.87" r="4.45" fill="#1573c0"/>
<circle cx="577.76" cy="701.38" r="4.45" fill="#1573c0"/>
<circle cx="578.83" cy="702.09" r="4.45" fill="#1573c0"/>
<circle cx="579.89" cy="703.38" r="4.45" fill="#1573c0"/>
<circle cx="580.96" cy="701.79" r="4.45" fill="#1573c0"/>
<circle cx="582.02" cy="702.62" r="4.45" fill="#1573c0"/>
<circle cx="583.09" cy="702.49" r="4.45" fill="#1573c0"/>
<polyline points="370.91,508.61 371.98,517.64 373.04,533.82 374.11,554.04 375.17,574.88 376.24,593.63 377.31,608.80 378.37,620.14 379.44,628.30 380.51,634.26 381.57,638.91 382.64,642.85 383.70,646.45 384.77,649.89 385.84,653.24 386.90,656.54 387.97,659.72 389.04,662.67 390.10,665.15 391.17,666.95 392.23,667.89 393.30,668.00 394.37,667.52 395.43,666.89 396.50,666.60 397.57,667.03 398.63,668.28 399.70,670.18 400.76,672.41 401.83,674.62 402.90,676.55 403.96,678.02 405.03,678.99 406.10,679.48 407.16,679.57 408.23,679.44 409.29,679.30 410.36,679.35 411.43,679.75 412.49,680.50 413.56,681.54 414.62,682.72 415.69,683.91 416.76,685.00 417.82,685.93 418.89,686.68 419.96,687.24 421.02,687.64 422.09,687.91 423.15,688.08 424.22,688.17 425.29,688.20 426.35,688.19 427.42,688.17 428.49,688.19 429.55,688.28 430.62,688.43 431.68,688.63 432.75,688.82 433.82,688.97 434.88,689.12 435.95,689.30 437.02,689.58 438.08,689.97 439.15,690.45 440.21,690.96 441.28,691.42 442.35,691.77 443.41,692.01 444.48,692.13 445.55,692.17 446.61,692.16 447.68,692.15 448.74,692.18 449.81,692.27 450.88,692.43 451.94,692.64 453.01,692.90 454.08,693.20 455.14,693.53 456.21,693.87 457.27,694.24 458.34,694.61 459.41,694.96 460.47,695.28 461.54,695.56 462.61,695.77 463.67,695.92 464.74,696.01 465.80,696.05 466.87,696.10 467.94,696.18 469.00,696.33 470.07,696.55 471.14,696.80 472.20,697.06 473.27,697.29 474.33,697.47 475.40,697.62 476.47,697.76 477.53,697.91 478.60,698.08 479.67,698.27 480.73,698.45 481.80,698.61 482.86,698.73 483.93,698.80 485.00,698.84 486.06,698.86 487.13,698.91 488.20,698.99 489.26,699.10 490.33,699.25 491.39,699.38 492.46,699.49 493.53,699.55 494.59,699.57 495.66,699.58 496.73,699.59 497.79,699.63 498.86,699.71 499.92,699.83 500.99,699.96 502.06,700.10 503.12,700.24 504.19,700.36 505.26,700.46 506.32,700.54 507.39,700.59 508.45,700.64 509.52,700.67 510.59,700.70 511.65,700.73 512.72,700.76 513.79,700.78 514.85,700.79 515.92,700.79 516.98,700.77 518.05,700.72 519.12,700.64 520.18,700.54 521.25,700.44 522.32,700.33 523.38,700.24 524.45,700.16 525.51,700.11 526.58,700.07 527.65,700.07 528.71,700.11 529.78,700.18 530.85,700.29 531.91,700.43 532.98,700.57 534.04,700.71 535.11,700.85 536.18,700.99 537.24,701.11 538.31,701.21 539.38,701.28 540.44,701.35 541.51,701.42 542.57,701.49 543.64,701.55 544.71,701.60 545.77,701.61 546.84,701.57 547.90,701.48 548.97,701.36 550.04,701.24 551.10,701.13 552.17,701.06 553.24,701.03 554.30,701.03 555.37,701.05 556.43,701.07 557.50,701.10 558.57,701.13 559.63,701.18 560.70,701.24 561.77,701.29 562.83,701.34 563.90,701.37 564.96,701.38 566.03,701.40 567.10,701.44 568.16,701.49 569.23,701.56 570.30,701.63 571.36,701.69 572.43,701.73 573.49,701.74 574.56,701.76 575.63,701.79 576.69,701.86 577.76,701.96 578.83,702.07 579.89,702.18 580.96,702.27 582.02,702.34 583.09,702.37" fill="none" stroke="#ff7f0e" stroke-width="3.56" stroke-dasharray="3.62 5.98" stroke-linejoin="round"/>
</g>
<rect x="360.30" y="415.90" width="233.40" height="300.00" fill="none" stroke="#000" stroke-width="1.55" stroke-linejoin="miter"/>
<line x1="360.30" y1="662.99" x2="353.80" y2="662.99" stroke="#000" stroke-width="1.55"/>
<text x="346.90" y="670.49" text-anchor="end">1</text>
<line x1="360.30" y1="595.46" x2="353.80" y2="595.46" stroke="#000" stroke-width="1.55"/>
<text x="346.90" y="602.96" text-anchor="end">2</text>
<line x1="360.30" y1="527.93" x2="353.80" y2="527.93" stroke="#000" stroke-width="1.55"/>
<text x="346.90" y="535.43" text-anchor="end">3</text>
<line x1="360.30" y1="460.40" x2="353.80" y2="460.40" stroke="#000" stroke-width="1.55"/>
<text x="346.90" y="467.90" text-anchor="end">4</text>
<line x1="369.84" y1="715.90" x2="369.84" y2="722.40" stroke="#000" stroke-width="1.55"/>
<text x="369.84" y="743.40" text-anchor="middle">0</text>
<line x1="476.47" y1="715.90" x2="476.47" y2="722.40" stroke="#000" stroke-width="1.55"/>
<text x="476.47" y="743.40" text-anchor="middle">100</text>
<line x1="583.09" y1="715.90" x2="583.09" y2="722.40" stroke="#000" stroke-width="1.55"/>
<text x="583.09" y="743.40" text-anchor="middle">200</text>
<text x="477.00" y="405.63" text-anchor="middle" font-size="21.9">val/cls_loss</text></g>
<g><clipPath id="c7"><rect x="669.10" y="415.90" width="233.40" height="300.00"/></clipPath>
<g clip-path="url(#c7)">
<polyline points="679.71,430.00 680.78,531.90 681.84,553.80 682.91,624.70 683.97,633.50 685.04,628.00 686.11,622.00 687.17,615.90 688.24,650.30 689.31,645.00 690.37,640.00 691.44,655.00 692.50,627.10 693.57,661.40 694.64,658.00 695.70,662.00 696.77,667.00 697.84,660.00 698.90,653.50 699.97,668.00 701.03,670.00 702.10,672.00 703.17,674.20 704.23,668.00 705.30,666.20 706.37,675.00 707.43,678.00 708.50,672.60 709.56,676.00 710.63,680.00 711.70,675.38 712.76,682.20 713.83,679.05 714.90,682.27 715.96,679.00 717.03,680.12 718.09,681.34 719.16,675.80 720.23,684.73 721.29,683.00 722.36,680.34 723.42,684.41 724.49,686.06 725.56,687.00 726.62,684.24 727.69,686.85 728.76,688.52 729.82,685.97 730.89,682.45 731.95,685.62 733.02,684.16 734.09,687.59 735.15,685.07 736.22,685.00 737.29,688.08 738.35,685.42 739.42,690.22 740.48,692.08 741.55,692.54 742.62,689.01 743.68,691.01 744.75,691.90 745.82,691.24 746.88,691.31 747.95,688.36 749.01,689.01 750.08,691.81 751.15,692.00 752.21,690.49 753.28,693.10 754.35,693.77 755.41,694.80 756.48,692.07 757.54,692.93 758.61,696.01 759.68,694.52 760.74,695.50 761.81,694.27 762.88,696.65 763.94,696.02 765.01,697.17 766.07,692.66 767.14,693.45 768.21,694.82 769.27,695.07 770.34,696.00 771.41,697.60 772.47,695.69 773.54,698.71 774.60,697.33 775.67,694.29 776.74,696.64 777.80,696.49 778.87,697.64 779.94,698.00 781.00,695.60 782.07,694.94 783.13,697.57 784.20,694.58 785.27,698.62 786.33,697.33 787.40,699.94 788.47,700.01 789.53,696.36 790.60,699.61 791.66,699.55 792.73,696.80 793.80,699.02 794.86,700.75 795.93,699.63 797.00,696.56 798.06,698.69 799.13,698.60 800.19,696.39 801.26,701.42 802.33,700.94 803.39,697.72 804.46,699.73 805.53,699.13 806.59,698.63 807.66,699.54 808.72,699.78 809.79,701.19 810.86,697.40 811.92,700.18 812.99,699.73 814.06,698.07 815.12,698.06 816.19,700.58 817.25,701.86 818.32,697.66 819.39,699.68 820.45,701.98 821.52,700.02 822.59,699.52 823.65,698.92 824.72,698.00 825.78,698.66 826.85,700.60 827.92,700.49 828.98,700.58 830.05,699.37 831.12,702.22 832.18,702.13 833.25,700.23 834.31,701.65 835.38,701.81 836.45,699.72 837.51,698.75 838.58,699.11 839.65,699.01 840.71,699.76 841.78,697.81 842.84,699.15 843.91,700.40 844.98,699.80 846.04,700.31 847.11,701.32 848.18,702.24 849.24,699.18 850.31,698.87 851.37,699.87 852.44,700.50 853.51,698.36 854.57,697.54 855.64,698.40 856.70,698.58 857.77,699.52 858.84,700.48 859.90,698.82 860.97,702.18 862.04,701.66 863.10,700.40 864.17,698.99 865.23,698.15 866.30,700.60 867.37,700.88 868.43,697.63 869.50,701.18 870.57,701.74 871.63,700.46 872.70,700.82 873.76,701.62 874.83,702.04 875.90,699.06 876.96,697.60 878.03,698.85 879.10,698.15 880.16,699.17 881.23,699.82 882.29,701.25 883.36,702.06 884.43,698.75 885.49,702.06 886.56,698.22 887.63,699.50 888.69,698.21 889.76,698.60 890.82,697.39 891.89,698.53" fill="none" stroke="#1573c0" stroke-width="3.56" stroke-linejoin="round" stroke-linecap="square"/>
<circle cx="679.71" cy="430.00" r="4.45" fill="#1573c0"/>
<circle cx="680.78" cy="531.90" r="4.45" fill="#1573c0"/>
<circle cx="681.84" cy="553.80" r="4.45" fill="#1573c0"/>
<circle cx="682.91" cy="624.70" r="4.45" fill="#1573c0"/>
<circle cx="683.97" cy="633.50" r="4.45" fill="#1573c0"/>
<circle cx="685.04" cy="628.00" r="4.45" fill="#1573c0"/>
<circle cx="686.11" cy="622.00" r="4.45" fill="#1573c0"/>
<circle cx="687.17" cy="615.90" r="4.45" fill="#1573c0"/>
<circle cx="688.24" cy="650.30" r="4.45" fill="#1573c0"/>
<circle cx="689.31" cy="645.00" r="4.45" fill="#1573c0"/>
<circle cx="690.37" cy="640.00" r="4.45" fill="#1573c0"/>
<circle cx="691.44" cy="655.00" r="4.45" fill="#1573c0"/>
<circle cx="692.50" cy="627.10" r="4.45" fill="#1573c0"/>
<circle cx="693.57" cy="661.40" r="4.45" fill="#1573c0"/>
<circle cx="694.64" cy="658.00" r="4.45" fill="#1573c0"/>
<circle cx="695.70" cy="662.00" r="4.45" fill="#1573c0"/>
<circle cx="696.77" cy="667.00" r="4.45" fill="#1573c0"/>
<circle cx="697.84" cy="660.00" r="4.45" fill="#1573c0"/>
<circle cx="698.90" cy="653.50" r="4.45" fill="#1573c0"/>
<circle cx="699.97" cy="668.00" r="4.45" fill="#1573c0"/>
<circle cx="701.03" cy="670.00" r="4.45" fill="#1573c0"/>
<circle cx="702.10" cy="672.00" r="4.45" fill="#1573c0"/>
<circle cx="703.17" cy="674.20" r="4.45" fill="#1573c0"/>
<circle cx="704.23" cy="668.00" r="4.45" fill="#1573c0"/>
<circle cx="705.30" cy="666.20" r="4.45" fill="#1573c0"/>
<circle cx="706.37" cy="675.00" r="4.45" fill="#1573c0"/>
<circle cx="707.43" cy="678.00" r="4.45" fill="#1573c0"/>
<circle cx="708.50" cy="672.60" r="4.45" fill="#1573c0"/>
<circle cx="709.56" cy="676.00" r="4.45" fill="#1573c0"/>
<circle cx="710.63" cy="680.00" r="4.45" fill="#1573c0"/>
<circle cx="711.70" cy="675.38" r="4.45" fill="#1573c0"/>
<circle cx="712.76" cy="682.20" r="4.45" fill="#1573c0"/>
<circle cx="713.83" cy="679.05" r="4.45" fill="#1573c0"/>
<circle cx="714.90" cy="682.27" r="4.45" fill="#1573c0"/>
<circle cx="715.96" cy="679.00" r="4.45" fill="#1573c0"/>
<circle cx="717.03" cy="680.12" r="4.45" fill="#1573c0"/>
<circle cx="718.09" cy="681.34" r="4.45" fill="#1573c0"/>
<circle cx="719.16" cy="675.80" r="4.45" fill="#1573c0"/>
<circle cx="720.23" cy="684.73" r="4.45" fill="#1573c0"/>
<circle cx="721.29" cy="683.00" r="4.45" fill="#1573c0"/>
<circle cx="722.36" cy="680.34" r="4.45" fill="#1573c0"/>
<circle cx="723.42" cy="684.41" r="4.45" fill="#1573c0"/>
<circle cx="724.49" cy="686.06" r="4.45" fill="#1573c0"/>
<circle cx="725.56" cy="687.00" r="4.45" fill="#1573c0"/>
<circle cx="726.62" cy="684.24" r="4.45" fill="#1573c0"/>
<circle cx="727.69" cy="686.85" r="4.45" fill="#1573c0"/>
<circle cx="728.76" cy="688.52" r="4.45" fill="#1573c0"/>
<circle cx="729.82" cy="685.97" r="4.45" fill="#1573c0"/>
<circle cx="730.89" cy="682.45" r="4.45" fill="#1573c0"/>
<circle cx="731.95" cy="685.62" r="4.45" fill="#1573c0"/>
<circle cx="733.02" cy="684.16" r="4.45" fill="#1573c0"/>
<circle cx="734.09" cy="687.59" r="4.45" fill="#1573c0"/>
<circle cx="735.15" cy="685.07" r="4.45" fill="#1573c0"/>
<circle cx="736.22" cy="685.00" r="4.45" fill="#1573c0"/>
<circle cx="737.29" cy="688.08" r="4.45" fill="#1573c0"/>
<circle cx="738.35" cy="685.42" r="4.45" fill="#1573c0"/>
<circle cx="739.42" cy="690.22" r="4.45" fill="#1573c0"/>
<circle cx="740.48" cy="692.08" r="4.45" fill="#1573c0"/>
<circle cx="741.55" cy="692.54" r="4.45" fill="#1573c0"/>
<circle cx="742.62" cy="689.01" r="4.45" fill="#1573c0"/>
<circle cx="743.68" cy="691.01" r="4.45" fill="#1573c0"/>
<circle cx="744.75" cy="691.90" r="4.45" fill="#1573c0"/>
<circle cx="745.82" cy="691.24" r="4.45" fill="#1573c0"/>
<circle cx="746.88" cy="691.31" r="4.45" fill="#1573c0"/>
<circle cx="747.95" cy="688.36" r="4.45" fill="#1573c0"/>
<circle cx="749.01" cy="689.01" r="4.45" fill="#1573c0"/>
<circle cx="750.08" cy="691.81" r="4.45" fill="#1573c0"/>
<circle cx="751.15" cy="692.00" r="4.45" fill="#1573c0"/>
<circle cx="752.21" cy="690.49" r="4.45" fill="#1573c0"/>
<circle cx="753.28" cy="693.10" r="4.45" fill="#1573c0"/>
<circle cx="754.35" cy="693.77" r="4.45" fill="#1573c0"/>
<circle cx="755.41" cy="694.80" r="4.45" fill="#1573c0"/>
<circle cx="756.48" cy="692.07" r="4.45" fill="#1573c0"/>
<circle cx="757.54" cy="692.93" r="4.45" fill="#1573c0"/>
<circle cx="758.61" cy="696.01" r="4.45" fill="#1573c0"/>
<circle cx="759.68" cy="694.52" r="4.45" fill="#1573c0"/>
<circle cx="760.74" cy="695.50" r="4.45" fill="#1573c0"/>
<circle cx="761.81" cy="694.27" r="4.45" fill="#1573c0"/>
<circle cx="762.88" cy="696.65" r="4.45" fill="#1573c0"/>
<circle cx="763.94" cy="696.02" r="4.45" fill="#1573c0"/>
<circle cx="765.01" cy="697.17" r="4.45" fill="#1573c0"/>
<circle cx="766.07" cy="692.66" r="4.45" fill="#1573c0"/>
<circle cx="767.14" cy="693.45" r="4.45" fill="#1573c0"/>
<circle cx="768.21" cy="694.82" r="4.45" fill="#1573c0"/>
<circle cx="769.27" cy="695.07" r="4.45" fill="#1573c0"/>
<circle cx="770.34" cy="696.00" r="4.45" fill="#1573c0"/>
<circle cx="771.41" cy="697.60" r="4.45" fill="#1573c0"/>
<circle cx="772.47" cy="695.69" r="4.45" fill="#1573c0"/>
<circle cx="773.54" cy="698.71" r="4.45" fill="#1573c0"/>
<circle cx="774.60" cy="697.33" r="4.45" fill="#1573c0"/>
<circle cx="775.67" cy="694.29" r="4.45" fill="#1573c0"/>
<circle cx="776.74" cy="696.64" r="4.45" fill="#1573c0"/>
<circle cx="777.80" cy="696.49" r="4.45" fill="#1573c0"/>
<circle cx="778.87" cy="697.64" r="4.45" fill="#1573c0"/>
<circle cx="779.94" cy="698.00" r="4.45" fill="#1573c0"/>
<circle cx="781.00" cy="695.60" r="4.45" fill="#1573c0"/>
<circle cx="782.07" cy="694.94" r="4.45" fill="#1573c0"/>
<circle cx="783.13" cy="697.57" r="4.45" fill="#1573c0"/>
<circle cx="784.20" cy="694.58" r="4.45" fill="#1573c0"/>
<circle cx="785.27" cy="698.62" r="4.45" fill="#1573c0"/>
<circle cx="786.33" cy="697.33" r="4.45" fill="#1573c0"/>
<circle cx="787.40" cy="699.94" r="4.45" fill="#1573c0"/>
<circle cx="788.47" cy="700.01" r="4.45" fill="#1573c0"/>
<circle cx="789.53" cy="696.36" r="4.45" fill="#1573c0"/>
<circle cx="790.60" cy="699.61" r="4.45" fill="#1573c0"/>
<circle cx="791.66" cy="699.55" r="4.45" fill="#1573c0"/>
<circle cx="792.73" cy="696.80" r="4.45" fill="#1573c0"/>
<circle cx="793.80" cy="699.02" r="4.45" fill="#1573c0"/>
<circle cx="794.86" cy="700.75" r="4.45" fill="#1573c0"/>
<circle cx="795.93" cy="699.63" r="4.45" fill="#1573c0"/>
<circle cx="797.00" cy="696.56" r="4.45" fill="#1573c0"/>
<circle cx="798.06" cy="698.69" r="4.45" fill="#1573c0"/>
<circle cx="799.13" cy="698.60" r="4.45" fill="#1573c0"/>
<circle cx="800.19" cy="696.39" r="4.45" fill="#1573c0"/>
<circle cx="801.26" cy="701.42" r="4.45" fill="#1573c0"/>
<circle cx="802.33" cy="700.94" r="4.45" fill="#1573c0"/>
<circle cx="803.39" cy="697.72" r="4.45" fill="#1573c0"/>
<circle cx="804.46" cy="699.73" r="4.45" fill="#1573c0"/>
<circle cx="805.53" cy="699.13" r="4.45" fill="#1573c0"/>
<circle cx="806.59" cy="698.63" r="4.45" fill="#1573c0"/>
<circle cx="807.66" cy="699.54" r="4.45" fill="#1573c0"/>
<circle cx="808.72" cy="699.78" r="4.45" fill="#1573c0"/>
<circle cx="809.79" cy="701.19" r="4.45" fill="#1573c0"/>
<circle cx="810.86" cy="697.40" r="4.45" fill="#1573c0"/>
<circle cx="811.92" cy="700.18" r="4.45" fill="#1573c0"/>
<circle cx="812.99" cy="699.73" r="4.45" fill="#1573c0"/>
<circle cx="814.06" cy="698.07" r="4.45" fill="#1573c0"/>
<circle cx="815.12" cy="698.06" r="4.45" fill="#1573c0"/>
<circle cx="816.19" cy="700.58" r="4.45" fill="#1573c0"/>
<circle cx="817.25" cy="701.86" r="4.45" fill="#1573c0"/>
<circle cx="818.32" cy="697.66" r="4.45" fill="#1573c0"/>
<circle cx="819.39" cy="699.68" r="4.45" fill="#1573c0"/>
<circle cx="820.45" cy="701.98" r="4.45" fill="#1573c0"/>
<circle cx="821.52" cy="700.02" r="4.45" fill="#1573c0"/>
<circle cx="822.59" cy="699.52" r="4.45" fill="#1573c0"/>
<circle cx="823.65" cy="698.92" r="4.45" fill="#1573c0"/>
<circle cx="824.72" cy="698.00" r="4.45" fill="#1573c0"/>
<circle cx="825.78" cy="698.66" r="4.45" fill="#1573c0"/>
<circle cx="826.85" cy="700.60" r="4.45" fill="#1573c0"/>
<circle cx="827.92" cy="700.49" r="4.45" fill="#1573c0"/>
<circle cx="828.98" cy="700.58" r="4.45" fill="#1573c0"/>
<circle cx="830.05" cy="699.37" r="4.45" fill="#1573c0"/>
<circle cx="831.12" cy="702.22" r="4.45" fill="#1573c0"/>
<circle cx="832.18" cy="702.13" r="4.45" fill="#1573c0"/>
<circle cx="833.25" cy="700.23" r="4.45" fill="#1573c0"/>
<circle cx="834.31" cy="701.65" r="4.45" fill="#1573c0"/>
<circle cx="835.38" cy="701.81" r="4.45" fill="#1573c0"/>
<circle cx="836.45" cy="699.72" r="4.45" fill="#1573c0"/>
<circle cx="837.51" cy="698.75" r="4.45" fill="#1573c0"/>
<circle cx="838.58" cy="699.11" r="4.45" fill="#1573c0"/>
<circle cx="839.65" cy="699.01" r="4.45" fill="#1573c0"/>
<circle cx="840.71" cy="699.76" r="4.45" fill="#1573c0"/>
<circle cx="841.78" cy="697.81" r="4.45" fill="#1573c0"/>
<circle cx="842.84" cy="699.15" r="4.45" fill="#1573c0"/>
<circle cx="843.91" cy="700.40" r="4.45" fill="#1573c0"/>
<circle cx="844.98" cy="699.80" r="4.45" fill="#1573c0"/>
<circle cx="846.04" cy="700.31" r="4.45" fill="#1573c0"/>
<circle cx="847.11" cy="701.32" r="4.45" fill="#1573c0"/>
<circle cx="848.18" cy="702.24" r="4.45" fill="#1573c0"/>
<circle cx="849.24" cy="699.18" r="4.45" fill="#1573c0"/>
<circle cx="850.31" cy="698.87" r="4.45" fill="#1573c0"/>
<circle cx="851.37" cy="699.87" r="4.45" fill="#1573c0"/>
<circle cx="852.44" cy="700.50" r="4.45" fill="#1573c0"/>
<circle cx="853.51" cy="698.36" r="4.45" fill="#1573c0"/>
<circle cx="854.57" cy="697.54" r="4.45" fill="#1573c0"/>
<circle cx="855.64" cy="698.40" r="4.45" fill="#1573c0"/>
<circle cx="856.70" cy="698.58" r="4.45" fill="#1573c0"/>
<circle cx="857.77" cy="699.52" r="4.45" fill="#1573c0"/>
<circle cx="858.84" cy="700.48" r="4.45" fill="#1573c0"/>
<circle cx="859.90" cy="698.82" r="4.45" fill="#1573c0"/>
<circle cx="860.97" cy="702.18" r="4.45" fill="#1573c0"/>
<circle cx="862.04" cy="701.66" r="4.45" fill="#1573c0"/>
<circle cx="863.10" cy="700.40" r="4.45" fill="#1573c0"/>
<circle cx="864.17" cy="698.99" r="4.45" fill="#1573c0"/>
<circle cx="865.23" cy="698.15" r="4.45" fill="#1573c0"/>
<circle cx="866.30" cy="700.60" r="4.45" fill="#1573c0"/>
<circle cx="867.37" cy="700.88" r="4.45" fill="#1573c0"/>
<circle cx="868.43" cy="697.63" r="4.45" fill="#1573c0"/>
<circle cx="869.50" cy="701.18" r="4.45" fill="#1573c0"/>
<circle cx="870.57" cy="701.74" r="4.45" fill="#1573c0"/>
<circle cx="871.63" cy="700.46" r="4.45" fill="#1573c0"/>
<circle cx="872.70" cy="700.82" r="4.45" fill="#1573c0"/>
<circle cx="873.76" cy="701.62" r="4.45" fill="#1573c0"/>
<circle cx="874.83" cy="702.04" r="4.45" fill="#1573c0"/>
<circle cx="875.90" cy="699.06" r="4.45" fill="#1573c0"/>
<circle cx="876.96" cy="697.60" r="4.45" fill="#1573c0"/>
<circle cx="878.03" cy="698.85" r="4.45" fill="#1573c0"/>
<circle cx="879.10" cy="698.15" r="4.45" fill="#1573c0"/>
<circle cx="880.16" cy="699.17" r="4.45" fill="#1573c0"/>
<circle cx="881.23" cy="699.82" r="4.45" fill="#1573c0"/>
<circle cx="882.29" cy="701.25" r="4.45" fill="#1573c0"/>
<circle cx="883.36" cy="702.06" r="4.45" fill="#1573c0"/>
<circle cx="884.43" cy="698.75" r="4.45" fill="#1573c0"/>
<circle cx="885.49" cy="702.06" r="4.45" fill="#1573c0"/>
<circle cx="886.56" cy="698.22" r="4.45" fill="#1573c0"/>
<circle cx="887.63" cy="699.50" r="4.45" fill="#1573c0"/>
<circle cx="888.69" cy="698.21" r="4.45" fill="#1573c0"/>
<circle cx="889.76" cy="698.60" r="4.45" fill="#1573c0"/>
<circle cx="890.82" cy="697.39" r="4.45" fill="#1573c0"/>
<circle cx="891.89" cy="698.53" r="4.45" fill="#1573c0"/>
<polyline points="679.71,540.44 680.78,548.02 681.84,561.34 682.91,577.49 683.97,593.58 685.04,607.61 686.11,618.75 687.17,627.15 688.24,633.42 689.31,638.26 690.37,642.24 691.44,645.74 692.50,648.99 693.57,652.05 694.64,654.90 695.70,657.49 696.77,659.78 697.84,661.81 698.90,663.65 699.97,665.37 701.03,666.96 702.10,668.42 703.17,669.72 704.23,670.89 705.30,671.98 706.37,673.05 707.43,674.12 708.50,675.19 709.56,676.21 710.63,677.17 711.70,678.01 712.76,678.72 713.83,679.28 714.90,679.72 715.96,680.07 717.03,680.40 718.09,680.76 719.16,681.21 720.23,681.77 721.29,682.41 722.36,683.11 723.42,683.81 724.49,684.45 725.56,684.98 726.62,685.36 727.69,685.58 728.76,685.66 729.82,685.65 730.89,685.62 731.95,685.63 733.02,685.74 734.09,685.98 735.15,686.36 736.22,686.88 737.29,687.51 738.35,688.21 739.42,688.92 740.48,689.55 741.55,690.06 742.62,690.42 743.68,690.62 744.75,690.70 745.82,690.72 746.88,690.74 747.95,690.80 749.01,690.95 750.08,691.22 751.15,691.58 752.21,692.00 753.28,692.44 754.35,692.88 755.41,693.29 756.48,693.67 757.54,694.02 758.61,694.35 759.68,694.65 760.74,694.90 761.81,695.07 762.88,695.17 763.94,695.19 765.01,695.17 766.07,695.15 767.14,695.20 768.21,695.34 769.27,695.56 770.34,695.83 771.41,696.10 772.47,696.33 773.54,696.48 774.60,696.57 775.67,696.61 776.74,696.62 777.80,696.62 778.87,696.62 779.94,696.63 781.00,696.66 782.07,696.75 783.13,696.92 784.20,697.16 785.27,697.47 786.33,697.80 787.40,698.09 788.47,698.33 789.53,698.50 790.60,698.62 791.66,698.69 792.73,698.74 793.80,698.76 794.86,698.75 795.93,698.73 797.00,698.72 798.06,698.74 799.13,698.80 800.19,698.90 801.26,699.02 802.33,699.13 803.39,699.22 804.46,699.28 805.53,699.32 806.59,699.36 807.66,699.39 808.72,699.40 809.79,699.40 810.86,699.39 811.92,699.37 812.99,699.37 814.06,699.41 815.12,699.49 816.19,699.58 817.25,699.69 818.32,699.76 819.39,699.80 820.45,699.78 821.52,699.72 822.59,699.65 823.65,699.61 824.72,699.63 825.78,699.73 826.85,699.90 827.92,700.13 828.98,700.37 830.05,700.58 831.12,700.74 832.18,700.81 833.25,700.77 834.31,700.63 835.38,700.41 836.45,700.14 837.51,699.87 838.58,699.64 839.65,699.49 840.71,699.44 841.78,699.48 842.84,699.61 843.91,699.78 844.98,699.95 846.04,700.09 847.11,700.14 848.18,700.10 849.24,699.97 850.31,699.78 851.37,699.56 852.44,699.35 853.51,699.19 854.57,699.12 855.64,699.15 856.70,699.28 857.77,699.49 858.84,699.71 859.90,699.92 860.97,700.06 862.04,700.11 863.10,700.09 864.17,700.04 865.23,700.00 866.30,700.01 867.37,700.08 868.43,700.20 869.50,700.34 870.57,700.46 871.63,700.51 872.70,700.48 873.76,700.34 874.83,700.12 875.90,699.87 876.96,699.66 878.03,699.54 879.10,699.53 880.16,699.63 881.23,699.77 882.29,699.89 883.36,699.94 884.43,699.88 885.49,699.71 886.56,699.46 887.63,699.18 888.69,698.91 889.76,698.68 890.82,698.51 891.89,698.43" fill="none" stroke="#ff7f0e" stroke-width="3.56" stroke-dasharray="3.62 5.98" stroke-linejoin="round"/>
</g>
<rect x="669.10" y="415.90" width="233.40" height="300.00" fill="none" stroke="#000" stroke-width="1.55" stroke-linejoin="miter"/>
<line x1="669.10" y1="682.20" x2="662.60" y2="682.20" stroke="#000" stroke-width="1.55"/>
<text x="655.70" y="689.70" text-anchor="end">1.5</text>
<line x1="669.10" y1="625.58" x2="662.60" y2="625.58" stroke="#000" stroke-width="1.55"/>
<text x="655.70" y="633.08" text-anchor="end">2.0</text>
<line x1="669.10" y1="568.95" x2="662.60" y2="568.95" stroke="#000" stroke-width="1.55"/>
<text x="655.70" y="576.45" text-anchor="end">2.5</text>
<line x1="669.10" y1="512.33" x2="662.60" y2="512.33" stroke="#000" stroke-width="1.55"/>
<text x="655.70" y="519.83" text-anchor="end">3.0</text>
<line x1="669.10" y1="455.70" x2="662.60" y2="455.70" stroke="#000" stroke-width="1.55"/>
<text x="655.70" y="463.20" text-anchor="end">3.5</text>
<line x1="678.64" y1="715.90" x2="678.64" y2="722.40" stroke="#000" stroke-width="1.55"/>
<text x="678.64" y="743.40" text-anchor="middle">0</text>
<line x1="785.27" y1="715.90" x2="785.27" y2="722.40" stroke="#000" stroke-width="1.55"/>
<text x="785.27" y="743.40" text-anchor="middle">100</text>
<line x1="891.89" y1="715.90" x2="891.89" y2="722.40" stroke="#000" stroke-width="1.55"/>
<text x="891.89" y="743.40" text-anchor="middle">200</text>
<text x="785.80" y="405.63" text-anchor="middle" font-size="21.9">val/dfl_loss</text></g>
<g><clipPath id="c8"><rect x="977.90" y="415.90" width="233.40" height="300.00"/></clipPath>
<g clip-path="url(#c8)">
<polyline points="988.51,702.50 989.58,634.90 990.64,627.70 991.71,516.20 992.77,528.20 993.84,491.50 994.91,516.00 995.97,505.00 997.04,544.20 998.11,532.20 999.17,475.50 1000.24,465.90 1001.30,503.50 1002.37,459.50 1003.44,492.30 1004.50,470.00 1005.57,478.00 1006.64,462.00 1007.70,468.00 1008.77,458.00 1009.83,455.00 1010.90,452.00 1011.97,446.80 1013.03,455.00 1014.10,462.00 1015.17,485.90 1016.23,452.00 1017.30,473.10 1018.36,450.00 1019.43,442.00 1020.50,452.35 1021.56,453.51 1022.63,453.71 1023.70,445.87 1024.76,445.69 1025.83,450.72 1026.89,450.38 1027.96,478.70 1029.03,444.14 1030.09,444.63 1031.16,445.41 1032.22,443.88 1033.29,443.24 1034.36,442.42 1035.42,445.93 1036.49,439.38 1037.56,443.51 1038.62,443.28 1039.69,444.92 1040.75,436.61 1041.82,441.75 1042.89,441.36 1043.95,439.47 1045.02,435.50 1046.09,435.10 1047.15,436.01 1048.22,441.39 1049.28,435.46 1050.35,435.02 1051.42,436.73 1052.48,437.71 1053.55,452.50 1054.62,440.19 1055.68,435.21 1056.75,440.83 1057.81,432.71 1058.88,435.74 1059.95,434.02 1061.01,435.18 1062.08,435.97 1063.15,436.34 1064.21,435.97 1065.28,435.26 1066.34,444.20 1067.41,435.09 1068.48,436.47 1069.54,435.43 1070.61,435.83 1071.68,435.46 1072.74,435.17 1073.81,435.99 1074.87,435.36 1075.94,434.51 1077.01,436.42 1078.07,434.09 1079.14,433.74 1080.21,435.08 1081.27,434.63 1082.34,433.61 1083.40,433.30 1084.47,439.30 1085.54,433.67 1086.60,433.02 1087.67,434.10 1088.74,434.43 1089.80,432.56 1090.87,433.86 1091.93,432.52 1093.00,434.56 1094.07,434.37 1095.13,432.80 1096.20,432.23 1097.27,434.60 1098.33,433.31 1099.40,432.08 1100.46,431.93 1101.53,434.04 1102.60,433.08 1103.66,432.15 1104.73,433.01 1105.80,432.16 1106.86,433.52 1107.93,432.55 1108.99,433.90 1110.06,432.50 1111.13,433.59 1112.19,431.57 1113.26,432.32 1114.33,432.22 1115.39,433.09 1116.46,430.82 1117.52,433.06 1118.59,432.91 1119.66,431.67 1120.72,430.51 1121.79,432.65 1122.86,432.34 1123.92,433.01 1124.99,431.88 1126.05,433.06 1127.12,431.03 1128.19,431.08 1129.25,432.21 1130.32,432.07 1131.39,432.10 1132.45,432.56 1133.52,431.99 1134.58,431.85 1135.65,432.29 1136.72,431.66 1137.78,430.60 1138.85,432.15 1139.92,430.37 1140.98,431.72 1142.05,431.19 1143.11,430.70 1144.18,430.08 1145.25,432.19 1146.31,429.76 1147.38,431.92 1148.45,431.55 1149.51,430.89 1150.58,431.49 1151.64,430.35 1152.71,432.08 1153.78,430.04 1154.84,431.24 1155.91,430.89 1156.98,431.52 1158.04,430.93 1159.11,432.36 1160.17,432.06 1161.24,432.20 1162.31,429.58 1163.37,429.97 1164.44,430.93 1165.50,431.70 1166.57,430.57 1167.64,431.19 1168.70,429.64 1169.77,431.42 1170.84,431.54 1171.90,430.69 1172.97,429.91 1174.03,430.75 1175.10,431.72 1176.17,431.25 1177.23,432.15 1178.30,431.24 1179.37,430.03 1180.43,431.28 1181.50,429.66 1182.56,431.73 1183.63,430.10 1184.70,432.20 1185.76,430.88 1186.83,430.76 1187.90,429.81 1188.96,431.78 1190.03,432.06 1191.09,431.35 1192.16,431.21 1193.23,431.27 1194.29,431.32 1195.36,431.17 1196.43,429.39 1197.49,430.89 1198.56,431.56 1199.62,428.86 1200.69,429.25" fill="none" stroke="#1573c0" stroke-width="3.56" stroke-linejoin="round" stroke-linecap="square"/>
<circle cx="988.51" cy="702.50" r="4.45" fill="#1573c0"/>
<circle cx="989.58" cy="634.90" r="4.45" fill="#1573c0"/>
<circle cx="990.64" cy="627.70" r="4.45" fill="#1573c0"/>
<circle cx="991.71" cy="516.20" r="4.45" fill="#1573c0"/>
<circle cx="992.77" cy="528.20" r="4.45" fill="#1573c0"/>
<circle cx="993.84" cy="491.50" r="4.45" fill="#1573c0"/>
<circle cx="994.91" cy="516.00" r="4.45" fill="#1573c0"/>
<circle cx="995.97" cy="505.00" r="4.45" fill="#1573c0"/>
<circle cx="997.04" cy="544.20" r="4.45" fill="#1573c0"/>
<circle cx="998.11" cy="532.20" r="4.45" fill="#1573c0"/>
<circle cx="999.17" cy="475.50" r="4.45" fill="#1573c0"/>
<circle cx="1000.24" cy="465.90" r="4.45" fill="#1573c0"/>
<circle cx="1001.30" cy="503.50" r="4.45" fill="#1573c0"/>
<circle cx="1002.37" cy="459.50" r="4.45" fill="#1573c0"/>
<circle cx="1003.44" cy="492.30" r="4.45" fill="#1573c0"/>
<circle cx="1004.50" cy="470.00" r="4.45" fill="#1573c0"/>
<circle cx="1005.57" cy="478.00" r="4.45" fill="#1573c0"/>
<circle cx="1006.64" cy="462.00" r="4.45" fill="#1573c0"/>
<circle cx="1007.70" cy="468.00" r="4.45" fill="#1573c0"/>
<circle cx="1008.77" cy="458.00" r="4.45" fill="#1573c0"/>
<circle cx="1009.83" cy="455.00" r="4.45" fill="#1573c0"/>
<circle cx="1010.90" cy="452.00" r="4.45" fill="#1573c0"/>
<circle cx="1011.97" cy="446.80" r="4.45" fill="#1573c0"/>
<circle cx="1013.03" cy="455.00" r="4.45" fill="#1573c0"/>
<circle cx="1014.10" cy="462.00" r="4.45" fill="#1573c0"/>
<circle cx="1015.17" cy="485.90" r="4.45" fill="#1573c0"/>
<circle cx="1016.23" cy="452.00" r="4.45" fill="#1573c0"/>
<circle cx="1017.30" cy="473.10" r="4.45" fill="#1573c0"/>
<circle cx="1018.36" cy="450.00" r="4.45" fill="#1573c0"/>
<circle cx="1019.43" cy="442.00" r="4.45" fill="#1573c0"/>
<circle cx="1020.50" cy="452.35" r="4.45" fill="#1573c0"/>
<circle cx="1021.56" cy="453.51" r="4.45" fill="#1573c0"/>
<circle cx="1022.63" cy="453.71" r="4.45" fill="#1573c0"/>
<circle cx="1023.70" cy="445.87" r="4.45" fill="#1573c0"/>
<circle cx="1024.76" cy="445.69" r="4.45" fill="#1573c0"/>
<circle cx="1025.83" cy="450.72" r="4.45" fill="#1573c0"/>
<circle cx="1026.89" cy="450.38" r="4.45" fill="#1573c0"/>
<circle cx="1027.96" cy="478.70" r="4.45" fill="#1573c0"/>
<circle cx="1029.03" cy="444.14" r="4.45" fill="#1573c0"/>
<circle cx="1030.09" cy="444.63" r="4.45" fill="#1573c0"/>
<circle cx="1031.16" cy="445.41" r="4.45" fill="#1573c0"/>
<circle cx="1032.22" cy="443.88" r="4.45" fill="#1573c0"/>
<circle cx="1033.29" cy="443.24" r="4.45" fill="#1573c0"/>
<circle cx="1034.36" cy="442.42" r="4.45" fill="#1573c0"/>
<circle cx="1035.42" cy="445.93" r="4.45" fill="#1573c0"/>
<circle cx="1036.49" cy="439.38" r="4.45" fill="#1573c0"/>
<circle cx="1037.56" cy="443.51" r="4.45" fill="#1573c0"/>
<circle cx="1038.62" cy="443.28" r="4.45" fill="#1573c0"/>
<circle cx="1039.69" cy="444.92" r="4.45" fill="#1573c0"/>
<circle cx="1040.75" cy="436.61" r="4.45" fill="#1573c0"/>
<circle cx="1041.82" cy="441.75" r="4.45" fill="#1573c0"/>
<circle cx="1042.89" cy="441.36" r="4.45" fill="#1573c0"/>
<circle cx="1043.95" cy="439.47" r="4.45" fill="#1573c0"/>
<circle cx="1045.02" cy="435.50" r="4.45" fill="#1573c0"/>
<circle cx="1046.09" cy="435.10" r="4.45" fill="#1573c0"/>
<circle cx="1047.15" cy="436.01" r="4.45" fill="#1573c0"/>
<circle cx="1048.22" cy="441.39" r="4.45" fill="#1573c0"/>
<circle cx="1049.28" cy="435.46" r="4.45" fill="#1573c0"/>
<circle cx="1050.35" cy="435.02" r="4.45" fill="#1573c0"/>
<circle cx="1051.42" cy="436.73" r="4.45" fill="#1573c0"/>
<circle cx="1052.48" cy="437.71" r="4.45" fill="#1573c0"/>
<circle cx="1053.55" cy="452.50" r="4.45" fill="#1573c0"/>
<circle cx="1054.62" cy="440.19" r="4.45" fill="#1573c0"/>
<circle cx="1055.68" cy="435.21" r="4.45" fill="#1573c0"/>
<circle cx="1056.75" cy="440.83" r="4.45" fill="#1573c0"/>
<circle cx="1057.81" cy="432.71" r="4.45" fill="#1573c0"/>
<circle cx="1058.88" cy="435.74" r="4.45" fill="#1573c0"/>
<circle cx="1059.95" cy="434.02" r="4.45" fill="#1573c0"/>
<circle cx="1061.01" cy="435.18" r="4.45" fill="#1573c0"/>
<circle cx="1062.08" cy="435.97" r="4.45" fill="#1573c0"/>
<circle cx="1063.15" cy="436.34" r="4.45" fill="#1573c0"/>
<circle cx="1064.21" cy="435.97" r="4.45" fill="#1573c0"/>
<circle cx="1065.28" cy="435.26" r="4.45" fill="#1573c0"/>
<circle cx="1066.34" cy="444.20" r="4.45" fill="#1573c0"/>
<circle cx="1067.41" cy="435.09" r="4.45" fill="#1573c0"/>
<circle cx="1068.48" cy="436.47" r="4.45" fill="#1573c0"/>
<circle cx="1069.54" cy="435.43" r="4.45" fill="#1573c0"/>
<circle cx="1070.61" cy="435.83" r="4.45" fill="#1573c0"/>
<circle cx="1071.68" cy="435.46" r="4.45" fill="#1573c0"/>
<circle cx="1072.74" cy="435.17" r="4.45" fill="#1573c0"/>
<circle cx="1073.81" cy="435.99" r="4.45" fill="#1573c0"/>
<circle cx="1074.87" cy="435.36" r="4.45" fill="#1573c0"/>
<circle cx="1075.94" cy="434.51" r="4.45" fill="#1573c0"/>
<circle cx="1077.01" cy="436.42" r="4.45" fill="#1573c0"/>
<circle cx="1078.07" cy="434.09" r="4.45" fill="#1573c0"/>
<circle cx="1079.14" cy="433.74" r="4.45" fill="#1573c0"/>
<circle cx="1080.21" cy="435.08" r="4.45" fill="#1573c0"/>
<circle cx="1081.27" cy="434.63" r="4.45" fill="#1573c0"/>
<circle cx="1082.34" cy="433.61" r="4.45" fill="#1573c0"/>
<circle cx="1083.40" cy="433.30" r="4.45" fill="#1573c0"/>
<circle cx="1084.47" cy="439.30" r="4.45" fill="#1573c0"/>
<circle cx="1085.54" cy="433.67" r="4.45" fill="#1573c0"/>
<circle cx="1086.60" cy="433.02" r="4.45" fill="#1573c0"/>
<circle cx="1087.67" cy="434.10" r="4.45" fill="#1573c0"/>
<circle cx="1088.74" cy="434.43" r="4.45" fill="#1573c0"/>
<circle cx="1089.80" cy="432.56" r="4.45" fill="#1573c0"/>
<circle cx="1090.87" cy="433.86" r="4.45" fill="#1573c0"/>
<circle cx="1091.93" cy="432.52" r="4.45" fill="#1573c0"/>
<circle cx="1093.00" cy="434.56" r="4.45" fill="#1573c0"/>
<circle cx="1094.07" cy="434.37" r="4.45" fill="#1573c0"/>
<circle cx="1095.13" cy="432.80" r="4.45" fill="#1573c0"/>
<circle cx="1096.20" cy="432.23" r="4.45" fill="#1573c0"/>
<circle cx="1097.27" cy="434.60" r="4.45" fill="#1573c0"/>
<circle cx="1098.33" cy="433.31" r="4.45" fill="#1573c0"/>
<circle cx="1099.40" cy="432.08" r="4.45" fill="#1573c0"/>
<circle cx="1100.46" cy="431.93" r="4.45" fill="#1573c0"/>
<circle cx="1101.53" cy="434.04" r="4.45" fill="#1573c0"/>
<circle cx="1102.60" cy="433.08" r="4.45" fill="#1573c0"/>
<circle cx="1103.66" cy="432.15" r="4.45" fill="#1573c0"/>
<circle cx="1104.73" cy="433.01" r="4.45" fill="#1573c0"/>
<circle cx="1105.80" cy="432.16" r="4.45" fill="#1573c0"/>
<circle cx="1106.86" cy="433.52" r="4.45" fill="#1573c0"/>
<circle cx="1107.93" cy="432.55" r="4.45" fill="#1573c0"/>
<circle cx="1108.99" cy="433.90" r="4.45" fill="#1573c0"/>
<circle cx="1110.06" cy="432.50" r="4.45" fill="#1573c0"/>
<circle cx="1111.13" cy="433.59" r="4.45" fill="#1573c0"/>
<circle cx="1112.19" cy="431.57" r="4.45" fill="#1573c0"/>
<circle cx="1113.26" cy="432.32" r="4.45" fill="#1573c0"/>
<circle cx="1114.33" cy="432.22" r="4.45" fill="#1573c0"/>
<circle cx="1115.39" cy="433.09" r="4.45" fill="#1573c0"/>
<circle cx="1116.46" cy="430.82" r="4.45" fill="#1573c0"/>
<circle cx="1117.52" cy="433.06" r="4.45" fill="#1573c0"/>
<circle cx="1118.59" cy="432.91" r="4.45" fill="#1573c0"/>
<circle cx="1119.66" cy="431.67" r="4.45" fill="#1573c0"/>
<circle cx="1120.72" cy="430.51" r="4.45" fill="#1573c0"/>
<circle cx="1121.79" cy="432.65" r="4.45" fill="#1573c0"/>
<circle cx="1122.86" cy="432.34" r="4.45" fill="#1573c0"/>
<circle cx="1123.92" cy="433.01" r="4.45" fill="#1573c0"/>
<circle cx="1124.99" cy="431.88" r="4.45" fill="#1573c0"/>
<circle cx="1126.05" cy="433.06" r="4.45" fill="#1573c0"/>
<circle cx="1127.12" cy="431.03" r="4.45" fill="#1573c0"/>
<circle cx="1128.19" cy="431.08" r="4.45" fill="#1573c0"/>
<circle cx="1129.25" cy="432.21" r="4.45" fill="#1573c0"/>
<circle cx="1130.32" cy="432.07" r="4.45" fill="#1573c0"/>
<circle cx="1131.39" cy="432.10" r="4.45" fill="#1573c0"/>
<circle cx="1132.45" cy="432.56" r="4.45" fill="#1573c0"/>
<circle cx="1133.52" cy="431.99" r="4.45" fill="#1573c0"/>
<circle cx="1134.58" cy="431.85" r="4.45" fill="#1573c0"/>
<circle cx="1135.65" cy="432.29" r="4.45" fill="#1573c0"/>
<circle cx="1136.72" cy="431.66" r="4.45" fill="#1573c0"/>
<circle cx="1137.78" cy="430.60" r="4.45" fill="#1573c0"/>
<circle cx="1138.85" cy="432.15" r="4.45" fill="#1573c0"/>
<circle cx="1139.92" cy="430.37" r="4.45" fill="#1573c0"/>
<circle cx="1140.98" cy="431.72" r="4.45" fill="#1573c0"/>
<circle cx="1142.05" cy="431.19" r="4.45" fill="#1573c0"/>
<circle cx="1143.11" cy="430.70" r="4.45" fill="#1573c0"/>
<circle cx="1144.18" cy="430.08" r="4.45" fill="#1573c0"/>
<circle cx="1145.25" cy="432.19" r="4.45" fill="#1573c0"/>
<circle cx="1146.31" cy="429.76" r="4.45" fill="#1573c0"/>
<circle cx="1147.38" cy="431.92" r="4.45" fill="#1573c0"/>
<circle cx="1148.45" cy="431.55" r="4.45" fill="#1573c0"/>
<circle cx="1149.51" cy="430.89" r="4.45" fill="#1573c0"/>
<circle cx="1150.58" cy="431.49" r="4.45" fill="#1573c0"/>
<circle cx="1151.64" cy="430.35" r="4.45" fill="#1573c0"/>
<circle cx="1152.71" cy="432.08" r="4.45" fill="#1573c0"/>
<circle cx="1153.78" cy="430.04" r="4.45" fill="#1573c0"/>
<circle cx="1154.84" cy="431.24" r="4.45" fill="#1573c0"/>
<circle cx="1155.91" cy="430.89" r="4.45" fill="#1573c0"/>
<circle cx="1156.98" cy="431.52" r="4.45" fill="#1573c0"/>
<circle cx="1158.04" cy="430.93" r="4.45" fill="#1573c0"/>
<circle cx="1159.11" cy="432.36" r="4.45" fill="#1573c0"/>
<circle cx="1160.17" cy="432.06" r="4.45" fill="#1573c0"/>
<circle cx="1161.24" cy="432.20" r="4.45" fill="#1573c0"/>
<circle cx="1162.31" cy="429.58" r="4.45" fill="#1573c0"/>
<circle cx="1163.37" cy="429.97" r="4.45" fill="#1573c0"/>
<circle cx="1164.44" cy="430.93" r="4.45" fill="#1573c0"/>
<circle cx="1165.50" cy="431.70" r="4.45" fill="#1573c0"/>
<circle cx="1166.57" cy="430.57" r="4.45" fill="#1573c0"/>
<circle cx="1167.64" cy="431.19" r="4.45" fill="#1573c0"/>
<circle cx="1168.70" cy="429.64" r="4.45" fill="#1573c0"/>
<circle cx="1169.77" cy="431.42" r="4.45" fill="#1573c0"/>
<circle cx="1170.84" cy="431.54" r="4.45" fill="#1573c0"/>
<circle cx="1171.90" cy="430.69" r="4.45" fill="#1573c0"/>
<circle cx="1172.97" cy="429.91" r="4.45" fill="#1573c0"/>
<circle cx="1174.03" cy="430.75" r="4.45" fill="#1573c0"/>
<circle cx="1175.10" cy="431.72" r="4.45" fill="#1573c0"/>
<circle cx="1176.17" cy="431.25" r="4.45" fill="#1573c0"/>
<circle cx="1177.23" cy="432.15" r="4.45" fill="#1573c0"/>
<circle cx="1178.30" cy="431.24" r="4.45" fill="#1573c0"/>
<circle cx="1179.37" cy="430.03" r="4.45" fill="#1573c0"/>
<circle cx="1180.43" cy="431.28" r="4.45" fill="#1573c0"/>
<circle cx="1181.50" cy="429.66" r="4.45" fill="#1573c0"/>
<circle cx="1182.56" cy="431.73" r="4.45" fill="#1573c0"/>
<circle cx="1183.63" cy="430.10" r="4.45" fill="#1573c0"/>
<circle cx="1184.70" cy="432.20" r="4.45" fill="#1573c0"/>
<circle cx="1185.76" cy="430.88" r="4.45" fill="#1573c0"/>
<circle cx="1186.83" cy="430.76" r="4.45" fill="#1573c0"/>
<circle cx="1187.90" cy="429.81" r="4.45" fill="#1573c0"/>
<circle cx="1188.96" cy="431.78" r="4.45" fill="#1573c0"/>
<circle cx="1190.03" cy="432.06" r="4.45" fill="#1573c0"/>
<circle cx="1191.09" cy="431.35" r="4.45" fill="#1573c0"/>
<circle cx="1192.16" cy="431.21" r="4.45" fill="#1573c0"/>
<circle cx="1193.23" cy="431.27" r="4.45" fill="#1573c0"/>
<circle cx="1194.29" cy="431.32" r="4.45" fill="#1573c0"/>
<circle cx="1195.36" cy="431.17" r="4.45" fill="#1573c0"/>
<circle cx="1196.43" cy="429.39" r="4.45" fill="#1573c0"/>
<circle cx="1197.49" cy="430.89" r="4.45" fill="#1573c0"/>
<circle cx="1198.56" cy="431.56" r="4.45" fill="#1573c0"/>
<circle cx="1199.62" cy="428.86" r="4.45" fill="#1573c0"/>
<circle cx="1200.69" cy="429.25" r="4.45" fill="#1573c0"/>
<polyline points="988.51,612.64 989.58,604.58 990.64,590.32 991.71,572.90 992.77,555.43 993.84,540.17 994.91,528.03 995.97,518.70 997.04,511.21 998.11,504.63 999.17,498.43 1000.24,492.55 1001.30,487.17 1002.37,482.43 1003.44,478.30 1004.50,474.59 1005.57,471.12 1006.64,467.82 1007.70,464.77 1008.77,462.16 1009.83,460.24 1010.90,459.16 1011.97,458.89 1013.03,459.18 1014.10,459.58 1015.17,459.67 1016.23,459.15 1017.30,457.99 1018.36,456.40 1019.43,454.71 1020.50,453.24 1021.56,452.17 1022.63,451.58 1023.70,451.40 1024.76,451.49 1025.83,451.62 1026.89,451.56 1027.96,451.09 1029.03,450.17 1030.09,448.89 1031.16,447.46 1032.22,446.09 1033.29,444.95 1034.36,444.07 1035.42,443.42 1036.49,442.92 1037.56,442.47 1038.62,442.01 1039.69,441.49 1040.75,440.89 1041.82,440.23 1042.89,439.54 1043.95,438.88 1045.02,438.32 1046.09,437.91 1047.15,437.70 1048.22,437.72 1049.28,437.94 1050.35,438.31 1051.42,438.73 1052.48,439.06 1053.55,439.16 1054.62,438.96 1055.68,438.47 1056.75,437.80 1057.81,437.12 1058.88,436.55 1059.95,436.19 1061.01,436.06 1062.08,436.13 1063.15,436.32 1064.21,436.55 1065.28,436.73 1066.34,436.79 1067.41,436.73 1068.48,436.55 1069.54,436.30 1070.61,436.04 1071.68,435.81 1072.74,435.61 1073.81,435.43 1074.87,435.28 1075.94,435.13 1077.01,434.99 1078.07,434.86 1079.14,434.76 1080.21,434.69 1081.27,434.65 1082.34,434.63 1083.40,434.60 1084.47,434.53 1085.54,434.41 1086.60,434.25 1087.67,434.07 1088.74,433.90 1089.80,433.76 1090.87,433.65 1091.93,433.58 1093.00,433.51 1094.07,433.45 1095.13,433.37 1096.20,433.29 1097.27,433.19 1098.33,433.10 1099.40,433.01 1100.46,432.95 1101.53,432.90 1102.60,432.87 1103.66,432.85 1104.73,432.85 1105.80,432.86 1106.86,432.87 1107.93,432.86 1108.99,432.83 1110.06,432.77 1111.13,432.68 1112.19,432.58 1113.26,432.47 1114.33,432.39 1115.39,432.31 1116.46,432.25 1117.52,432.20 1118.59,432.16 1119.66,432.13 1120.72,432.13 1121.79,432.13 1122.86,432.14 1123.92,432.13 1124.99,432.11 1126.05,432.07 1127.12,432.02 1128.19,431.99 1129.25,431.98 1130.32,431.99 1131.39,431.99 1132.45,431.98 1133.52,431.94 1134.58,431.86 1135.65,431.75 1136.72,431.63 1137.78,431.50 1138.85,431.38 1139.92,431.27 1140.98,431.18 1142.05,431.11 1143.11,431.07 1144.18,431.05 1145.25,431.06 1146.31,431.08 1147.38,431.10 1148.45,431.12 1149.51,431.12 1150.58,431.12 1151.64,431.11 1152.71,431.11 1153.78,431.12 1154.84,431.16 1155.91,431.22 1156.98,431.27 1158.04,431.31 1159.11,431.31 1160.17,431.26 1161.24,431.18 1162.31,431.08 1163.37,430.98 1164.44,430.91 1165.50,430.87 1166.57,430.85 1167.64,430.84 1168.70,430.84 1169.77,430.85 1170.84,430.87 1171.90,430.91 1172.97,430.95 1174.03,431.01 1175.10,431.05 1176.17,431.08 1177.23,431.07 1178.30,431.04 1179.37,430.99 1180.43,430.94 1181.50,430.92 1182.56,430.92 1183.63,430.93 1184.70,430.97 1185.76,431.01 1186.83,431.05 1187.90,431.11 1188.96,431.16 1190.03,431.19 1191.09,431.19 1192.16,431.15 1193.23,431.06 1194.29,430.94 1195.36,430.77 1196.43,430.59 1197.49,430.41 1198.56,430.23 1199.62,430.10 1200.69,430.02" fill="none" stroke="#ff7f0e" stroke-width="3.56" stroke-dasharray="3.62 5.98" stroke-linejoin="round"/>
</g>
<rect x="977.90" y="415.90" width="233.40" height="300.00" fill="none" stroke="#000" stroke-width="1.55" stroke-linejoin="miter"/>
<line x1="977.90" y1="705.90" x2="971.40" y2="705.90" stroke="#000" stroke-width="1.55"/>
<text x="964.50" y="713.40" text-anchor="end">0.0</text>
<line x1="977.90" y1="648.26" x2="971.40" y2="648.26" stroke="#000" stroke-width="1.55"/>
<text x="964.50" y="655.76" text-anchor="end">0.2</text>
<line x1="977.90" y1="590.62" x2="971.40" y2="590.62" stroke="#000" stroke-width="1.55"/>
<text x="964.50" y="598.12" text-anchor="end">0.4</text>
<line x1="977.90" y1="532.98" x2="971.40" y2="532.98" stroke="#000" stroke-width="1.55"/>
<text x="964.50" y="540.48" text-anchor="end">0.6</text>
<line x1="977.90" y1="475.34" x2="971.40" y2="475.34" stroke="#000" stroke-width="1.55"/>
<text x="964.50" y="482.84" text-anchor="end">0.8</text>
<line x1="977.90" y1="417.70" x2="971.40" y2="417.70" stroke="#000" stroke-width="1.55"/>
<text x="964.50" y="425.20" text-anchor="end">1.0</text>
<line x1="987.44" y1="715.90" x2="987.44" y2="722.40" stroke="#000" stroke-width="1.55"/>
<text x="987.44" y="743.40" text-anchor="middle">0</text>
<line x1="1094.07" y1="715.90" x2="1094.07" y2="722.40" stroke="#000" stroke-width="1.55"/>
<text x="1094.07" y="743.40" text-anchor="middle">100</text>
<line x1="1200.69" y1="715.90" x2="1200.69" y2="722.40" stroke="#000" stroke-width="1.55"/>
<text x="1200.69" y="743.40" text-anchor="middle">200</text>
<text x="1094.60" y="405.63" text-anchor="middle" font-size="21.9">metrics/mAP50(B)</text></g>
<g><clipPath id="c9"><rect x="1286.90" y="415.90" width="233.40" height="300.00"/></clipPath>
<g clip-path="url(#c9)">
<polyline points="1297.51,702.50 1298.58,664.50 1299.64,651.70 1300.71,558.10 1301.77,530.40 1302.84,545.00 1303.91,540.00 1304.97,566.60 1306.04,576.20 1307.11,503.80 1308.17,520.00 1309.24,544.30 1310.30,487.90 1311.37,510.00 1312.44,500.00 1313.50,495.00 1314.57,505.00 1315.64,492.00 1316.70,513.40 1317.77,490.00 1318.83,486.00 1319.90,482.00 1320.97,467.70 1322.03,485.00 1323.10,488.00 1324.17,497.40 1325.23,478.00 1326.30,482.00 1327.36,472.00 1328.43,476.00 1329.50,461.30 1330.56,470.00 1331.63,474.00 1332.70,468.00 1333.76,472.00 1334.83,466.00 1335.89,470.00 1336.96,495.30 1338.03,468.00 1339.09,464.00 1340.16,471.90 1341.22,453.80 1342.29,459.75 1343.36,464.16 1344.42,459.27 1345.49,461.65 1346.56,457.14 1347.62,461.02 1348.69,455.74 1349.75,453.68 1350.82,454.75 1351.89,451.64 1352.95,456.78 1354.02,450.79 1355.09,452.07 1356.15,456.01 1357.22,455.84 1358.28,451.10 1359.35,453.60 1360.42,448.56 1361.48,450.61 1362.55,464.70 1363.62,449.53 1364.68,449.45 1365.75,446.37 1366.81,447.66 1367.88,445.99 1368.95,446.84 1370.01,446.70 1371.08,448.65 1372.15,444.70 1373.21,446.35 1374.28,445.48 1375.34,454.10 1376.41,445.01 1377.48,443.18 1378.54,447.04 1379.61,446.14 1380.68,446.40 1381.74,443.78 1382.81,444.41 1383.87,443.65 1384.94,443.77 1386.01,441.81 1387.07,441.73 1388.14,440.10 1389.21,441.24 1390.27,440.71 1391.34,442.08 1392.40,441.92 1393.47,448.80 1394.54,440.19 1395.60,438.88 1396.67,443.29 1397.74,439.94 1398.80,440.56 1399.87,442.82 1400.93,439.99 1402.00,439.23 1403.07,440.08 1404.13,440.21 1405.20,441.43 1406.27,437.32 1407.33,439.12 1408.40,440.52 1409.46,439.99 1410.53,439.10 1411.60,436.10 1412.66,437.38 1413.73,438.14 1414.80,436.50 1415.86,437.23 1416.93,437.70 1417.99,434.79 1419.06,433.91 1420.13,435.02 1421.19,433.56 1422.26,433.62 1423.33,436.88 1424.39,434.04 1425.46,433.09 1426.52,435.59 1427.59,432.23 1428.66,435.32 1429.72,433.85 1430.79,434.41 1431.86,432.07 1432.92,432.18 1433.99,434.41 1435.05,431.36 1436.12,432.30 1437.19,433.71 1438.25,432.07 1439.32,432.79 1440.39,435.44 1441.45,435.41 1442.52,433.56 1443.58,437.10 1444.65,430.70 1445.72,435.47 1446.78,433.39 1447.85,434.43 1448.92,433.22 1449.98,434.75 1451.05,433.22 1452.11,433.79 1453.18,430.92 1454.25,432.26 1455.31,433.53 1456.38,430.52 1457.45,432.14 1458.51,430.71 1459.58,432.35 1460.64,433.86 1461.71,430.16 1462.78,433.66 1463.84,432.43 1464.91,432.50 1465.98,430.50 1467.04,431.65 1468.11,430.91 1469.17,429.59 1470.24,429.52 1471.31,431.61 1472.37,433.05 1473.44,432.10 1474.50,431.23 1475.57,430.14 1476.64,433.49 1477.70,432.30 1478.77,433.22 1479.84,433.56 1480.90,432.34 1481.97,433.24 1483.03,432.43 1484.10,429.47 1485.17,433.13 1486.23,430.28 1487.30,431.72 1488.37,432.01 1489.43,431.89 1490.50,433.72 1491.56,430.41 1492.63,429.64 1493.70,433.85 1494.76,433.36 1495.83,431.97 1496.90,431.82 1497.96,430.36 1499.03,431.52 1500.09,430.36 1501.16,433.52 1502.23,430.38 1503.29,431.09 1504.36,433.00 1505.43,431.66 1506.49,433.55 1507.56,434.36 1508.62,432.17 1509.69,430.97" fill="none" stroke="#1573c0" stroke-width="3.56" stroke-linejoin="round" stroke-linecap="square"/>
<circle cx="1297.51" cy="702.50" r="4.45" fill="#1573c0"/>
<circle cx="1298.58" cy="664.50" r="4.45" fill="#1573c0"/>
<circle cx="1299.64" cy="651.70" r="4.45" fill="#1573c0"/>
<circle cx="1300.71" cy="558.10" r="4.45" fill="#1573c0"/>
<circle cx="1301.77" cy="530.40" r="4.45" fill="#1573c0"/>
<circle cx="1302.84" cy="545.00" r="4.45" fill="#1573c0"/>
<circle cx="1303.91" cy="540.00" r="4.45" fill="#1573c0"/>
<circle cx="1304.97" cy="566.60" r="4.45" fill="#1573c0"/>
<circle cx="1306.04" cy="576.20" r="4.45" fill="#1573c0"/>
<circle cx="1307.11" cy="503.80" r="4.45" fill="#1573c0"/>
<circle cx="1308.17" cy="520.00" r="4.45" fill="#1573c0"/>
<circle cx="1309.24" cy="544.30" r="4.45" fill="#1573c0"/>
<circle cx="1310.30" cy="487.90" r="4.45" fill="#1573c0"/>
<circle cx="1311.37" cy="510.00" r="4.45" fill="#1573c0"/>
<circle cx="1312.44" cy="500.00" r="4.45" fill="#1573c0"/>
<circle cx="1313.50" cy="495.00" r="4.45" fill="#1573c0"/>
<circle cx="1314.57" cy="505.00" r="4.45" fill="#1573c0"/>
<circle cx="1315.64" cy="492.00" r="4.45" fill="#1573c0"/>
<circle cx="1316.70" cy="513.40" r="4.45" fill="#1573c0"/>
<circle cx="1317.77" cy="490.00" r="4.45" fill="#1573c0"/>
<circle cx="1318.83" cy="486.00" r="4.45" fill="#1573c0"/>
<circle cx="1319.90" cy="482.00" r="4.45" fill="#1573c0"/>
<circle cx="1320.97" cy="467.70" r="4.45" fill="#1573c0"/>
<circle cx="1322.03" cy="485.00" r="4.45" fill="#1573c0"/>
<circle cx="1323.10" cy="488.00" r="4.45" fill="#1573c0"/>
<circle cx="1324.17" cy="497.40" r="4.45" fill="#1573c0"/>
<circle cx="1325.23" cy="478.00" r="4.45" fill="#1573c0"/>
<circle cx="1326.30" cy="482.00" r="4.45" fill="#1573c0"/>
<circle cx="1327.36" cy="472.00" r="4.45" fill="#1573c0"/>
<circle cx="1328.43" cy="476.00" r="4.45" fill="#1573c0"/>
<circle cx="1329.50" cy="461.30" r="4.45" fill="#1573c0"/>
<circle cx="1330.56" cy="470.00" r="4.45" fill="#1573c0"/>
<circle cx="1331.63" cy="474.00" r="4.45" fill="#1573c0"/>
<circle cx="1332.70" cy="468.00" r="4.45" fill="#1573c0"/>
<circle cx="1333.76" cy="472.00" r="4.45" fill="#1573c0"/>
<circle cx="1334.83" cy="466.00" r="4.45" fill="#1573c0"/>
<circle cx="1335.89" cy="470.00" r="4.45" fill="#1573c0"/>
<circle cx="1336.96" cy="495.30" r="4.45" fill="#1573c0"/>
<circle cx="1338.03" cy="468.00" r="4.45" fill="#1573c0"/>
<circle cx="1339.09" cy="464.00" r="4.45" fill="#1573c0"/>
<circle cx="1340.16" cy="471.90" r="4.45" fill="#1573c0"/>
<circle cx="1341.22" cy="453.80" r="4.45" fill="#1573c0"/>
<circle cx="1342.29" cy="459.75" r="4.45" fill="#1573c0"/>
<circle cx="1343.36" cy="464.16" r="4.45" fill="#1573c0"/>
<circle cx="1344.42" cy="459.27" r="4.45" fill="#1573c0"/>
<circle cx="1345.49" cy="461.65" r="4.45" fill="#1573c0"/>
<circle cx="1346.56" cy="457.14" r="4.45" fill="#1573c0"/>
<circle cx="1347.62" cy="461.02" r="4.45" fill="#1573c0"/>
<circle cx="1348.69" cy="455.74" r="4.45" fill="#1573c0"/>
<circle cx="1349.75" cy="453.68" r="4.45" fill="#1573c0"/>
<circle cx="1350.82" cy="454.75" r="4.45" fill="#1573c0"/>
<circle cx="1351.89" cy="451.64" r="4.45" fill="#1573c0"/>
<circle cx="1352.95" cy="456.78" r="4.45" fill="#1573c0"/>
<circle cx="1354.02" cy="450.79" r="4.45" fill="#1573c0"/>
<circle cx="1355.09" cy="452.07" r="4.45" fill="#1573c0"/>
<circle cx="1356.15" cy="456.01" r="4.45" fill="#1573c0"/>
<circle cx="1357.22" cy="455.84" r="4.45" fill="#1573c0"/>
<circle cx="1358.28" cy="451.10" r="4.45" fill="#1573c0"/>
<circle cx="1359.35" cy="453.60" r="4.45" fill="#1573c0"/>
<circle cx="1360.42" cy="448.56" r="4.45" fill="#1573c0"/>
<circle cx="1361.48" cy="450.61" r="4.45" fill="#1573c0"/>
<circle cx="1362.55" cy="464.70" r="4.45" fill="#1573c0"/>
<circle cx="1363.62" cy="449.53" r="4.45" fill="#1573c0"/>
<circle cx="1364.68" cy="449.45" r="4.45" fill="#1573c0"/>
<circle cx="1365.75" cy="446.37" r="4.45" fill="#1573c0"/>
<circle cx="1366.81" cy="447.66" r="4.45" fill="#1573c0"/>
<circle cx="1367.88" cy="445.99" r="4.45" fill="#1573c0"/>
<circle cx="1368.95" cy="446.84" r="4.45" fill="#1573c0"/>
<circle cx="1370.01" cy="446.70" r="4.45" fill="#1573c0"/>
<circle cx="1371.08" cy="448.65" r="4.45" fill="#1573c0"/>
<circle cx="1372.15" cy="444.70" r="4.45" fill="#1573c0"/>
<circle cx="1373.21" cy="446.35" r="4.45" fill="#1573c0"/>
<circle cx="1374.28" cy="445.48" r="4.45" fill="#1573c0"/>
<circle cx="1375.34" cy="454.10" r="4.45" fill="#1573c0"/>
<circle cx="1376.41" cy="445.01" r="4.45" fill="#1573c0"/>
<circle cx="1377.48" cy="443.18" r="4.45" fill="#1573c0"/>
<circle cx="1378.54" cy="447.04" r="4.45" fill="#1573c0"/>
<circle cx="1379.61" cy="446.14" r="4.45" fill="#1573c0"/>
<circle cx="1380.68" cy="446.40" r="4.45" fill="#1573c0"/>
<circle cx="1381.74" cy="443.78" r="4.45" fill="#1573c0"/>
<circle cx="1382.81" cy="444.41" r="4.45" fill="#1573c0"/>
<circle cx="1383.87" cy="443.65" r="4.45" fill="#1573c0"/>
<circle cx="1384.94" cy="443.77" r="4.45" fill="#1573c0"/>
<circle cx="1386.01" cy="441.81" r="4.45" fill="#1573c0"/>
<circle cx="1387.07" cy="441.73" r="4.45" fill="#1573c0"/>
<circle cx="1388.14" cy="440.10" r="4.45" fill="#1573c0"/>
<circle cx="1389.21" cy="441.24" r="4.45" fill="#1573c0"/>
<circle cx="1390.27" cy="440.71" r="4.45" fill="#1573c0"/>
<circle cx="1391.34" cy="442.08" r="4.45" fill="#1573c0"/>
<circle cx="1392.40" cy="441.92" r="4.45" fill="#1573c0"/>
<circle cx="1393.47" cy="448.80" r="4.45" fill="#1573c0"/>
<circle cx="1394.54" cy="440.19" r="4.45" fill="#1573c0"/>
<circle cx="1395.60" cy="438.88" r="4.45" fill="#1573c0"/>
<circle cx="1396.67" cy="443.29" r="4.45" fill="#1573c0"/>
<circle cx="1397.74" cy="439.94" r="4.45" fill="#1573c0"/>
<circle cx="1398.80" cy="440.56" r="4.45" fill="#1573c0"/>
<circle cx="1399.87" cy="442.82" r="4.45" fill="#1573c0"/>
<circle cx="1400.93" cy="439.99" r="4.45" fill="#1573c0"/>
<circle cx="1402.00" cy="439.23" r="4.45" fill="#1573c0"/>
<circle cx="1403.07" cy="440.08" r="4.45" fill="#1573c0"/>
<circle cx="1404.13" cy="440.21" r="4.45" fill="#1573c0"/>
<circle cx="1405.20" cy="441.43" r="4.45" fill="#1573c0"/>
<circle cx="1406.27" cy="437.32" r="4.45" fill="#1573c0"/>
<circle cx="1407.33" cy="439.12" r="4.45" fill="#1573c0"/>
<circle cx="1408.40" cy="440.52" r="4.45" fill="#1573c0"/>
<circle cx="1409.46" cy="439.99" r="4.45" fill="#1573c0"/>
<circle cx="1410.53" cy="439.10" r="4.45" fill="#1573c0"/>
<circle cx="1411.60" cy="436.10" r="4.45" fill="#1573c0"/>
<circle cx="1412.66" cy="437.38" r="4.45" fill="#1573c0"/>
<circle cx="1413.73" cy="438.14" r="4.45" fill="#1573c0"/>
<circle cx="1414.80" cy="436.50" r="4.45" fill="#1573c0"/>
<circle cx="1415.86" cy="437.23" r="4.45" fill="#1573c0"/>
<circle cx="1416.93" cy="437.70" r="4.45" fill="#1573c0"/>
<circle cx="1417.99" cy="434.79" r="4.45" fill="#1573c0"/>
<circle cx="1419.06" cy="433.91" r="4.45" fill="#1573c0"/>
<circle cx="1420.13" cy="435.02" r="4.45" fill="#1573c0"/>
<circle cx="1421.19" cy="433.56" r="4.45" fill="#1573c0"/>
<circle cx="1422.26" cy="433.62" r="4.45" fill="#1573c0"/>
<circle cx="1423.33" cy="436.88" r="4.45" fill="#1573c0"/>
<circle cx="1424.39" cy="434.04" r="4.45" fill="#1573c0"/>
<circle cx="1425.46" cy="433.09" r="4.45" fill="#1573c0"/>
<circle cx="1426.52" cy="435.59" r="4.45" fill="#1573c0"/>
<circle cx="1427.59" cy="432.23" r="4.45" fill="#1573c0"/>
<circle cx="1428.66" cy="435.32" r="4.45" fill="#1573c0"/>
<circle cx="1429.72" cy="433.85" r="4.45" fill="#1573c0"/>
<circle cx="1430.79" cy="434.41" r="4.45" fill="#1573c0"/>
<circle cx="1431.86" cy="432.07" r="4.45" fill="#1573c0"/>
<circle cx="1432.92" cy="432.18" r="4.45" fill="#1573c0"/>
<circle cx="1433.99" cy="434.41" r="4.45" fill="#1573c0"/>
<circle cx="1435.05" cy="431.36" r="4.45" fill="#1573c0"/>
<circle cx="1436.12" cy="432.30" r="4.45" fill="#1573c0"/>
<circle cx="1437.19" cy="433.71" r="4.45" fill="#1573c0"/>
<circle cx="1438.25" cy="432.07" r="4.45" fill="#1573c0"/>
<circle cx="1439.32" cy="432.79" r="4.45" fill="#1573c0"/>
<circle cx="1440.39" cy="435.44" r="4.45" fill="#1573c0"/>
<circle cx="1441.45" cy="435.41" r="4.45" fill="#1573c0"/>
<circle cx="1442.52" cy="433.56" r="4.45" fill="#1573c0"/>
<circle cx="1443.58" cy="437.10" r="4.45" fill="#1573c0"/>
<circle cx="1444.65" cy="430.70" r="4.45" fill="#1573c0"/>
<circle cx="1445.72" cy="435.47" r="4.45" fill="#1573c0"/>
<circle cx="1446.78" cy="433.39" r="4.45" fill="#1573c0"/>
<circle cx="1447.85" cy="434.43" r="4.45" fill="#1573c0"/>
<circle cx="1448.92" cy="433.22" r="4.45" fill="#1573c0"/>
<circle cx="1449.98" cy="434.75" r="4.45" fill="#1573c0"/>
<circle cx="1451.05" cy="433.22" r="4.45" fill="#1573c0"/>
<circle cx="1452.11" cy="433.79" r="4.45" fill="#1573c0"/>
<circle cx="1453.18" cy="430.92" r="4.45" fill="#1573c0"/>
<circle cx="1454.25" cy="432.26" r="4.45" fill="#1573c0"/>
<circle cx="1455.31" cy="433.53" r="4.45" fill="#1573c0"/>
<circle cx="1456.38" cy="430.52" r="4.45" fill="#1573c0"/>
<circle cx="1457.45" cy="432.14" r="4.45" fill="#1573c0"/>
<circle cx="1458.51" cy="430.71" r="4.45" fill="#1573c0"/>
<circle cx="1459.58" cy="432.35" r="4.45" fill="#1573c0"/>
<circle cx="1460.64" cy="433.86" r="4.45" fill="#1573c0"/>
<circle cx="1461.71" cy="430.16" r="4.45" fill="#1573c0"/>
<circle cx="1462.78" cy="433.66" r="4.45" fill="#1573c0"/>
<circle cx="1463.84" cy="432.43" r="4.45" fill="#1573c0"/>
<circle cx="1464.91" cy="432.50" r="4.45" fill="#1573c0"/>
<circle cx="1465.98" cy="430.50" r="4.45" fill="#1573c0"/>
<circle cx="1467.04" cy="431.65" r="4.45" fill="#1573c0"/>
<circle cx="1468.11" cy="430.91" r="4.45" fill="#1573c0"/>
<circle cx="1469.17" cy="429.59" r="4.45" fill="#1573c0"/>
<circle cx="1470.24" cy="429.52" r="4.45" fill="#1573c0"/>
<circle cx="1471.31" cy="431.61" r="4.45" fill="#1573c0"/>
<circle cx="1472.37" cy="433.05" r="4.45" fill="#1573c0"/>
<circle cx="1473.44" cy="432.10" r="4.45" fill="#1573c0"/>
<circle cx="1474.50" cy="431.23" r="4.45" fill="#1573c0"/>
<circle cx="1475.57" cy="430.14" r="4.45" fill="#1573c0"/>
<circle cx="1476.64" cy="433.49" r="4.45" fill="#1573c0"/>
<circle cx="1477.70" cy="432.30" r="4.45" fill="#1573c0"/>
<circle cx="1478.77" cy="433.22" r="4.45" fill="#1573c0"/>
<circle cx="1479.84" cy="433.56" r="4.45" fill="#1573c0"/>
<circle cx="1480.90" cy="432.34" r="4.45" fill="#1573c0"/>
<circle cx="1481.97" cy="433.24" r="4.45" fill="#1573c0"/>
<circle cx="1483.03" cy="432.43" r="4.45" fill="#1573c0"/>
<circle cx="1484.10" cy="429.47" r="4.45" fill="#1573c0"/>
<circle cx="1485.17" cy="433.13" r="4.45" fill="#1573c0"/>
<circle cx="1486.23" cy="430.28" r="4.45" fill="#1573c0"/>
<circle cx="1487.30" cy="431.72" r="4.45" fill="#1573c0"/>
<circle cx="1488.37" cy="432.01" r="4.45" fill="#1573c0"/>
<circle cx="1489.43" cy="431.89" r="4.45" fill="#1573c0"/>
<circle cx="1490.50" cy="433.72" r="4.45" fill="#1573c0"/>
<circle cx="1491.56" cy="430.41" r="4.45" fill="#1573c0"/>
<circle cx="1492.63" cy="429.64" r="4.45" fill="#1573c0"/>
<circle cx="1493.70" cy="433.85" r="4.45" fill="#1573c0"/>
<circle cx="1494.76" cy="433.36" r="4.45" fill="#1573c0"/>
<circle cx="1495.83" cy="431.97" r="4.45" fill="#1573c0"/>
<circle cx="1496.90" cy="431.82" r="4.45" fill="#1573c0"/>
<circle cx="1497.96" cy="430.36" r="4.45" fill="#1573c0"/>
<circle cx="1499.03" cy="431.52" r="4.45" fill="#1573c0"/>
<circle cx="1500.09" cy="430.36" r="4.45" fill="#1573c0"/>
<circle cx="1501.16" cy="433.52" r="4.45" fill="#1573c0"/>
<circle cx="1502.23" cy="430.38" r="4.45" fill="#1573c0"/>
<circle cx="1503.29" cy="431.09" r="4.45" fill="#1573c0"/>
<circle cx="1504.36" cy="433.00" r="4.45" fill="#1573c0"/>
<circle cx="1505.43" cy="431.66" r="4.45" fill="#1573c0"/>
<circle cx="1506.49" cy="433.55" r="4.45" fill="#1573c0"/>
<circle cx="1507.56" cy="434.36" r="4.45" fill="#1573c0"/>
<circle cx="1508.62" cy="432.17" r="4.45" fill="#1573c0"/>
<circle cx="1509.69" cy="430.97" r="4.45" fill="#1573c0"/>
<polyline points="1297.51,634.18 1298.58,627.07 1299.64,614.49 1300.71,599.05 1301.77,583.44 1302.84,569.58 1303.91,558.18 1304.97,548.96 1306.04,541.16 1307.11,534.05 1308.17,527.29 1309.24,520.91 1310.30,515.12 1311.37,510.15 1312.44,506.06 1313.50,502.75 1314.57,499.93 1315.64,497.32 1316.70,494.71 1317.77,492.05 1318.83,489.51 1319.90,487.31 1320.97,485.57 1322.03,484.26 1323.10,483.14 1324.17,481.92 1325.23,480.38 1326.30,478.53 1327.36,476.52 1328.43,474.61 1329.50,473.05 1330.56,471.98 1331.63,471.44 1332.70,471.32 1333.76,471.45 1334.83,471.58 1335.89,471.45 1336.96,470.86 1338.03,469.74 1339.09,468.16 1340.16,466.36 1341.22,464.57 1342.29,462.97 1343.36,461.64 1344.42,460.53 1345.49,459.56 1346.56,458.63 1347.62,457.69 1348.69,456.77 1349.75,455.90 1350.82,455.15 1351.89,454.56 1352.95,454.12 1354.02,453.82 1355.09,453.61 1356.15,453.45 1357.22,453.30 1358.28,453.14 1359.35,452.95 1360.42,452.70 1361.48,452.33 1362.55,451.79 1363.62,451.07 1364.68,450.22 1365.75,449.33 1366.81,448.52 1367.88,447.88 1368.95,447.42 1370.01,447.14 1371.08,447.01 1372.15,446.95 1373.21,446.92 1374.28,446.87 1375.34,446.75 1376.41,446.55 1377.48,446.27 1378.54,445.93 1379.61,445.54 1380.68,445.11 1381.74,444.63 1382.81,444.13 1383.87,443.60 1384.94,443.09 1386.01,442.63 1387.07,442.27 1388.14,442.04 1389.21,441.95 1390.27,441.97 1391.34,442.04 1392.40,442.09 1393.47,442.07 1394.54,441.94 1395.60,441.74 1396.67,441.49 1397.74,441.23 1398.80,440.99 1399.87,440.76 1400.93,440.55 1402.00,440.34 1403.07,440.14 1404.13,439.94 1405.20,439.75 1406.27,439.55 1407.33,439.33 1408.40,439.08 1409.46,438.78 1410.53,438.44 1411.60,438.08 1412.66,437.71 1413.73,437.33 1414.80,436.94 1415.86,436.54 1416.93,436.12 1417.99,435.70 1419.06,435.33 1420.13,435.02 1421.19,434.78 1422.26,434.61 1423.33,434.48 1424.39,434.37 1425.46,434.27 1426.52,434.15 1427.59,434.01 1428.66,433.86 1429.72,433.68 1430.79,433.49 1431.86,433.30 1432.92,433.13 1433.99,433.02 1435.05,432.99 1436.12,433.04 1437.19,433.18 1438.25,433.39 1439.32,433.63 1440.39,433.85 1441.45,434.03 1442.52,434.13 1443.58,434.15 1444.65,434.12 1445.72,434.04 1446.78,433.94 1447.85,433.81 1448.92,433.65 1449.98,433.45 1451.05,433.22 1452.11,432.96 1453.18,432.70 1454.25,432.46 1455.31,432.27 1456.38,432.13 1457.45,432.06 1458.51,432.04 1459.58,432.05 1460.64,432.07 1461.71,432.06 1462.78,432.00 1463.84,431.88 1464.91,431.71 1465.98,431.51 1467.04,431.33 1468.11,431.19 1469.17,431.14 1470.24,431.18 1471.31,431.29 1472.37,431.45 1473.44,431.64 1474.50,431.83 1475.57,432.02 1476.64,432.20 1477.70,432.35 1478.77,432.45 1479.84,432.47 1480.90,432.40 1481.97,432.27 1483.03,432.11 1484.10,431.96 1485.17,431.84 1486.23,431.78 1487.30,431.76 1488.37,431.78 1489.43,431.81 1490.50,431.85 1491.56,431.89 1492.63,431.91 1493.70,431.92 1494.76,431.89 1495.83,431.83 1496.90,431.75 1497.96,431.67 1499.03,431.62 1500.09,431.62 1501.16,431.68 1502.23,431.80 1503.29,431.95 1504.36,432.12 1505.43,432.26 1506.49,432.35 1507.56,432.40 1508.62,432.41 1509.69,432.40" fill="none" stroke="#ff7f0e" stroke-width="3.56" stroke-dasharray="3.62 5.98" stroke-linejoin="round"/>
</g>
<rect x="1286.90" y="415.90" width="233.40" height="300.00" fill="none" stroke="#000" stroke-width="1.55" stroke-linejoin="miter"/>
<line x1="1286.90" y1="703.40" x2="1280.40" y2="703.40" stroke="#000" stroke-width="1.55"/>
<text x="1273.50" y="710.90" text-anchor="end">0.0</text>
<line x1="1286.90" y1="631.80" x2="1280.40" y2="631.80" stroke="#000" stroke-width="1.55"/>
<text x="1273.50" y="639.30" text-anchor="end">0.2</text>
<line x1="1286.90" y1="560.20" x2="1280.40" y2="560.20" stroke="#000" stroke-width="1.55"/>
<text x="1273.50" y="567.70" text-anchor="end">0.4</text>
<line x1="1286.90" y1="488.60" x2="1280.40" y2="488.60" stroke="#000" stroke-width="1.55"/>
<text x="1273.50" y="496.10" text-anchor="end">0.6</text>
<line x1="1286.90" y1="417.00" x2="1280.40" y2="417.00" stroke="#000" stroke-width="1.55"/>
<text x="1273.50" y="424.50" text-anchor="end">0.8</text>
<line x1="1296.44" y1="715.90" x2="1296.44" y2="722.40" stroke="#000" stroke-width="1.55"/>
<text x="1296.44" y="743.40" text-anchor="middle">0</text>
<line x1="1403.07" y1="715.90" x2="1403.07" y2="722.40" stroke="#000" stroke-width="1.55"/>
<text x="1403.07" y="743.40" text-anchor="middle">100</text>
<line x1="1509.69" y1="715.90" x2="1509.69" y2="722.40" stroke="#000" stroke-width="1.55"/>
<text x="1509.69" y="743.40" text-anchor="middle">200</text>
<text x="1403.60" y="405.63" text-anchor="middle" font-size="21.9">metrics/mAP50-95(B)</text></g>
<g>
<rect x="438.3" y="46.5" width="145.6" height="63.1" rx="3" ry="3" fill="#ffffff" fill-opacity="0.8" stroke="#cccccc" stroke-width="1.42"/>
<line x1="445.5" y1="61.8" x2="485.5" y2="61.8" stroke="#1573c0" stroke-width="3.6" stroke-linecap="square"/>
<circle cx="465.8" cy="61.8" r="4.45" fill="#1573c0"/>
<line x1="445.5" y1="90.9" x2="484.8" y2="90.9" stroke="#ff7f0e" stroke-width="3.6" stroke-dasharray="3.62 5.98"/>
<text x="503.1" y="68.7">results</text>
<text x="503.1" y="96.9">smooth</text>
</g>
</g>
</svg>
</div></body></html>
